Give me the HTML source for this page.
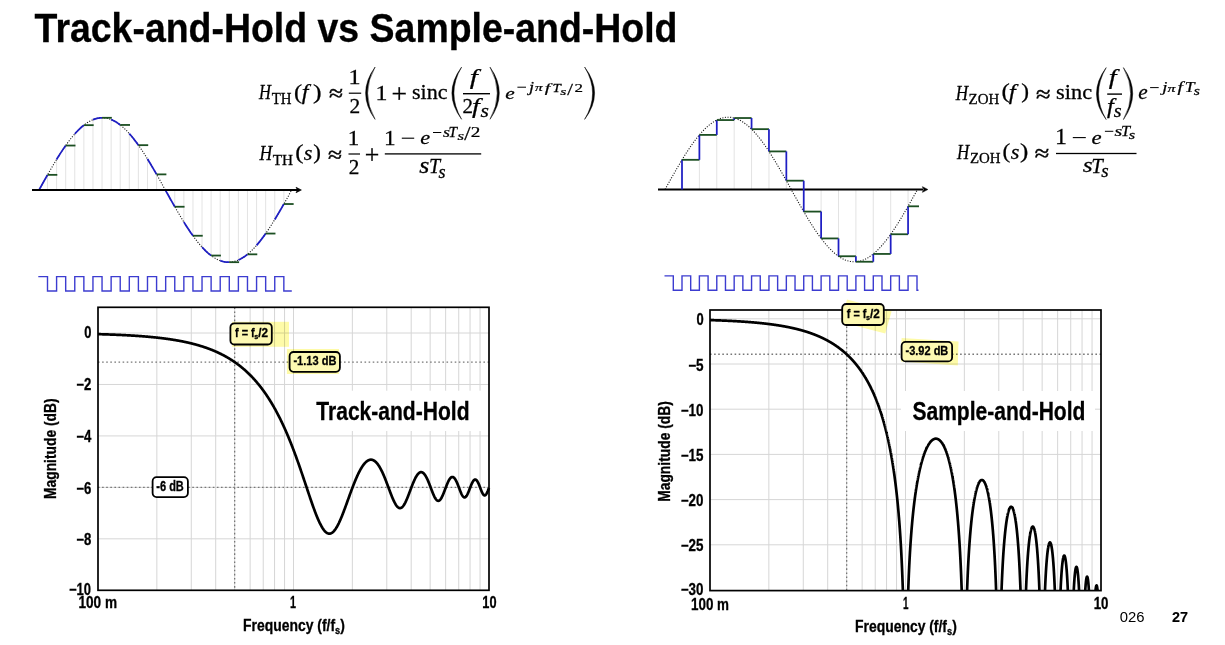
<!DOCTYPE html>
<html><head><meta charset="utf-8"><style>
html,body{margin:0;padding:0;background:#fff;}
svg{display:block;will-change:transform;}
</style></head><body>
<svg width="1225" height="645" viewBox="0 0 1225 645">
<rect width="1225" height="645" fill="#fff"/>
<text x="34.60" y="42.00" font-family='"Liberation Sans", sans-serif' font-size="40.50" font-weight="bold" font-style="normal" fill="#000" stroke="#000" stroke-width="0.3" textLength="642.90" lengthAdjust="spacingAndGlyphs" >Track-and-Hold vs Sample-and-Hold</text>
<line x1="47.50" y1="190.00" x2="47.50" y2="174.85" stroke="#e0e0e0" stroke-width="0.9"/>
<line x1="56.59" y1="190.00" x2="56.59" y2="159.42" stroke="#e0e0e0" stroke-width="0.9"/>
<line x1="65.68" y1="190.00" x2="65.68" y2="145.54" stroke="#e0e0e0" stroke-width="0.9"/>
<line x1="74.77" y1="190.00" x2="74.77" y2="133.92" stroke="#e0e0e0" stroke-width="0.9"/>
<line x1="83.86" y1="190.00" x2="83.86" y2="125.16" stroke="#e0e0e0" stroke-width="0.9"/>
<line x1="92.95" y1="190.00" x2="92.95" y2="119.69" stroke="#e0e0e0" stroke-width="0.9"/>
<line x1="102.04" y1="190.00" x2="102.04" y2="117.80" stroke="#e0e0e0" stroke-width="0.9"/>
<line x1="111.13" y1="190.00" x2="111.13" y2="119.58" stroke="#e0e0e0" stroke-width="0.9"/>
<line x1="120.22" y1="190.00" x2="120.22" y2="124.95" stroke="#e0e0e0" stroke-width="0.9"/>
<line x1="129.31" y1="190.00" x2="129.31" y2="133.62" stroke="#e0e0e0" stroke-width="0.9"/>
<line x1="138.40" y1="190.00" x2="138.40" y2="145.16" stroke="#e0e0e0" stroke-width="0.9"/>
<line x1="147.49" y1="190.00" x2="147.49" y2="158.98" stroke="#e0e0e0" stroke-width="0.9"/>
<line x1="156.58" y1="190.00" x2="156.58" y2="174.38" stroke="#e0e0e0" stroke-width="0.9"/>
<line x1="165.67" y1="190.00" x2="165.67" y2="190.57" stroke="#e0e0e0" stroke-width="0.9"/>
<line x1="174.76" y1="190.00" x2="174.76" y2="206.74" stroke="#e0e0e0" stroke-width="0.9"/>
<line x1="183.85" y1="190.00" x2="183.85" y2="222.05" stroke="#e0e0e0" stroke-width="0.9"/>
<line x1="192.94" y1="190.00" x2="192.94" y2="235.74" stroke="#e0e0e0" stroke-width="0.9"/>
<line x1="202.03" y1="190.00" x2="202.03" y2="247.09" stroke="#e0e0e0" stroke-width="0.9"/>
<line x1="211.12" y1="190.00" x2="211.12" y2="255.54" stroke="#e0e0e0" stroke-width="0.9"/>
<line x1="220.21" y1="190.00" x2="220.21" y2="260.66" stroke="#e0e0e0" stroke-width="0.9"/>
<line x1="229.30" y1="190.00" x2="229.30" y2="262.19" stroke="#e0e0e0" stroke-width="0.9"/>
<line x1="238.39" y1="190.00" x2="238.39" y2="260.04" stroke="#e0e0e0" stroke-width="0.9"/>
<line x1="247.48" y1="190.00" x2="247.48" y2="254.33" stroke="#e0e0e0" stroke-width="0.9"/>
<line x1="256.57" y1="190.00" x2="256.57" y2="245.35" stroke="#e0e0e0" stroke-width="0.9"/>
<line x1="265.66" y1="190.00" x2="265.66" y2="233.55" stroke="#e0e0e0" stroke-width="0.9"/>
<line x1="274.75" y1="190.00" x2="274.75" y2="219.54" stroke="#e0e0e0" stroke-width="0.9"/>
<line x1="283.84" y1="190.00" x2="283.84" y2="204.02" stroke="#e0e0e0" stroke-width="0.9"/>
<path d="M39.00,190.00 L40.27,187.72 L41.54,185.44 L42.81,183.17 L44.08,180.91 L45.35,178.65 L46.62,176.40 L47.89,174.17 L49.16,171.96 L50.43,169.76 L51.70,167.58 L52.97,165.43 L54.24,163.29 L55.51,161.19 L56.78,159.11 L58.05,157.07 L59.32,155.06 L60.59,153.08 L61.86,151.14 L63.13,149.24 L64.40,147.38 L65.67,145.56 L66.94,143.79 L68.21,142.06 L69.48,140.38 L70.75,138.75 L72.02,137.17 L73.29,135.64 L74.56,134.17 L75.83,132.75 L77.10,131.39 L78.37,130.09 L79.64,128.84 L80.91,127.66 L82.17,126.54 L83.44,125.49 L84.71,124.50 L85.98,123.57 L87.25,122.71 L88.52,121.92 L89.79,121.19 L91.06,120.54 L92.33,119.95 L93.60,119.43 L94.87,118.99 L96.14,118.61 L97.41,118.31 L98.68,118.07 L99.95,117.91 L101.22,117.82 L102.49,117.80 L103.76,117.86 L105.03,117.98 L106.30,118.18 L107.57,118.45 L108.84,118.79 L110.11,119.20 L111.38,119.68 L112.65,120.24 L113.92,120.86 L115.19,121.55 L116.46,122.31 L117.73,123.13 L119.00,124.03 L120.27,124.99 L121.54,126.01 L122.81,127.10 L124.08,128.25 L125.35,129.46 L126.62,130.73 L127.89,132.06 L129.16,133.45 L130.43,134.90 L131.70,136.40 L132.97,137.95 L134.24,139.55 L135.51,141.21 L136.78,142.92 L138.05,144.67 L139.32,146.46 L140.59,148.30 L141.86,150.18 L143.13,152.11 L144.40,154.06 L145.67,156.06 L146.94,158.09 L148.21,160.15 L149.48,162.24 L150.75,164.36 L152.02,166.50 L153.29,168.67 L154.56,170.85 L155.83,173.06 L157.10,175.29 L158.37,177.52 L159.64,179.78 L160.91,182.04 L162.18,184.31 L163.45,186.58 L164.72,188.86 L165.98,191.14 L167.25,193.42 L168.52,195.69 L169.79,197.96 L171.06,200.22 L172.33,202.48 L173.60,204.71 L174.87,206.94 L176.14,209.15 L177.41,211.33 L178.68,213.50 L179.95,215.64 L181.22,217.76 L182.49,219.85 L183.76,221.91 L185.03,223.94 L186.30,225.94 L187.57,227.89 L188.84,229.82 L190.11,231.70 L191.38,233.54 L192.65,235.33 L193.92,237.08 L195.19,238.79 L196.46,240.45 L197.73,242.05 L199.00,243.60 L200.27,245.10 L201.54,246.55 L202.81,247.94 L204.08,249.27 L205.35,250.54 L206.62,251.75 L207.89,252.90 L209.16,253.99 L210.43,255.01 L211.70,255.97 L212.97,256.87 L214.24,257.69 L215.51,258.45 L216.78,259.14 L218.05,259.76 L219.32,260.32 L220.59,260.80 L221.86,261.21 L223.13,261.55 L224.40,261.82 L225.67,262.02 L226.94,262.14 L228.21,262.20 L229.48,262.18 L230.75,262.09 L232.02,261.93 L233.29,261.69 L234.56,261.39 L235.83,261.01 L237.10,260.57 L238.37,260.05 L239.64,259.46 L240.91,258.81 L242.18,258.08 L243.45,257.29 L244.72,256.43 L245.99,255.50 L247.26,254.51 L248.53,253.46 L249.79,252.34 L251.06,251.16 L252.33,249.91 L253.60,248.61 L254.87,247.25 L256.14,245.83 L257.41,244.36 L258.68,242.83 L259.95,241.25 L261.22,239.62 L262.49,237.94 L263.76,236.21 L265.03,234.44 L266.30,232.62 L267.57,230.76 L268.84,228.86 L270.11,226.92 L271.38,224.94 L272.65,222.93 L273.92,220.89 L275.19,218.81 L276.46,216.71 L277.73,214.57 L279.00,212.42 L280.27,210.24 L281.54,208.04 L282.81,205.83 L284.08,203.60 L285.35,201.35 L286.62,199.09 L287.89,196.83 L289.16,194.56 L290.43,192.28 L291.70,190.00" fill="none" stroke="#1a1a1a" stroke-width="1.1" stroke-dasharray="1.1 1.5"/>
<path d="M39.00,190.00 L39.77,188.61 L40.55,187.23 L41.32,185.84 L42.09,184.46 L42.86,183.07 L43.64,181.70 L44.41,180.32 L45.18,178.95 L45.95,177.58 L46.73,176.21 L47.50,174.85" fill="none" stroke="#1e1ec4" stroke-width="1.75"/>
<path d="M56.59,159.42 L57.42,158.08 L58.24,156.76 L59.07,155.45 L59.90,154.15 L60.72,152.87 L61.55,151.61 L62.37,150.36 L63.20,149.13 L64.03,147.92 L64.85,146.72 L65.68,145.54" fill="none" stroke="#1e1ec4" stroke-width="1.75"/>
<path d="M74.77,133.92 L75.60,133.00 L76.42,132.10 L77.25,131.23 L78.08,130.38 L78.90,129.55 L79.73,128.76 L80.55,127.98 L81.38,127.24 L82.21,126.52 L83.03,125.82 L83.86,125.16" fill="none" stroke="#1e1ec4" stroke-width="1.75"/>
<path d="M92.95,119.69 L93.78,119.37 L94.60,119.08 L95.43,118.81 L96.26,118.58 L97.08,118.38 L97.91,118.21 L98.73,118.06 L99.56,117.95 L100.39,117.87 L101.21,117.82 L102.04,117.80" fill="none" stroke="#1e1ec4" stroke-width="1.75"/>
<path d="M111.13,119.58 L111.96,119.92 L112.78,120.30 L113.61,120.70 L114.44,121.13 L115.26,121.59 L116.09,122.08 L116.91,122.59 L117.74,123.14 L118.57,123.71 L119.39,124.32 L120.22,124.95" fill="none" stroke="#1e1ec4" stroke-width="1.75"/>
<path d="M129.31,133.62 L130.14,134.56 L130.96,135.52 L131.79,136.50 L132.62,137.51 L133.44,138.54 L134.27,139.59 L135.09,140.67 L135.92,141.76 L136.75,142.87 L137.57,144.01 L138.40,145.16" fill="none" stroke="#1e1ec4" stroke-width="1.75"/>
<path d="M147.49,158.98 L148.32,160.33 L149.14,161.69 L149.97,163.06 L150.80,164.44 L151.62,165.83 L152.45,167.23 L153.27,168.65 L154.10,170.07 L154.93,171.50 L155.75,172.94 L156.58,174.38" fill="none" stroke="#1e1ec4" stroke-width="1.75"/>
<path d="M165.67,190.57 L166.50,192.06 L167.32,193.54 L168.15,195.02 L168.98,196.50 L169.80,197.98 L170.63,199.45 L171.45,200.92 L172.28,202.38 L173.11,203.84 L173.93,205.29 L174.76,206.74" fill="none" stroke="#1e1ec4" stroke-width="1.75"/>
<path d="M183.85,222.05 L184.68,223.37 L185.50,224.68 L186.33,225.98 L187.16,227.26 L187.98,228.52 L188.81,229.76 L189.63,230.99 L190.46,232.21 L191.29,233.40 L192.11,234.58 L192.94,235.74" fill="none" stroke="#1e1ec4" stroke-width="1.75"/>
<path d="M202.03,247.09 L202.86,247.99 L203.68,248.86 L204.51,249.71 L205.34,250.53 L206.16,251.32 L206.99,252.09 L207.81,252.84 L208.64,253.55 L209.47,254.24 L210.29,254.91 L211.12,255.54" fill="none" stroke="#1e1ec4" stroke-width="1.75"/>
<path d="M220.21,260.66 L221.04,260.95 L221.86,261.21 L222.69,261.44 L223.52,261.64 L224.34,261.81 L225.17,261.95 L225.99,262.06 L226.82,262.14 L227.65,262.18 L228.47,262.20 L229.30,262.19" fill="none" stroke="#1e1ec4" stroke-width="1.75"/>
<path d="M238.39,260.04 L239.22,259.66 L240.04,259.26 L240.87,258.83 L241.70,258.36 L242.52,257.87 L243.35,257.35 L244.17,256.80 L245.00,256.23 L245.83,255.62 L246.65,254.99 L247.48,254.33" fill="none" stroke="#1e1ec4" stroke-width="1.75"/>
<path d="M256.57,245.35 L257.40,244.38 L258.22,243.39 L259.05,242.38 L259.88,241.35 L260.70,240.30 L261.53,239.22 L262.35,238.13 L263.18,237.01 L264.01,235.88 L264.83,234.72 L265.66,233.55" fill="none" stroke="#1e1ec4" stroke-width="1.75"/>
<path d="M274.75,219.54 L275.58,218.18 L276.40,216.80 L277.23,215.42 L278.06,214.03 L278.88,212.62 L279.71,211.21 L280.53,209.79 L281.36,208.36 L282.19,206.92 L283.01,205.47 L283.84,204.02" fill="none" stroke="#1e1ec4" stroke-width="1.75"/>
<line x1="32" y1="190.0" x2="298" y2="190.0" stroke="#000" stroke-width="1.9"/>
<path d="M296,187.2 L301.4,190.0 L296,192.8 L297.4,190.0 Z" fill="#000" stroke="#000" stroke-width="0.6" stroke-linejoin="round"/>
<line x1="47.50" y1="174.85" x2="57.30" y2="174.85" stroke="#1c4f22" stroke-width="1.8"/>
<line x1="65.68" y1="145.54" x2="75.48" y2="145.54" stroke="#1c4f22" stroke-width="1.8"/>
<line x1="83.86" y1="125.16" x2="93.66" y2="125.16" stroke="#1c4f22" stroke-width="1.8"/>
<line x1="102.04" y1="117.80" x2="111.84" y2="117.80" stroke="#1c4f22" stroke-width="1.8"/>
<line x1="120.22" y1="124.95" x2="130.02" y2="124.95" stroke="#1c4f22" stroke-width="1.8"/>
<line x1="138.40" y1="145.16" x2="148.20" y2="145.16" stroke="#1c4f22" stroke-width="1.8"/>
<line x1="156.58" y1="174.38" x2="166.38" y2="174.38" stroke="#1c4f22" stroke-width="1.8"/>
<line x1="174.76" y1="206.74" x2="184.56" y2="206.74" stroke="#1c4f22" stroke-width="1.8"/>
<line x1="192.94" y1="235.74" x2="202.74" y2="235.74" stroke="#1c4f22" stroke-width="1.8"/>
<line x1="211.12" y1="255.54" x2="220.92" y2="255.54" stroke="#1c4f22" stroke-width="1.8"/>
<line x1="229.30" y1="262.19" x2="239.10" y2="262.19" stroke="#1c4f22" stroke-width="1.8"/>
<line x1="247.48" y1="254.33" x2="257.28" y2="254.33" stroke="#1c4f22" stroke-width="1.8"/>
<line x1="265.66" y1="233.55" x2="275.46" y2="233.55" stroke="#1c4f22" stroke-width="1.8"/>
<line x1="283.84" y1="204.02" x2="293.64" y2="204.02" stroke="#1c4f22" stroke-width="1.8"/>
<path d="M38.30,276.60 L47.50,276.60 L47.50,291.00 L56.59,291.00 L56.59,291.00 L56.59,276.60 L65.68,276.60 L65.68,291.00 L74.77,291.00 L74.77,291.00 L74.77,276.60 L83.86,276.60 L83.86,291.00 L92.95,291.00 L92.95,291.00 L92.95,276.60 L102.04,276.60 L102.04,291.00 L111.13,291.00 L111.13,291.00 L111.13,276.60 L120.22,276.60 L120.22,291.00 L129.31,291.00 L129.31,291.00 L129.31,276.60 L138.40,276.60 L138.40,291.00 L147.49,291.00 L147.49,291.00 L147.49,276.60 L156.58,276.60 L156.58,291.00 L165.67,291.00 L165.67,291.00 L165.67,276.60 L174.76,276.60 L174.76,291.00 L183.85,291.00 L183.85,291.00 L183.85,276.60 L192.94,276.60 L192.94,291.00 L202.03,291.00 L202.03,291.00 L202.03,276.60 L211.12,276.60 L211.12,291.00 L220.21,291.00 L220.21,291.00 L220.21,276.60 L229.30,276.60 L229.30,291.00 L238.39,291.00 L238.39,291.00 L238.39,276.60 L247.48,276.60 L247.48,291.00 L256.57,291.00 L256.57,291.00 L256.57,276.60 L265.66,276.60 L265.66,291.00 L274.75,291.00 L274.75,291.00 L274.75,276.60 L283.84,276.60 L283.84,291.00 L291.80,291.00" fill="none" stroke="#3c3cd0" stroke-width="1.4"/>
<line x1="682.00" y1="189.50" x2="682.00" y2="159.82" stroke="#e0e0e0" stroke-width="0.9"/>
<line x1="699.39" y1="189.50" x2="699.39" y2="134.91" stroke="#e0e0e0" stroke-width="0.9"/>
<line x1="716.78" y1="189.50" x2="716.78" y2="120.06" stroke="#e0e0e0" stroke-width="0.9"/>
<line x1="734.17" y1="189.50" x2="734.17" y2="118.02" stroke="#e0e0e0" stroke-width="0.9"/>
<line x1="751.56" y1="189.50" x2="751.56" y2="129.15" stroke="#e0e0e0" stroke-width="0.9"/>
<line x1="768.95" y1="189.50" x2="768.95" y2="151.41" stroke="#e0e0e0" stroke-width="0.9"/>
<line x1="786.34" y1="189.50" x2="786.34" y2="180.69" stroke="#e0e0e0" stroke-width="0.9"/>
<line x1="803.73" y1="189.50" x2="803.73" y2="211.59" stroke="#e0e0e0" stroke-width="0.9"/>
<line x1="821.12" y1="189.50" x2="821.12" y2="238.43" stroke="#e0e0e0" stroke-width="0.9"/>
<line x1="838.51" y1="189.50" x2="838.51" y2="256.24" stroke="#e0e0e0" stroke-width="0.9"/>
<line x1="855.90" y1="189.50" x2="855.90" y2="261.75" stroke="#e0e0e0" stroke-width="0.9"/>
<line x1="873.29" y1="189.50" x2="873.29" y2="253.94" stroke="#e0e0e0" stroke-width="0.9"/>
<line x1="890.68" y1="189.50" x2="890.68" y2="234.25" stroke="#e0e0e0" stroke-width="0.9"/>
<line x1="908.07" y1="189.50" x2="908.07" y2="206.31" stroke="#e0e0e0" stroke-width="0.9"/>
<path d="M665.00,189.50 L666.27,187.22 L667.54,184.94 L668.81,182.66 L670.08,180.39 L671.34,178.13 L672.61,175.89 L673.88,173.65 L675.15,171.43 L676.42,169.23 L677.69,167.05 L678.96,164.89 L680.23,162.76 L681.49,160.65 L682.76,158.57 L684.03,156.52 L685.30,154.51 L686.57,152.53 L687.84,150.59 L689.11,148.68 L690.38,146.82 L691.65,145.00 L692.91,143.22 L694.18,141.49 L695.45,139.81 L696.72,138.17 L697.99,136.59 L699.26,135.06 L700.53,133.59 L701.80,132.17 L703.07,130.81 L704.33,129.50 L705.60,128.26 L706.87,127.08 L708.14,125.96 L709.41,124.90 L710.68,123.91 L711.95,122.98 L713.22,122.12 L714.48,121.32 L715.75,120.60 L717.02,119.94 L718.29,119.35 L719.56,118.84 L720.83,118.39 L722.10,118.01 L723.37,117.71 L724.64,117.47 L725.90,117.31 L727.17,117.22 L728.44,117.20 L729.71,117.26 L730.98,117.38 L732.25,117.58 L733.52,117.85 L734.79,118.19 L736.06,118.60 L737.32,119.09 L738.59,119.64 L739.86,120.26 L741.13,120.95 L742.40,121.71 L743.67,122.54 L744.94,123.44 L746.21,124.40 L747.47,125.42 L748.74,126.51 L750.01,127.66 L751.28,128.87 L752.55,130.15 L753.82,131.48 L755.09,132.87 L756.36,134.32 L757.63,135.82 L758.89,137.38 L760.16,138.99 L761.43,140.64 L762.70,142.35 L763.97,144.10 L765.24,145.90 L766.51,147.75 L767.78,149.63 L769.05,151.55 L770.31,153.51 L771.58,155.51 L772.85,157.54 L774.12,159.61 L775.39,161.70 L776.66,163.82 L777.93,165.97 L779.20,168.14 L780.46,170.33 L781.73,172.54 L783.00,174.77 L784.27,177.01 L785.54,179.26 L786.81,181.53 L788.08,183.80 L789.35,186.08 L790.62,188.36 L791.88,190.64 L793.15,192.92 L794.42,195.20 L795.69,197.47 L796.96,199.74 L798.23,201.99 L799.50,204.23 L800.77,206.46 L802.04,208.67 L803.30,210.86 L804.57,213.03 L805.84,215.18 L807.11,217.30 L808.38,219.39 L809.65,221.46 L810.92,223.49 L812.19,225.49 L813.45,227.45 L814.72,229.37 L815.99,231.25 L817.26,233.10 L818.53,234.90 L819.80,236.65 L821.07,238.36 L822.34,240.01 L823.61,241.62 L824.87,243.18 L826.14,244.68 L827.41,246.13 L828.68,247.52 L829.95,248.85 L831.22,250.13 L832.49,251.34 L833.76,252.49 L835.03,253.58 L836.29,254.60 L837.56,255.56 L838.83,256.46 L840.10,257.29 L841.37,258.05 L842.64,258.74 L843.91,259.36 L845.18,259.91 L846.44,260.40 L847.71,260.81 L848.98,261.15 L850.25,261.42 L851.52,261.62 L852.79,261.74 L854.06,261.80 L855.33,261.78 L856.60,261.69 L857.86,261.53 L859.13,261.29 L860.40,260.99 L861.67,260.61 L862.94,260.16 L864.21,259.65 L865.48,259.06 L866.75,258.40 L868.02,257.68 L869.28,256.88 L870.55,256.02 L871.82,255.09 L873.09,254.10 L874.36,253.04 L875.63,251.92 L876.90,250.74 L878.17,249.50 L879.43,248.19 L880.70,246.83 L881.97,245.41 L883.24,243.94 L884.51,242.41 L885.78,240.83 L887.05,239.19 L888.32,237.51 L889.59,235.78 L890.85,234.00 L892.12,232.18 L893.39,230.32 L894.66,228.41 L895.93,226.47 L897.20,224.49 L898.47,222.48 L899.74,220.43 L901.01,218.35 L902.27,216.24 L903.54,214.11 L904.81,211.95 L906.08,209.77 L907.35,207.57 L908.62,205.35 L909.89,203.11 L911.16,200.87 L912.42,198.61 L913.69,196.34 L914.96,194.06 L916.23,191.78 L917.50,189.50" fill="none" stroke="#1a1a1a" stroke-width="1.1" stroke-dasharray="1.1 1.5"/>
<line x1="658" y1="189.5" x2="923" y2="189.5" stroke="#000" stroke-width="2"/>
<path d="M922.4,186.7 L927.8,189.5 L922.4,192.3 L923.8,189.5 Z" fill="#000" stroke="#000" stroke-width="0.6" stroke-linejoin="round"/>
<line x1="682.00" y1="189.50" x2="682.00" y2="159.82" stroke="#1e1ec4" stroke-width="1.75"/>
<line x1="682.00" y1="159.82" x2="699.39" y2="159.82" stroke="#1c4f22" stroke-width="1.8"/>
<line x1="699.39" y1="159.82" x2="699.39" y2="134.91" stroke="#1e1ec4" stroke-width="1.75"/>
<line x1="699.39" y1="134.91" x2="716.78" y2="134.91" stroke="#1c4f22" stroke-width="1.8"/>
<line x1="716.78" y1="134.91" x2="716.78" y2="120.06" stroke="#1e1ec4" stroke-width="1.75"/>
<line x1="716.78" y1="120.06" x2="734.17" y2="120.06" stroke="#1c4f22" stroke-width="1.8"/>
<line x1="734.17" y1="120.06" x2="734.17" y2="118.02" stroke="#1e1ec4" stroke-width="1.75"/>
<line x1="734.17" y1="118.02" x2="751.56" y2="118.02" stroke="#1c4f22" stroke-width="1.8"/>
<line x1="751.56" y1="118.02" x2="751.56" y2="129.15" stroke="#1e1ec4" stroke-width="1.75"/>
<line x1="751.56" y1="129.15" x2="768.95" y2="129.15" stroke="#1c4f22" stroke-width="1.8"/>
<line x1="768.95" y1="129.15" x2="768.95" y2="151.41" stroke="#1e1ec4" stroke-width="1.75"/>
<line x1="768.95" y1="151.41" x2="786.34" y2="151.41" stroke="#1c4f22" stroke-width="1.8"/>
<line x1="786.34" y1="151.41" x2="786.34" y2="180.69" stroke="#1e1ec4" stroke-width="1.75"/>
<line x1="786.34" y1="180.69" x2="803.73" y2="180.69" stroke="#1c4f22" stroke-width="1.8"/>
<line x1="803.73" y1="180.69" x2="803.73" y2="211.59" stroke="#1e1ec4" stroke-width="1.75"/>
<line x1="803.73" y1="211.59" x2="821.12" y2="211.59" stroke="#1c4f22" stroke-width="1.8"/>
<line x1="821.12" y1="211.59" x2="821.12" y2="238.43" stroke="#1e1ec4" stroke-width="1.75"/>
<line x1="821.12" y1="238.43" x2="838.51" y2="238.43" stroke="#1c4f22" stroke-width="1.8"/>
<line x1="838.51" y1="238.43" x2="838.51" y2="256.24" stroke="#1e1ec4" stroke-width="1.75"/>
<line x1="838.51" y1="256.24" x2="855.90" y2="256.24" stroke="#1c4f22" stroke-width="1.8"/>
<line x1="855.90" y1="256.24" x2="855.90" y2="261.75" stroke="#1e1ec4" stroke-width="1.75"/>
<line x1="855.90" y1="261.75" x2="873.29" y2="261.75" stroke="#1c4f22" stroke-width="1.8"/>
<line x1="873.29" y1="261.75" x2="873.29" y2="253.94" stroke="#1e1ec4" stroke-width="1.75"/>
<line x1="873.29" y1="253.94" x2="890.68" y2="253.94" stroke="#1c4f22" stroke-width="1.8"/>
<line x1="890.68" y1="253.94" x2="890.68" y2="234.25" stroke="#1e1ec4" stroke-width="1.75"/>
<line x1="890.68" y1="234.25" x2="908.07" y2="234.25" stroke="#1c4f22" stroke-width="1.8"/>
<line x1="908.07" y1="234.25" x2="908.07" y2="206.31" stroke="#1e1ec4" stroke-width="1.75"/>
<line x1="908.07" y1="206.31" x2="919.00" y2="206.31" stroke="#1c4f22" stroke-width="1.8"/>
<path d="M664.50,275.90 L673.30,275.90 L673.30,290.20 L682.00,290.20 L682.00,275.90 L690.69,275.90 L690.69,290.20 L699.39,290.20 L699.39,275.90 L708.08,275.90 L708.08,290.20 L716.78,290.20 L716.78,275.90 L725.47,275.90 L725.47,290.20 L734.17,290.20 L734.17,275.90 L742.86,275.90 L742.86,290.20 L751.56,290.20 L751.56,275.90 L760.25,275.90 L760.25,290.20 L768.95,290.20 L768.95,275.90 L777.64,275.90 L777.64,290.20 L786.34,290.20 L786.34,275.90 L795.03,275.90 L795.03,290.20 L803.73,290.20 L803.73,275.90 L812.42,275.90 L812.42,290.20 L821.12,290.20 L821.12,275.90 L829.81,275.90 L829.81,290.20 L838.51,290.20 L838.51,275.90 L847.20,275.90 L847.20,290.20 L855.90,290.20 L855.90,275.90 L864.59,275.90 L864.59,290.20 L873.29,290.20 L873.29,275.90 L881.99,275.90 L881.99,290.20 L890.68,290.20 L890.68,275.90 L899.37,275.90 L899.37,290.20 L908.07,290.20 L908.07,275.90 L917.00,275.90 L917.00,290.20 L918.50,290.20" fill="none" stroke="#3c3cd0" stroke-width="1.4"/>
<text font-family='"Liberation Serif", serif' font-style="italic" font-weight="normal" font-size="100" fill="#000" stroke="#000" stroke-width="1.530" transform="matrix(0.16452,0,0,0.20153,258.881,98.900)">H</text>
<text font-family='"Liberation Serif", serif' font-style="normal" font-weight="normal" font-size="100" fill="#000" stroke="#000" stroke-width="1.831" transform="matrix(0.14852,0,0,0.15725,271.633,103.700)">TH</text>
<text font-family='"Liberation Serif", serif' font-style="normal" font-weight="normal" font-size="100" fill="#000" stroke="#000" stroke-width="1.217" transform="matrix(0.24514,0,0,0.21499,293.921,98.721)">(</text>
<text font-family='"Liberation Serif", serif' font-style="italic" font-weight="normal" font-size="100" fill="#000" stroke="#000" stroke-width="1.247" transform="matrix(0.24084,0,0,0.20829,301.735,99.263)">f</text>
<text font-family='"Liberation Serif", serif' font-style="normal" font-weight="normal" font-size="100" fill="#000" stroke="#000" stroke-width="1.187" transform="matrix(0.25681,0,0,0.21499,312.978,98.721)">)</text>
<text font-family='"Liberation Serif", serif' font-style="normal" font-weight="normal" font-size="100" fill="#000" stroke="#000" stroke-width="2.041" transform="matrix(0.25620,0,0,0.23370,329.083,101.035)">≈</text>
<text font-family='"Liberation Serif", serif' font-style="normal" font-weight="normal" font-size="100" fill="#000" stroke="#000" stroke-width="1.230" transform="matrix(0.24148,0,0,0.21364,348.375,83.800)">1</text>
<rect x="348.80" y="92.60" width="12.40" height="1.20" fill="#000"/>
<text font-family='"Liberation Serif", serif' font-style="normal" font-weight="normal" font-size="100" fill="#000" stroke="#000" stroke-width="1.334" transform="matrix(0.21446,0,0,0.20544,349.556,112.700)">2</text>
<path d="M375.10,67.00 Q356.10,93.20 375.10,119.40 Q360.10,93.20 375.10,67.00 Z" fill="#000" stroke="#000" stroke-width="0.5"/>
<text font-family='"Liberation Serif", serif' font-style="normal" font-weight="normal" font-size="100" fill="#000" stroke="#000" stroke-width="1.234" transform="matrix(0.23864,0,0,0.21515,375.400,99.500)">1</text>
<text font-family='"Liberation Serif", serif' font-style="normal" font-weight="normal" font-size="100" fill="#000" stroke="#000" stroke-width="1.018" transform="matrix(0.27527,0,0,0.27468,391.624,102.619)">+</text>
<text font-family='"Liberation Serif", serif' font-style="normal" font-weight="normal" font-size="100" fill="#000" stroke="#000" stroke-width="1.318" transform="matrix(0.22092,0,0,0.20387,411.994,99.296)">sinc</text>
<path d="M461.60,67.10 Q442.20,93.20 461.60,119.30 Q446.20,93.20 461.60,67.10 Z" fill="#000" stroke="#000" stroke-width="0.5"/>
<text font-family='"Liberation Serif", serif' font-style="italic" font-weight="normal" font-size="100" fill="#000" stroke="#000" stroke-width="1.117" transform="matrix(0.29319,0,0,0.20829,469.677,83.663)">f</text>
<rect x="463.00" y="93.00" width="27.00" height="1.40" fill="#000"/>
<text font-family='"Liberation Serif", serif' font-style="normal" font-weight="normal" font-size="100" fill="#000" stroke="#000" stroke-width="1.355" transform="matrix(0.20948,0,0,0.20393,462.578,112.700)">2</text>
<text font-family='"Liberation Serif", serif' font-style="italic" font-weight="normal" font-size="100" fill="#000" stroke="#000" stroke-width="1.160" transform="matrix(0.28010,0,0,0.20284,471.992,113.080)">f</text>
<text font-family='"Liberation Serif", serif' font-style="italic" font-weight="normal" font-size="100" fill="#000" stroke="#000" stroke-width="1.361" transform="matrix(0.21614,0,0,0.19543,480.441,116.805)">s</text>
<path d="M490.00,67.10 Q508.60,93.20 490.00,119.30 Q504.60,93.20 490.00,67.10 Z" fill="#000" stroke="#000" stroke-width="0.5"/>
<text font-family='"Liberation Serif", serif' font-style="italic" font-weight="normal" font-size="100" fill="#000" stroke="#000" stroke-width="1.453" transform="matrix(0.21282,0,0,0.17256,505.240,99.027)">e</text>
<rect x="517.40" y="86.70" width="8.60" height="1.00" fill="#000"/>
<text font-family='"Liberation Serif", serif' font-style="italic" font-weight="normal" font-size="100" fill="#000" stroke="#000" stroke-width="1.670" transform="matrix(0.18333,0,0,0.15200,528.962,91.562)">j</text>
<text font-family='"Liberation Serif", serif' font-style="italic" font-weight="normal" font-size="100" fill="#000" stroke="#000" stroke-width="2.146" transform="matrix(0.15222,0,0,0.10874,534.924,91.491)">π</text>
<text font-family='"Liberation Serif", serif' font-style="italic" font-weight="normal" font-size="100" fill="#000" stroke="#000" stroke-width="1.709" transform="matrix(0.19895,0,0,0.12868,544.781,92.059)">f</text>
<text font-family='"Liberation Serif", serif' font-style="italic" font-weight="normal" font-size="100" fill="#000" stroke="#000" stroke-width="2.028" transform="matrix(0.14936,0,0,0.12672,552.414,91.600)">T</text>
<text font-family='"Liberation Serif", serif' font-style="italic" font-weight="normal" font-size="100" fill="#000" stroke="#000" stroke-width="2.157" transform="matrix(0.15562,0,0,0.10395,560.313,94.696)">s</text>
<text font-family='"Liberation Serif", serif' font-style="normal" font-weight="normal" font-size="100" fill="#000" stroke="#000" stroke-width="1.468" transform="matrix(0.20504,0,0,0.17638,567.300,94.624)">/</text>
<text font-family='"Liberation Serif", serif' font-style="normal" font-weight="normal" font-size="100" fill="#000" stroke="#000" stroke-width="1.870" transform="matrix(0.16958,0,0,0.12991,574.454,91.900)">2</text>
<path d="M584.60,67.00 Q604.60,93.20 584.60,119.40 Q600.60,93.20 584.60,67.00 Z" fill="#000" stroke="#000" stroke-width="0.5"/>
<text font-family='"Liberation Serif", serif' font-style="italic" font-weight="normal" font-size="100" fill="#000" stroke="#000" stroke-width="1.436" transform="matrix(0.17481,0,0,0.21527,259.492,160.000)">H</text>
<text font-family='"Liberation Serif", serif' font-style="normal" font-weight="normal" font-size="100" fill="#000" stroke="#000" stroke-width="1.854" transform="matrix(0.15241,0,0,0.14962,272.626,164.700)">TH</text>
<text font-family='"Liberation Serif", serif' font-style="normal" font-weight="normal" font-size="100" fill="#000" stroke="#000" stroke-width="1.216" transform="matrix(0.24903,0,0,0.21169,295.304,159.291)">(</text>
<text font-family='"Liberation Serif", serif' font-style="italic" font-weight="normal" font-size="100" fill="#000" stroke="#000" stroke-width="1.316" transform="matrix(0.22190,0,0,0.20374,303.734,159.796)">s</text>
<text font-family='"Liberation Serif", serif' font-style="normal" font-weight="normal" font-size="100" fill="#000" stroke="#000" stroke-width="1.269" transform="matrix(0.22957,0,0,0.21169,313.165,159.291)">)</text>
<text font-family='"Liberation Serif", serif' font-style="normal" font-weight="normal" font-size="100" fill="#000" stroke="#000" stroke-width="2.099" transform="matrix(0.25620,0,0,0.22011,327.883,161.636)">≈</text>
<text font-family='"Liberation Serif", serif' font-style="normal" font-weight="normal" font-size="100" fill="#000" stroke="#000" stroke-width="1.266" transform="matrix(0.23011,0,0,0.21212,347.775,145.000)">1</text>
<rect x="348.50" y="153.40" width="11.50" height="1.20" fill="#000"/>
<text font-family='"Liberation Serif", serif' font-style="normal" font-weight="normal" font-size="100" fill="#000" stroke="#000" stroke-width="1.322" transform="matrix(0.21197,0,0,0.21148,348.867,174.000)">2</text>
<text font-family='"Liberation Serif", serif' font-style="normal" font-weight="normal" font-size="100" fill="#000" stroke="#000" stroke-width="1.051" transform="matrix(0.25806,0,0,0.27468,364.710,163.519)">+</text>
<rect x="384.80" y="153.25" width="96.40" height="1.30" fill="#000"/>
<text font-family='"Liberation Serif", serif' font-style="normal" font-weight="normal" font-size="100" fill="#000" stroke="#000" stroke-width="1.258" transform="matrix(0.23295,0,0,0.21212,383.950,145.000)">1</text>
<rect x="401.80" y="137.65" width="12.40" height="1.10" fill="#000"/>
<text font-family='"Liberation Serif", serif' font-style="italic" font-weight="normal" font-size="100" fill="#000" stroke="#000" stroke-width="1.358" transform="matrix(0.22308,0,0,0.18919,420.308,144.311)">e</text>
<rect x="433.00" y="132.00" width="8.30" height="1.00" fill="#000"/>
<text font-family='"Liberation Serif", serif' font-style="italic" font-weight="normal" font-size="100" fill="#000" stroke="#000" stroke-width="1.761" transform="matrix(0.17867,0,0,0.13929,442.986,137.161)">s</text>
<text font-family='"Liberation Serif", serif' font-style="italic" font-weight="normal" font-size="100" fill="#000" stroke="#000" stroke-width="1.918" transform="matrix(0.15301,0,0,0.13893,448.590,137.300)">T</text>
<text font-family='"Liberation Serif", serif' font-style="italic" font-weight="normal" font-size="100" fill="#000" stroke="#000" stroke-width="1.946" transform="matrix(0.16715,0,0,0.12058,457.399,140.079)">s</text>
<text font-family='"Liberation Serif", serif' font-style="normal" font-weight="normal" font-size="100" fill="#000" stroke="#000" stroke-width="1.354" transform="matrix(0.22662,0,0,0.18685,464.300,140.013)">/</text>
<text font-family='"Liberation Serif", serif' font-style="normal" font-weight="normal" font-size="100" fill="#000" stroke="#000" stroke-width="1.662" transform="matrix(0.19202,0,0,0.14502,470.655,137.300)">2</text>
<text font-family='"Liberation Serif", serif' font-style="italic" font-weight="normal" font-size="100" fill="#000" stroke="#000" stroke-width="1.167" transform="matrix(0.25937,0,0,0.22037,419.289,173.180)">s</text>
<text font-family='"Liberation Serif", serif' font-style="italic" font-weight="normal" font-size="100" fill="#000" stroke="#000" stroke-width="1.378" transform="matrix(0.20036,0,0,0.20611,428.978,173.400)">T</text>
<text font-family='"Liberation Serif", serif' font-style="italic" font-weight="normal" font-size="100" fill="#000" stroke="#000" stroke-width="1.510" transform="matrix(0.18156,0,0,0.18919,438.582,177.511)">s</text>
<text font-family='"Liberation Serif", serif' font-style="italic" font-weight="normal" font-size="100" fill="#000" stroke="#000" stroke-width="1.467" transform="matrix(0.17095,0,0,0.21069,955.788,99.900)">H</text>
<text font-family='"Liberation Serif", serif' font-style="normal" font-weight="normal" font-size="100" fill="#000" stroke="#000" stroke-width="1.895" transform="matrix(0.14965,0,0,0.14583,968.582,103.554)">ZOH</text>
<text font-family='"Liberation Serif", serif' font-style="normal" font-weight="normal" font-size="100" fill="#000" stroke="#000" stroke-width="1.224" transform="matrix(0.24903,0,0,0.20838,1001.604,98.462)">(</text>
<text font-family='"Liberation Serif", serif' font-style="italic" font-weight="normal" font-size="100" fill="#000" stroke="#000" stroke-width="1.220" transform="matrix(0.24869,0,0,0.21047,1008.826,99.217)">f</text>
<text font-family='"Liberation Serif", serif' font-style="normal" font-weight="normal" font-size="100" fill="#000" stroke="#000" stroke-width="1.267" transform="matrix(0.23346,0,0,0.20838,1021.253,98.462)">)</text>
<text font-family='"Liberation Serif", serif' font-style="normal" font-weight="normal" font-size="100" fill="#000" stroke="#000" stroke-width="2.007" transform="matrix(0.26446,0,0,0.23370,1036.060,101.735)">≈</text>
<text font-family='"Liberation Serif", serif' font-style="normal" font-weight="normal" font-size="100" fill="#000" stroke="#000" stroke-width="1.319" transform="matrix(0.22352,0,0,0.20089,1056.084,99.499)">sinc</text>
<path d="M1106.20,67.60 Q1086.80,93.60 1106.20,119.60 Q1090.80,93.60 1106.20,67.60 Z" fill="#000" stroke="#000" stroke-width="0.5"/>
<text font-family='"Liberation Serif", serif' font-style="italic" font-weight="normal" font-size="100" fill="#000" stroke="#000" stroke-width="1.160" transform="matrix(0.28010,0,0,0.20284,1108.692,84.180)">f</text>
<rect x="1107.20" y="93.40" width="14.80" height="1.40" fill="#000"/>
<text font-family='"Liberation Serif", serif' font-style="italic" font-weight="normal" font-size="100" fill="#000" stroke="#000" stroke-width="1.240" transform="matrix(0.24346,0,0,0.20829,1106.932,113.363)">f</text>
<text font-family='"Liberation Serif", serif' font-style="italic" font-weight="normal" font-size="100" fill="#000" stroke="#000" stroke-width="1.417" transform="matrix(0.20173,0,0,0.19335,1113.758,117.107)">s</text>
<path d="M1123.40,67.60 Q1142.00,93.60 1123.40,119.60 Q1138.00,93.60 1123.40,67.60 Z" fill="#000" stroke="#000" stroke-width="0.5"/>
<text font-family='"Liberation Serif", serif' font-style="italic" font-weight="normal" font-size="100" fill="#000" stroke="#000" stroke-width="1.338" transform="matrix(0.21282,0,0,0.20582,1138.340,99.494)">e</text>
<rect x="1150.10" y="87.10" width="8.60" height="1.00" fill="#000"/>
<text font-family='"Liberation Serif", serif' font-style="italic" font-weight="normal" font-size="100" fill="#000" stroke="#000" stroke-width="1.691" transform="matrix(0.18611,0,0,0.14514,1162.291,91.808)">j</text>
<text font-family='"Liberation Serif", serif' font-style="italic" font-weight="normal" font-size="100" fill="#000" stroke="#000" stroke-width="2.099" transform="matrix(0.15800,0,0,0.10874,1167.621,91.991)">π</text>
<text font-family='"Liberation Serif", serif' font-style="italic" font-weight="normal" font-size="100" fill="#000" stroke="#000" stroke-width="1.686" transform="matrix(0.19372,0,0,0.13850,1177.587,91.950)">f</text>
<text font-family='"Liberation Serif", serif' font-style="italic" font-weight="normal" font-size="100" fill="#000" stroke="#000" stroke-width="1.792" transform="matrix(0.17668,0,0,0.13588,1184.834,91.700)">T</text>
<text font-family='"Liberation Serif", serif' font-style="italic" font-weight="normal" font-size="100" fill="#000" stroke="#000" stroke-width="1.935" transform="matrix(0.15850,0,0,0.13098,1193.810,95.069)">s</text>
<text font-family='"Liberation Serif", serif' font-style="italic" font-weight="normal" font-size="100" fill="#000" stroke="#000" stroke-width="1.478" transform="matrix(0.16967,0,0,0.20916,957.087,159.000)">H</text>
<text font-family='"Liberation Serif", serif' font-style="normal" font-weight="normal" font-size="100" fill="#000" stroke="#000" stroke-width="1.889" transform="matrix(0.14914,0,0,0.14732,969.884,163.153)">ZOH</text>
<text font-family='"Liberation Serif", serif' font-style="normal" font-weight="normal" font-size="100" fill="#000" stroke="#000" stroke-width="1.255" transform="matrix(0.23346,0,0,0.21279,1002.573,158.368)">(</text>
<text font-family='"Liberation Serif", serif' font-style="italic" font-weight="normal" font-size="100" fill="#000" stroke="#000" stroke-width="1.309" transform="matrix(0.22190,0,0,0.20582,1010.634,158.794)">s</text>
<text font-family='"Liberation Serif", serif' font-style="normal" font-weight="normal" font-size="100" fill="#000" stroke="#000" stroke-width="1.213" transform="matrix(0.24903,0,0,0.21279,1019.903,158.368)">)</text>
<text font-family='"Liberation Serif", serif' font-style="normal" font-weight="normal" font-size="100" fill="#000" stroke="#000" stroke-width="2.007" transform="matrix(0.26446,0,0,0.23370,1034.760,161.335)">≈</text>
<text font-family='"Liberation Serif", serif' font-style="normal" font-weight="normal" font-size="100" fill="#000" stroke="#000" stroke-width="1.206" transform="matrix(0.23864,0,0,0.22576,1054.900,144.300)">1</text>
<rect x="1072.80" y="137.05" width="13.00" height="1.10" fill="#000"/>
<text font-family='"Liberation Serif", serif' font-style="italic" font-weight="normal" font-size="100" fill="#000" stroke="#000" stroke-width="1.328" transform="matrix(0.22821,0,0,0.19335,1091.593,143.707)">e</text>
<rect x="1104.90" y="130.80" width="8.40" height="1.00" fill="#000"/>
<text font-family='"Liberation Serif", serif' font-style="italic" font-weight="normal" font-size="100" fill="#000" stroke="#000" stroke-width="1.666" transform="matrix(0.19885,0,0,0.13721,1114.461,135.863)">s</text>
<text font-family='"Liberation Serif", serif' font-style="italic" font-weight="normal" font-size="100" fill="#000" stroke="#000" stroke-width="1.786" transform="matrix(0.16393,0,0,0.14962,1120.918,136.000)">T</text>
<text font-family='"Liberation Serif", serif' font-style="italic" font-weight="normal" font-size="100" fill="#000" stroke="#000" stroke-width="1.870" transform="matrix(0.16427,0,0,0.13514,1128.803,139.065)">s</text>
<rect x="1056.00" y="152.85" width="80.50" height="1.30" fill="#000"/>
<text font-family='"Liberation Serif", serif' font-style="italic" font-weight="normal" font-size="100" fill="#000" stroke="#000" stroke-width="1.203" transform="matrix(0.25360,0,0,0.21206,1082.696,172.488)">s</text>
<text font-family='"Liberation Serif", serif' font-style="italic" font-weight="normal" font-size="100" fill="#000" stroke="#000" stroke-width="1.353" transform="matrix(0.20765,0,0,0.20611,1091.230,172.700)">T</text>
<text font-family='"Liberation Serif", serif' font-style="italic" font-weight="normal" font-size="100" fill="#000" stroke="#000" stroke-width="1.492" transform="matrix(0.19020,0,0,0.18503,1101.372,176.715)">s</text>
<line x1="156.85" y1="307.3" x2="156.85" y2="590.3" stroke="#d6d6d6" stroke-width="1"/>
<line x1="191.28" y1="307.3" x2="191.28" y2="590.3" stroke="#d6d6d6" stroke-width="1"/>
<line x1="215.70" y1="307.3" x2="215.70" y2="590.3" stroke="#d6d6d6" stroke-width="1"/>
<line x1="234.65" y1="307.3" x2="234.65" y2="590.3" stroke="#d6d6d6" stroke-width="1"/>
<line x1="250.13" y1="307.3" x2="250.13" y2="590.3" stroke="#d6d6d6" stroke-width="1"/>
<line x1="263.22" y1="307.3" x2="263.22" y2="590.3" stroke="#d6d6d6" stroke-width="1"/>
<line x1="274.55" y1="307.3" x2="274.55" y2="590.3" stroke="#d6d6d6" stroke-width="1"/>
<line x1="284.55" y1="307.3" x2="284.55" y2="590.3" stroke="#d6d6d6" stroke-width="1"/>
<line x1="293.50" y1="307.3" x2="293.50" y2="590.3" stroke="#d6d6d6" stroke-width="1"/>
<line x1="352.35" y1="307.3" x2="352.35" y2="590.3" stroke="#d6d6d6" stroke-width="1"/>
<line x1="386.78" y1="307.3" x2="386.78" y2="590.3" stroke="#d6d6d6" stroke-width="1"/>
<line x1="411.20" y1="307.3" x2="411.20" y2="590.3" stroke="#d6d6d6" stroke-width="1"/>
<line x1="430.15" y1="307.3" x2="430.15" y2="590.3" stroke="#d6d6d6" stroke-width="1"/>
<line x1="445.63" y1="307.3" x2="445.63" y2="590.3" stroke="#d6d6d6" stroke-width="1"/>
<line x1="458.72" y1="307.3" x2="458.72" y2="590.3" stroke="#d6d6d6" stroke-width="1"/>
<line x1="470.05" y1="307.3" x2="470.05" y2="590.3" stroke="#d6d6d6" stroke-width="1"/>
<line x1="480.05" y1="307.3" x2="480.05" y2="590.3" stroke="#d6d6d6" stroke-width="1"/>
<line x1="98.0" y1="333.00" x2="489.0" y2="333.00" stroke="#d6d6d6" stroke-width="1"/>
<line x1="98.0" y1="384.46" x2="489.0" y2="384.46" stroke="#d6d6d6" stroke-width="1"/>
<line x1="98.0" y1="435.92" x2="489.0" y2="435.92" stroke="#d6d6d6" stroke-width="1"/>
<line x1="98.0" y1="487.38" x2="489.0" y2="487.38" stroke="#d6d6d6" stroke-width="1"/>
<line x1="98.0" y1="538.84" x2="489.0" y2="538.84" stroke="#d6d6d6" stroke-width="1"/>
<rect x="294.4" y="390.7" width="192.1" height="40.3" fill="#fff"/>
<line x1="98.0" y1="362.07" x2="489.0" y2="362.07" stroke="#777" stroke-width="1.3" stroke-dasharray="1.6 2.5"/>
<line x1="98.0" y1="487.38" x2="489.0" y2="487.38" stroke="#777" stroke-width="1.3" stroke-dasharray="1.6 2.5"/>
<line x1="234.65" y1="307.3" x2="234.65" y2="590.3" stroke="#777" stroke-width="1.3" stroke-dasharray="1.6 2.5"/>
<path d="M98.00,334.15 L98.26,334.16 L98.52,334.16 L98.78,334.17 L99.04,334.18 L99.30,334.19 L99.57,334.19 L99.83,334.20 L100.09,334.21 L100.35,334.21 L100.61,334.22 L100.87,334.23 L101.13,334.24 L101.39,334.25 L101.65,334.25 L101.91,334.26 L102.17,334.27 L102.43,334.28 L102.70,334.28 L102.96,334.29 L103.22,334.30 L103.48,334.31 L103.74,334.32 L104.00,334.32 L104.26,334.33 L104.52,334.34 L104.78,334.35 L105.04,334.36 L105.30,334.37 L105.56,334.37 L105.83,334.38 L106.09,334.39 L106.35,334.40 L106.61,334.41 L106.87,334.42 L107.13,334.43 L107.39,334.43 L107.65,334.44 L107.91,334.45 L108.17,334.46 L108.43,334.47 L108.69,334.48 L108.96,334.49 L109.22,334.50 L109.48,334.51 L109.74,334.52 L110.00,334.53 L110.26,334.53 L110.52,334.54 L110.78,334.55 L111.04,334.56 L111.30,334.57 L111.56,334.58 L111.82,334.59 L112.09,334.60 L112.35,334.61 L112.61,334.62 L112.87,334.63 L113.13,334.64 L113.39,334.65 L113.65,334.66 L113.91,334.67 L114.17,334.68 L114.43,334.69 L114.69,334.70 L114.95,334.71 L115.22,334.72 L115.48,334.74 L115.74,334.75 L116.00,334.76 L116.26,334.77 L116.52,334.78 L116.78,334.79 L117.04,334.80 L117.30,334.81 L117.56,334.82 L117.82,334.83 L118.08,334.85 L118.35,334.86 L118.61,334.87 L118.87,334.88 L119.13,334.89 L119.39,334.90 L119.65,334.91 L119.91,334.93 L120.17,334.94 L120.43,334.95 L120.69,334.96 L120.95,334.97 L121.21,334.99 L121.48,335.00 L121.74,335.01 L122.00,335.02 L122.26,335.04 L122.52,335.05 L122.78,335.06 L123.04,335.07 L123.30,335.09 L123.56,335.10 L123.82,335.11 L124.08,335.13 L124.34,335.14 L124.61,335.15 L124.87,335.17 L125.13,335.18 L125.39,335.19 L125.65,335.21 L125.91,335.22 L126.17,335.23 L126.43,335.25 L126.69,335.26 L126.95,335.27 L127.21,335.29 L127.47,335.30 L127.74,335.32 L128.00,335.33 L128.26,335.35 L128.52,335.36 L128.78,335.37 L129.04,335.39 L129.30,335.40 L129.56,335.42 L129.82,335.43 L130.08,335.45 L130.34,335.46 L130.61,335.48 L130.87,335.49 L131.13,335.51 L131.39,335.53 L131.65,335.54 L131.91,335.56 L132.17,335.57 L132.43,335.59 L132.69,335.60 L132.95,335.62 L133.21,335.64 L133.47,335.65 L133.74,335.67 L134.00,335.69 L134.26,335.70 L134.52,335.72 L134.78,335.74 L135.04,335.75 L135.30,335.77 L135.56,335.79 L135.82,335.80 L136.08,335.82 L136.34,335.84 L136.60,335.86 L136.87,335.87 L137.13,335.89 L137.39,335.91 L137.65,335.93 L137.91,335.95 L138.17,335.96 L138.43,335.98 L138.69,336.00 L138.95,336.02 L139.21,336.04 L139.47,336.06 L139.73,336.07 L140.00,336.09 L140.26,336.11 L140.52,336.13 L140.78,336.15 L141.04,336.17 L141.30,336.19 L141.56,336.21 L141.82,336.23 L142.08,336.25 L142.34,336.27 L142.60,336.29 L142.86,336.31 L143.13,336.33 L143.39,336.35 L143.65,336.37 L143.91,336.39 L144.17,336.41 L144.43,336.43 L144.69,336.46 L144.95,336.48 L145.21,336.50 L145.47,336.52 L145.73,336.54 L145.99,336.56 L146.26,336.59 L146.52,336.61 L146.78,336.63 L147.04,336.65 L147.30,336.68 L147.56,336.70 L147.82,336.72 L148.08,336.74 L148.34,336.77 L148.60,336.79 L148.86,336.81 L149.12,336.84 L149.39,336.86 L149.65,336.88 L149.91,336.91 L150.17,336.93 L150.43,336.96 L150.69,336.98 L150.95,337.01 L151.21,337.03 L151.47,337.06 L151.73,337.08 L151.99,337.11 L152.25,337.13 L152.52,337.16 L152.78,337.18 L153.04,337.21 L153.30,337.23 L153.56,337.26 L153.82,337.29 L154.08,337.31 L154.34,337.34 L154.60,337.37 L154.86,337.39 L155.12,337.42 L155.38,337.45 L155.65,337.48 L155.91,337.50 L156.17,337.53 L156.43,337.56 L156.69,337.59 L156.95,337.62 L157.21,337.64 L157.47,337.67 L157.73,337.70 L157.99,337.73 L158.25,337.76 L158.52,337.79 L158.78,337.82 L159.04,337.85 L159.30,337.88 L159.56,337.91 L159.82,337.94 L160.08,337.97 L160.34,338.00 L160.60,338.03 L160.86,338.06 L161.12,338.09 L161.38,338.13 L161.65,338.16 L161.91,338.19 L162.17,338.22 L162.43,338.25 L162.69,338.29 L162.95,338.32 L163.21,338.35 L163.47,338.38 L163.73,338.42 L163.99,338.45 L164.25,338.48 L164.51,338.52 L164.78,338.55 L165.04,338.59 L165.30,338.62 L165.56,338.66 L165.82,338.69 L166.08,338.73 L166.34,338.76 L166.60,338.80 L166.86,338.83 L167.12,338.87 L167.38,338.91 L167.64,338.94 L167.91,338.98 L168.17,339.02 L168.43,339.05 L168.69,339.09 L168.95,339.13 L169.21,339.17 L169.47,339.20 L169.73,339.24 L169.99,339.28 L170.25,339.32 L170.51,339.36 L170.77,339.40 L171.04,339.44 L171.30,339.48 L171.56,339.52 L171.82,339.56 L172.08,339.60 L172.34,339.64 L172.60,339.68 L172.86,339.72 L173.12,339.76 L173.38,339.80 L173.64,339.85 L173.90,339.89 L174.17,339.93 L174.43,339.97 L174.69,340.02 L174.95,340.06 L175.21,340.10 L175.47,340.15 L175.73,340.19 L175.99,340.24 L176.25,340.28 L176.51,340.33 L176.77,340.37 L177.03,340.42 L177.30,340.46 L177.56,340.51 L177.82,340.56 L178.08,340.60 L178.34,340.65 L178.60,340.70 L178.86,340.74 L179.12,340.79 L179.38,340.84 L179.64,340.89 L179.90,340.94 L180.16,340.99 L180.43,341.04 L180.69,341.09 L180.95,341.14 L181.21,341.19 L181.47,341.24 L181.73,341.29 L181.99,341.34 L182.25,341.39 L182.51,341.44 L182.77,341.49 L183.03,341.55 L183.29,341.60 L183.56,341.65 L183.82,341.71 L184.08,341.76 L184.34,341.82 L184.60,341.87 L184.86,341.92 L185.12,341.98 L185.38,342.04 L185.64,342.09 L185.90,342.15 L186.16,342.20 L186.42,342.26 L186.69,342.32 L186.95,342.38 L187.21,342.43 L187.47,342.49 L187.73,342.55 L187.99,342.61 L188.25,342.67 L188.51,342.73 L188.77,342.79 L189.03,342.85 L189.29,342.91 L189.56,342.97 L189.82,343.03 L190.08,343.10 L190.34,343.16 L190.60,343.22 L190.86,343.29 L191.12,343.35 L191.38,343.41 L191.64,343.48 L191.90,343.54 L192.16,343.61 L192.42,343.67 L192.69,343.74 L192.95,343.81 L193.21,343.87 L193.47,343.94 L193.73,344.01 L193.99,344.08 L194.25,344.14 L194.51,344.21 L194.77,344.28 L195.03,344.35 L195.29,344.42 L195.55,344.49 L195.82,344.57 L196.08,344.64 L196.34,344.71 L196.60,344.78 L196.86,344.85 L197.12,344.93 L197.38,345.00 L197.64,345.08 L197.90,345.15 L198.16,345.23 L198.42,345.30 L198.68,345.38 L198.95,345.46 L199.21,345.53 L199.47,345.61 L199.73,345.69 L199.99,345.77 L200.25,345.85 L200.51,345.93 L200.77,346.01 L201.03,346.09 L201.29,346.17 L201.55,346.25 L201.81,346.33 L202.08,346.41 L202.34,346.50 L202.60,346.58 L202.86,346.66 L203.12,346.75 L203.38,346.83 L203.64,346.92 L203.90,347.01 L204.16,347.09 L204.42,347.18 L204.68,347.27 L204.94,347.36 L205.21,347.45 L205.47,347.54 L205.73,347.63 L205.99,347.72 L206.25,347.81 L206.51,347.90 L206.77,347.99 L207.03,348.08 L207.29,348.18 L207.55,348.27 L207.81,348.37 L208.07,348.46 L208.34,348.56 L208.60,348.66 L208.86,348.75 L209.12,348.85 L209.38,348.95 L209.64,349.05 L209.90,349.15 L210.16,349.25 L210.42,349.35 L210.68,349.45 L210.94,349.55 L211.20,349.65 L211.47,349.76 L211.73,349.86 L211.99,349.97 L212.25,350.07 L212.51,350.18 L212.77,350.28 L213.03,350.39 L213.29,350.50 L213.55,350.61 L213.81,350.72 L214.07,350.83 L214.33,350.94 L214.60,351.05 L214.86,351.16 L215.12,351.27 L215.38,351.39 L215.64,351.50 L215.90,351.62 L216.16,351.73 L216.42,351.85 L216.68,351.97 L216.94,352.08 L217.20,352.20 L217.46,352.32 L217.73,352.44 L217.99,352.56 L218.25,352.68 L218.51,352.81 L218.77,352.93 L219.03,353.05 L219.29,353.18 L219.55,353.30 L219.81,353.43 L220.07,353.56 L220.33,353.68 L220.60,353.81 L220.86,353.94 L221.12,354.07 L221.38,354.20 L221.64,354.33 L221.90,354.47 L222.16,354.60 L222.42,354.73 L222.68,354.87 L222.94,355.00 L223.20,355.14 L223.46,355.28 L223.73,355.42 L223.99,355.56 L224.25,355.70 L224.51,355.84 L224.77,355.98 L225.03,356.12 L225.29,356.27 L225.55,356.41 L225.81,356.56 L226.07,356.70 L226.33,356.85 L226.59,357.00 L226.86,357.15 L227.12,357.30 L227.38,357.45 L227.64,357.60 L227.90,357.76 L228.16,357.91 L228.42,358.06 L228.68,358.22 L228.94,358.38 L229.20,358.54 L229.46,358.69 L229.72,358.85 L229.99,359.02 L230.25,359.18 L230.51,359.34 L230.77,359.50 L231.03,359.67 L231.29,359.83 L231.55,360.00 L231.81,360.17 L232.07,360.34 L232.33,360.51 L232.59,360.68 L232.85,360.85 L233.12,361.03 L233.38,361.20 L233.64,361.38 L233.90,361.55 L234.16,361.73 L234.42,361.91 L234.68,362.09 L234.94,362.27 L235.20,362.45 L235.46,362.64 L235.72,362.82 L235.98,363.01 L236.25,363.19 L236.51,363.38 L236.77,363.57 L237.03,363.76 L237.29,363.95 L237.55,364.15 L237.81,364.34 L238.07,364.54 L238.33,364.73 L238.59,364.93 L238.85,365.13 L239.11,365.33 L239.38,365.53 L239.64,365.73 L239.90,365.94 L240.16,366.14 L240.42,366.35 L240.68,366.56 L240.94,366.77 L241.20,366.98 L241.46,367.19 L241.72,367.40 L241.98,367.62 L242.24,367.83 L242.51,368.05 L242.77,368.27 L243.03,368.49 L243.29,368.71 L243.55,368.93 L243.81,369.16 L244.07,369.38 L244.33,369.61 L244.59,369.84 L244.85,370.07 L245.11,370.30 L245.37,370.53 L245.64,370.76 L245.90,371.00 L246.16,371.24 L246.42,371.48 L246.68,371.72 L246.94,371.96 L247.20,372.20 L247.46,372.44 L247.72,372.69 L247.98,372.94 L248.24,373.19 L248.51,373.44 L248.77,373.69 L249.03,373.94 L249.29,374.20 L249.55,374.46 L249.81,374.72 L250.07,374.98 L250.33,375.24 L250.59,375.50 L250.85,375.77 L251.11,376.03 L251.37,376.30 L251.64,376.57 L251.90,376.84 L252.16,377.12 L252.42,377.39 L252.68,377.67 L252.94,377.95 L253.20,378.23 L253.46,378.51 L253.72,378.80 L253.98,379.08 L254.24,379.37 L254.50,379.66 L254.77,379.95 L255.03,380.24 L255.29,380.54 L255.55,380.84 L255.81,381.13 L256.07,381.43 L256.33,381.74 L256.59,382.04 L256.85,382.35 L257.11,382.65 L257.37,382.96 L257.63,383.28 L257.90,383.59 L258.16,383.91 L258.42,384.22 L258.68,384.54 L258.94,384.87 L259.20,385.19 L259.46,385.51 L259.72,385.84 L259.98,386.17 L260.24,386.50 L260.50,386.84 L260.76,387.17 L261.03,387.51 L261.29,387.85 L261.55,388.19 L261.81,388.54 L262.07,388.89 L262.33,389.23 L262.59,389.58 L262.85,389.94 L263.11,390.29 L263.37,390.65 L263.63,391.01 L263.89,391.37 L264.16,391.74 L264.42,392.10 L264.68,392.47 L264.94,392.84 L265.20,393.21 L265.46,393.59 L265.72,393.97 L265.98,394.35 L266.24,394.73 L266.50,395.11 L266.76,395.50 L267.02,395.89 L267.29,396.28 L267.55,396.68 L267.81,397.07 L268.07,397.47 L268.33,397.87 L268.59,398.28 L268.85,398.68 L269.11,399.09 L269.37,399.50 L269.63,399.92 L269.89,400.33 L270.15,400.75 L270.42,401.18 L270.68,401.60 L270.94,402.03 L271.20,402.46 L271.46,402.89 L271.72,403.32 L271.98,403.76 L272.24,404.20 L272.50,404.64 L272.76,405.09 L273.02,405.53 L273.28,405.98 L273.55,406.44 L273.81,406.89 L274.07,407.35 L274.33,407.81 L274.59,408.28 L274.85,408.74 L275.11,409.21 L275.37,409.68 L275.63,410.16 L275.89,410.64 L276.15,411.12 L276.41,411.60 L276.68,412.09 L276.94,412.58 L277.20,413.07 L277.46,413.56 L277.72,414.06 L277.98,414.56 L278.24,415.07 L278.50,415.57 L278.76,416.08 L279.02,416.60 L279.28,417.11 L279.55,417.63 L279.81,418.15 L280.07,418.67 L280.33,419.20 L280.59,419.73 L280.85,420.27 L281.11,420.80 L281.37,421.34 L281.63,421.89 L281.89,422.43 L282.15,422.98 L282.41,423.53 L282.68,424.09 L282.94,424.64 L283.20,425.21 L283.46,425.77 L283.72,426.34 L283.98,426.91 L284.24,427.48 L284.50,428.06 L284.76,428.64 L285.02,429.22 L285.28,429.81 L285.54,430.40 L285.81,430.99 L286.07,431.58 L286.33,432.18 L286.59,432.79 L286.85,433.39 L287.11,434.00 L287.37,434.61 L287.63,435.23 L287.89,435.84 L288.15,436.46 L288.41,437.09 L288.67,437.72 L288.94,438.35 L289.20,438.98 L289.46,439.62 L289.72,440.26 L289.98,440.90 L290.24,441.55 L290.50,442.20 L290.76,442.85 L291.02,443.51 L291.28,444.16 L291.54,444.83 L291.80,445.49 L292.07,446.16 L292.33,446.83 L292.59,447.51 L292.85,448.18 L293.11,448.86 L293.37,449.55 L293.63,450.23 L293.89,450.92 L294.15,451.62 L294.41,452.31 L294.67,453.01 L294.93,453.71 L295.20,454.42 L295.46,455.12 L295.72,455.83 L295.98,456.55 L296.24,457.26 L296.50,457.98 L296.76,458.70 L297.02,459.42 L297.28,460.15 L297.54,460.88 L297.80,461.61 L298.06,462.34 L298.33,463.08 L298.59,463.82 L298.85,464.56 L299.11,465.31 L299.37,466.05 L299.63,466.80 L299.89,467.55 L300.15,468.30 L300.41,469.06 L300.67,469.81 L300.93,470.57 L301.19,471.33 L301.46,472.10 L301.72,472.86 L301.98,473.63 L302.24,474.39 L302.50,475.16 L302.76,475.93 L303.02,476.71 L303.28,477.48 L303.54,478.25 L303.80,479.03 L304.06,479.81 L304.32,480.58 L304.59,481.36 L304.85,482.14 L305.11,482.92 L305.37,483.70 L305.63,484.48 L305.89,485.26 L306.15,486.04 L306.41,486.83 L306.67,487.61 L306.93,488.39 L307.19,489.17 L307.45,489.95 L307.72,490.73 L307.98,491.51 L308.24,492.29 L308.50,493.07 L308.76,493.84 L309.02,494.62 L309.28,495.39 L309.54,496.16 L309.80,496.93 L310.06,497.70 L310.32,498.47 L310.59,499.23 L310.85,499.99 L311.11,500.75 L311.37,501.51 L311.63,502.26 L311.89,503.01 L312.15,503.76 L312.41,504.50 L312.67,505.24 L312.93,505.97 L313.19,506.70 L313.45,507.43 L313.72,508.15 L313.98,508.87 L314.24,509.58 L314.50,510.28 L314.76,510.98 L315.02,511.68 L315.28,512.37 L315.54,513.05 L315.80,513.72 L316.06,514.39 L316.32,515.05 L316.58,515.71 L316.85,516.36 L317.11,516.99 L317.37,517.62 L317.63,518.25 L317.89,518.86 L318.15,519.47 L318.41,520.06 L318.67,520.65 L318.93,521.23 L319.19,521.79 L319.45,522.35 L319.71,522.90 L319.98,523.43 L320.24,523.96 L320.50,524.47 L320.76,524.97 L321.02,525.46 L321.28,525.94 L321.54,526.41 L321.80,526.86 L322.06,527.30 L322.32,527.73 L322.58,528.14 L322.84,528.54 L323.11,528.93 L323.37,529.30 L323.63,529.66 L323.89,530.01 L324.15,530.34 L324.41,530.66 L324.67,530.96 L324.93,531.24 L325.19,531.51 L325.45,531.77 L325.71,532.01 L325.97,532.23 L326.24,532.44 L326.50,532.63 L326.76,532.81 L327.02,532.96 L327.28,533.11 L327.54,533.23 L327.80,533.34 L328.06,533.43 L328.32,533.51 L328.58,533.57 L328.84,533.61 L329.10,533.64 L329.37,533.64 L329.63,533.64 L329.89,533.61 L330.15,533.57 L330.41,533.51 L330.67,533.43 L330.93,533.34 L331.19,533.23 L331.45,533.10 L331.71,532.95 L331.97,532.79 L332.23,532.62 L332.50,532.42 L332.76,532.21 L333.02,531.98 L333.28,531.74 L333.54,531.48 L333.80,531.21 L334.06,530.92 L334.32,530.61 L334.58,530.29 L334.84,529.96 L335.10,529.61 L335.36,529.24 L335.63,528.86 L335.89,528.47 L336.15,528.06 L336.41,527.64 L336.67,527.21 L336.93,526.76 L337.19,526.30 L337.45,525.83 L337.71,525.34 L337.97,524.85 L338.23,524.34 L338.49,523.82 L338.76,523.29 L339.02,522.74 L339.28,522.19 L339.54,521.63 L339.80,521.05 L340.06,520.47 L340.32,519.88 L340.58,519.28 L340.84,518.67 L341.10,518.05 L341.36,517.42 L341.63,516.79 L341.89,516.15 L342.15,515.50 L342.41,514.84 L342.67,514.18 L342.93,513.51 L343.19,512.84 L343.45,512.16 L343.71,511.48 L343.97,510.79 L344.23,510.10 L344.49,509.40 L344.76,508.70 L345.02,507.99 L345.28,507.28 L345.54,506.57 L345.80,505.86 L346.06,505.14 L346.32,504.42 L346.58,503.70 L346.84,502.98 L347.10,502.26 L347.36,501.54 L347.62,500.81 L347.89,500.09 L348.15,499.37 L348.41,498.64 L348.67,497.92 L348.93,497.20 L349.19,496.48 L349.45,495.76 L349.71,495.04 L349.97,494.32 L350.23,493.61 L350.49,492.89 L350.75,492.18 L351.02,491.48 L351.28,490.77 L351.54,490.07 L351.80,489.38 L352.06,488.68 L352.32,487.99 L352.58,487.31 L352.84,486.63 L353.10,485.95 L353.36,485.28 L353.62,484.62 L353.88,483.95 L354.15,483.30 L354.41,482.65 L354.67,482.01 L354.93,481.37 L355.19,480.74 L355.45,480.11 L355.71,479.49 L355.97,478.88 L356.23,478.27 L356.49,477.68 L356.75,477.09 L357.01,476.50 L357.28,475.93 L357.54,475.36 L357.80,474.80 L358.06,474.25 L358.32,473.70 L358.58,473.17 L358.84,472.64 L359.10,472.12 L359.36,471.61 L359.62,471.11 L359.88,470.62 L360.14,470.14 L360.41,469.66 L360.67,469.20 L360.93,468.75 L361.19,468.30 L361.45,467.87 L361.71,467.44 L361.97,467.03 L362.23,466.63 L362.49,466.23 L362.75,465.85 L363.01,465.48 L363.27,465.12 L363.54,464.76 L363.80,464.42 L364.06,464.09 L364.32,463.78 L364.58,463.47 L364.84,463.17 L365.10,462.89 L365.36,462.62 L365.62,462.36 L365.88,462.11 L366.14,461.87 L366.40,461.64 L366.67,461.43 L366.93,461.23 L367.19,461.04 L367.45,460.86 L367.71,460.70 L367.97,460.54 L368.23,460.40 L368.49,460.28 L368.75,460.16 L369.01,460.06 L369.27,459.97 L369.54,459.89 L369.80,459.83 L370.06,459.78 L370.32,459.74 L370.58,459.71 L370.84,459.70 L371.10,459.70 L371.36,459.71 L371.62,459.74 L371.88,459.78 L372.14,459.84 L372.40,459.90 L372.67,459.98 L372.93,460.08 L373.19,460.18 L373.45,460.30 L373.71,460.44 L373.97,460.58 L374.23,460.75 L374.49,460.92 L374.75,461.11 L375.01,461.31 L375.27,461.52 L375.53,461.75 L375.80,461.99 L376.06,462.25 L376.32,462.52 L376.58,462.80 L376.84,463.09 L377.10,463.40 L377.36,463.72 L377.62,464.05 L377.88,464.40 L378.14,464.76 L378.40,465.14 L378.66,465.52 L378.93,465.92 L379.19,466.33 L379.45,466.76 L379.71,467.19 L379.97,467.64 L380.23,468.10 L380.49,468.57 L380.75,469.06 L381.01,469.55 L381.27,470.06 L381.53,470.58 L381.79,471.11 L382.06,471.65 L382.32,472.20 L382.58,472.76 L382.84,473.34 L383.10,473.92 L383.36,474.51 L383.62,475.11 L383.88,475.72 L384.14,476.34 L384.40,476.97 L384.66,477.60 L384.92,478.24 L385.19,478.89 L385.45,479.55 L385.71,480.21 L385.97,480.88 L386.23,481.55 L386.49,482.23 L386.75,482.92 L387.01,483.61 L387.27,484.30 L387.53,484.99 L387.79,485.69 L388.05,486.39 L388.32,487.09 L388.58,487.79 L388.84,488.49 L389.10,489.19 L389.36,489.89 L389.62,490.59 L389.88,491.28 L390.14,491.97 L390.40,492.66 L390.66,493.34 L390.92,494.02 L391.18,494.69 L391.45,495.36 L391.71,496.01 L391.97,496.66 L392.23,497.30 L392.49,497.92 L392.75,498.54 L393.01,499.14 L393.27,499.73 L393.53,500.31 L393.79,500.87 L394.05,501.42 L394.31,501.95 L394.58,502.47 L394.84,502.97 L395.10,503.44 L395.36,503.90 L395.62,504.34 L395.88,504.76 L396.14,505.15 L396.40,505.53 L396.66,505.88 L396.92,506.21 L397.18,506.51 L397.44,506.79 L397.71,507.04 L397.97,507.27 L398.23,507.47 L398.49,507.64 L398.75,507.79 L399.01,507.91 L399.27,508.00 L399.53,508.07 L399.79,508.10 L400.05,508.11 L400.31,508.09 L400.58,508.04 L400.84,507.96 L401.10,507.85 L401.36,507.72 L401.62,507.56 L401.88,507.37 L402.14,507.15 L402.40,506.91 L402.66,506.64 L402.92,506.34 L403.18,506.02 L403.44,505.67 L403.71,505.30 L403.97,504.90 L404.23,504.48 L404.49,504.04 L404.75,503.57 L405.01,503.09 L405.27,502.59 L405.53,502.06 L405.79,501.52 L406.05,500.96 L406.31,500.39 L406.57,499.80 L406.84,499.19 L407.10,498.57 L407.36,497.94 L407.62,497.30 L407.88,496.65 L408.14,495.99 L408.40,495.32 L408.66,494.64 L408.92,493.96 L409.18,493.28 L409.44,492.58 L409.70,491.89 L409.97,491.20 L410.23,490.50 L410.49,489.81 L410.75,489.11 L411.01,488.42 L411.27,487.73 L411.53,487.05 L411.79,486.37 L412.05,485.70 L412.31,485.04 L412.57,484.38 L412.83,483.74 L413.10,483.10 L413.36,482.47 L413.62,481.86 L413.88,481.26 L414.14,480.67 L414.40,480.10 L414.66,479.54 L414.92,479.00 L415.18,478.47 L415.44,477.96 L415.70,477.47 L415.96,476.99 L416.23,476.54 L416.49,476.10 L416.75,475.69 L417.01,475.29 L417.27,474.92 L417.53,474.57 L417.79,474.24 L418.05,473.93 L418.31,473.65 L418.57,473.39 L418.83,473.15 L419.09,472.94 L419.36,472.75 L419.62,472.59 L419.88,472.45 L420.14,472.34 L420.40,472.25 L420.66,472.19 L420.92,472.16 L421.18,472.15 L421.44,472.17 L421.70,472.21 L421.96,472.28 L422.22,472.37 L422.49,472.49 L422.75,472.64 L423.01,472.82 L423.27,473.02 L423.53,473.24 L423.79,473.49 L424.05,473.77 L424.31,474.07 L424.57,474.40 L424.83,474.75 L425.09,475.12 L425.35,475.52 L425.62,475.94 L425.88,476.38 L426.14,476.85 L426.40,477.33 L426.66,477.84 L426.92,478.36 L427.18,478.91 L427.44,479.47 L427.70,480.05 L427.96,480.65 L428.22,481.26 L428.48,481.88 L428.75,482.52 L429.01,483.17 L429.27,483.83 L429.53,484.50 L429.79,485.17 L430.05,485.85 L430.31,486.54 L430.57,487.23 L430.83,487.92 L431.09,488.61 L431.35,489.30 L431.62,489.99 L431.88,490.67 L432.14,491.35 L432.40,492.01 L432.66,492.67 L432.92,493.31 L433.18,493.94 L433.44,494.55 L433.70,495.14 L433.96,495.71 L434.22,496.26 L434.48,496.79 L434.75,497.29 L435.01,497.77 L435.27,498.21 L435.53,498.63 L435.79,499.01 L436.05,499.36 L436.31,499.67 L436.57,499.95 L436.83,500.19 L437.09,500.40 L437.35,500.56 L437.61,500.68 L437.88,500.77 L438.14,500.81 L438.40,500.81 L438.66,500.77 L438.92,500.69 L439.18,500.56 L439.44,500.40 L439.70,500.20 L439.96,499.96 L440.22,499.68 L440.48,499.36 L440.74,499.00 L441.01,498.61 L441.27,498.19 L441.53,497.73 L441.79,497.25 L442.05,496.73 L442.31,496.19 L442.57,495.63 L442.83,495.04 L443.09,494.43 L443.35,493.80 L443.61,493.16 L443.87,492.51 L444.14,491.84 L444.40,491.16 L444.66,490.48 L444.92,489.79 L445.18,489.10 L445.44,488.41 L445.70,487.72 L445.96,487.04 L446.22,486.36 L446.48,485.70 L446.74,485.04 L447.00,484.40 L447.27,483.77 L447.53,483.17 L447.79,482.58 L448.05,482.01 L448.31,481.47 L448.57,480.95 L448.83,480.45 L449.09,479.99 L449.35,479.55 L449.61,479.14 L449.87,478.77 L450.13,478.43 L450.40,478.12 L450.66,477.85 L450.92,477.61 L451.18,477.41 L451.44,477.25 L451.70,477.12 L451.96,477.04 L452.22,476.99 L452.48,476.98 L452.74,477.01 L453.00,477.09 L453.26,477.20 L453.53,477.34 L453.79,477.53 L454.05,477.76 L454.31,478.02 L454.57,478.32 L454.83,478.66 L455.09,479.03 L455.35,479.44 L455.61,479.87 L455.87,480.34 L456.13,480.84 L456.39,481.37 L456.66,481.93 L456.92,482.51 L457.18,483.11 L457.44,483.73 L457.70,484.37 L457.96,485.03 L458.22,485.70 L458.48,486.37 L458.74,487.06 L459.00,487.75 L459.26,488.44 L459.53,489.12 L459.79,489.80 L460.05,490.47 L460.31,491.13 L460.57,491.78 L460.83,492.40 L461.09,493.00 L461.35,493.58 L461.61,494.12 L461.87,494.63 L462.13,495.11 L462.39,495.55 L462.66,495.95 L462.92,496.30 L463.18,496.61 L463.44,496.86 L463.70,497.07 L463.96,497.23 L464.22,497.33 L464.48,497.38 L464.74,497.37 L465.00,497.31 L465.26,497.20 L465.52,497.03 L465.79,496.81 L466.05,496.54 L466.31,496.22 L466.57,495.86 L466.83,495.44 L467.09,494.99 L467.35,494.50 L467.61,493.97 L467.87,493.40 L468.13,492.81 L468.39,492.19 L468.65,491.55 L468.92,490.89 L469.18,490.22 L469.44,489.54 L469.70,488.85 L469.96,488.16 L470.22,487.48 L470.48,486.80 L470.74,486.13 L471.00,485.47 L471.26,484.84 L471.52,484.23 L471.78,483.64 L472.05,483.08 L472.31,482.55 L472.57,482.06 L472.83,481.60 L473.09,481.19 L473.35,480.82 L473.61,480.49 L473.87,480.21 L474.13,479.98 L474.39,479.79 L474.65,479.66 L474.91,479.58 L475.18,479.55 L475.44,479.57 L475.70,479.65 L475.96,479.77 L476.22,479.95 L476.48,480.18 L476.74,480.46 L477.00,480.79 L477.26,481.16 L477.52,481.58 L477.78,482.04 L478.04,482.55 L478.31,483.08 L478.57,483.65 L478.83,484.25 L479.09,484.88 L479.35,485.53 L479.61,486.19 L479.87,486.87 L480.13,487.56 L480.39,488.24 L480.65,488.93 L480.91,489.61 L481.17,490.27 L481.44,490.92 L481.70,491.54 L481.96,492.13 L482.22,492.68 L482.48,493.20 L482.74,493.67 L483.00,494.09 L483.26,494.46 L483.52,494.77 L483.78,495.02 L484.04,495.21 L484.30,495.33 L484.57,495.39 L484.83,495.38 L485.09,495.30 L485.35,495.15 L485.61,494.94 L485.87,494.67 L486.13,494.33 L486.39,493.94 L486.65,493.49 L486.91,493.00 L487.17,492.45 L487.43,491.88 L487.70,491.26 L487.96,490.62 L488.22,489.96 L488.48,489.28 L488.74,488.60 L489.00,487.91" fill="none" stroke="#000" stroke-width="2.7" stroke-linejoin="round"/>
<rect x="98.0" y="307.3" width="391.0" height="282.99999999999994" fill="none" stroke="#000" stroke-width="1.7"/>
<rect x="232" y="321.8" width="57" height="25" fill="#fefba8" style="mix-blend-mode:multiply"/>
<rect x="230.4" y="323.3" width="41.4" height="21.2" rx="4" fill="#fdf9b2" stroke="#000" stroke-width="1.8"/>
<text x="235.00" y="337.00" font-family='"Liberation Sans", sans-serif' font-size="12.60" font-weight="bold" font-style="normal" fill="#000" stroke="#000" stroke-width="0.3" textLength="19.60" lengthAdjust="spacingAndGlyphs" >f = f</text>
<text x="254.20" y="339.00" font-family='"Liberation Sans", sans-serif' font-size="7.50" font-weight="bold" font-style="normal" fill="#000" stroke="#000" stroke-width="0.3" textLength="4.00" lengthAdjust="spacingAndGlyphs" >s</text>
<text x="258.20" y="337.00" font-family='"Liberation Sans", sans-serif' font-size="12.60" font-weight="bold" font-style="normal" fill="#000" stroke="#000" stroke-width="0.3" textLength="9.80" lengthAdjust="spacingAndGlyphs" >/2</text>
<rect x="286.9" y="349" width="52.1" height="25" fill="#fefba8" style="mix-blend-mode:multiply"/>
<rect x="289.6" y="352.0" width="50.3" height="19.8" rx="4" fill="#fdf9b2" stroke="#000" stroke-width="1.8"/>
<text x="293.40" y="365.30" font-family='"Liberation Sans", sans-serif' font-size="13.40" font-weight="bold" font-style="normal" fill="#000" stroke="#000" stroke-width="0.3" textLength="43.00" lengthAdjust="spacingAndGlyphs" >-1.13 dB</text>
<rect x="152.6" y="477.2" width="35.3" height="19.9" rx="4" fill="#fff" stroke="#000" stroke-width="1.8"/>
<text x="156.30" y="491.20" font-family='"Liberation Sans", sans-serif' font-size="13.80" font-weight="bold" font-style="normal" fill="#000" stroke="#000" stroke-width="0.3" textLength="27.50" lengthAdjust="spacingAndGlyphs" >-6 dB</text>
<text x="316.30" y="420.40" font-family='"Liberation Sans", sans-serif' font-size="26.00" font-weight="bold" font-style="normal" fill="#000" stroke="#000" stroke-width="0.3" textLength="153.20" lengthAdjust="spacingAndGlyphs" >Track-and-Hold</text>
<text x="84.30" y="338.30" font-family='"Liberation Sans", sans-serif' font-size="15.80" font-weight="bold" font-style="normal" fill="#000" stroke="#000" stroke-width="0.3" textLength="7.20" lengthAdjust="spacingAndGlyphs" >0</text>
<text x="76.30" y="390.26" font-family='"Liberation Sans", sans-serif' font-size="15.80" font-weight="bold" font-style="normal" fill="#000" stroke="#000" stroke-width="0.3" textLength="15.00" lengthAdjust="spacingAndGlyphs" >−2</text>
<text x="76.30" y="442.42" font-family='"Liberation Sans", sans-serif' font-size="15.80" font-weight="bold" font-style="normal" fill="#000" stroke="#000" stroke-width="0.3" textLength="15.00" lengthAdjust="spacingAndGlyphs" >−4</text>
<text x="76.30" y="493.68" font-family='"Liberation Sans", sans-serif' font-size="15.80" font-weight="bold" font-style="normal" fill="#000" stroke="#000" stroke-width="0.3" textLength="15.00" lengthAdjust="spacingAndGlyphs" >−6</text>
<text x="76.30" y="544.94" font-family='"Liberation Sans", sans-serif' font-size="15.80" font-weight="bold" font-style="normal" fill="#000" stroke="#000" stroke-width="0.3" textLength="15.00" lengthAdjust="spacingAndGlyphs" >−8</text>
<text x="69.00" y="595.20" font-family='"Liberation Sans", sans-serif' font-size="15.80" font-weight="bold" font-style="normal" fill="#000" stroke="#000" stroke-width="0.3" textLength="22.00" lengthAdjust="spacingAndGlyphs" >−10</text>
<text x="78.40" y="608.00" font-family='"Liberation Sans", sans-serif' font-size="15.80" font-weight="bold" font-style="normal" fill="#000" stroke="#000" stroke-width="0.3" textLength="38.60" lengthAdjust="spacingAndGlyphs" >100 m</text>
<text x="290.00" y="608.00" font-family='"Liberation Sans", sans-serif' font-size="15.80" font-weight="bold" font-style="normal" fill="#000" stroke="#000" stroke-width="0.3" textLength="6.00" lengthAdjust="spacingAndGlyphs" >1</text>
<text x="482.30" y="608.00" font-family='"Liberation Sans", sans-serif' font-size="15.80" font-weight="bold" font-style="normal" fill="#000" stroke="#000" stroke-width="0.3" textLength="14.20" lengthAdjust="spacingAndGlyphs" >10</text>
<text x="243.10" y="631.30" font-family='"Liberation Sans", sans-serif' font-size="15.80" font-weight="bold" font-style="normal" fill="#000" stroke="#000" stroke-width="0.3" textLength="101.70" lengthAdjust="spacingAndGlyphs" >Frequency (f/f<tspan font-size="10.5" dy="3">s</tspan><tspan dy="-3">)</tspan></text>
<g transform="translate(56.3,448.7) rotate(-90)">
<text x="-50.30" y="0.00" font-family='"Liberation Sans", sans-serif' font-size="15.80" font-weight="bold" font-style="normal" fill="#000" stroke="#000" stroke-width="0.3" textLength="100.60" lengthAdjust="spacingAndGlyphs" >Magnitude (dB)</text>
</g>
<line x1="768.85" y1="310.0" x2="768.85" y2="590.6" stroke="#d6d6d6" stroke-width="1"/>
<line x1="803.28" y1="310.0" x2="803.28" y2="590.6" stroke="#d6d6d6" stroke-width="1"/>
<line x1="827.70" y1="310.0" x2="827.70" y2="590.6" stroke="#d6d6d6" stroke-width="1"/>
<line x1="846.65" y1="310.0" x2="846.65" y2="590.6" stroke="#d6d6d6" stroke-width="1"/>
<line x1="862.13" y1="310.0" x2="862.13" y2="590.6" stroke="#d6d6d6" stroke-width="1"/>
<line x1="875.22" y1="310.0" x2="875.22" y2="590.6" stroke="#d6d6d6" stroke-width="1"/>
<line x1="886.55" y1="310.0" x2="886.55" y2="590.6" stroke="#d6d6d6" stroke-width="1"/>
<line x1="896.55" y1="310.0" x2="896.55" y2="590.6" stroke="#d6d6d6" stroke-width="1"/>
<line x1="905.50" y1="310.0" x2="905.50" y2="590.6" stroke="#d6d6d6" stroke-width="1"/>
<line x1="964.35" y1="310.0" x2="964.35" y2="590.6" stroke="#d6d6d6" stroke-width="1"/>
<line x1="998.78" y1="310.0" x2="998.78" y2="590.6" stroke="#d6d6d6" stroke-width="1"/>
<line x1="1023.20" y1="310.0" x2="1023.20" y2="590.6" stroke="#d6d6d6" stroke-width="1"/>
<line x1="1042.15" y1="310.0" x2="1042.15" y2="590.6" stroke="#d6d6d6" stroke-width="1"/>
<line x1="1057.63" y1="310.0" x2="1057.63" y2="590.6" stroke="#d6d6d6" stroke-width="1"/>
<line x1="1070.72" y1="310.0" x2="1070.72" y2="590.6" stroke="#d6d6d6" stroke-width="1"/>
<line x1="1082.05" y1="310.0" x2="1082.05" y2="590.6" stroke="#d6d6d6" stroke-width="1"/>
<line x1="1092.05" y1="310.0" x2="1092.05" y2="590.6" stroke="#d6d6d6" stroke-width="1"/>
<line x1="710.0" y1="318.80" x2="1101.0" y2="318.80" stroke="#d6d6d6" stroke-width="1"/>
<line x1="710.0" y1="364.00" x2="1101.0" y2="364.00" stroke="#d6d6d6" stroke-width="1"/>
<line x1="710.0" y1="409.20" x2="1101.0" y2="409.20" stroke="#d6d6d6" stroke-width="1"/>
<line x1="710.0" y1="454.40" x2="1101.0" y2="454.40" stroke="#d6d6d6" stroke-width="1"/>
<line x1="710.0" y1="499.60" x2="1101.0" y2="499.60" stroke="#d6d6d6" stroke-width="1"/>
<line x1="710.0" y1="544.80" x2="1101.0" y2="544.80" stroke="#d6d6d6" stroke-width="1"/>
<rect x="901" y="391" width="194" height="40" fill="#fff"/>
<line x1="710.0" y1="354.24" x2="1101.0" y2="354.24" stroke="#777" stroke-width="1.3" stroke-dasharray="1.6 2.5"/>
<line x1="846.65" y1="310.0" x2="846.65" y2="590.6" stroke="#777" stroke-width="1.3" stroke-dasharray="1.6 2.5"/>
<clipPath id="rc"><rect x="710.0" y="310.0" width="391.0" height="280.6"/></clipPath>
<path d="M710.00,320.10 L710.07,320.10 L710.13,320.10 L710.20,320.10 L710.26,320.10 L710.33,320.11 L710.39,320.11 L710.46,320.11 L710.52,320.11 L710.59,320.11 L710.65,320.12 L710.72,320.12 L710.78,320.12 L710.85,320.12 L710.91,320.12 L710.98,320.13 L711.04,320.13 L711.11,320.13 L711.17,320.13 L711.24,320.13 L711.30,320.14 L711.37,320.14 L711.43,320.14 L711.50,320.14 L711.56,320.14 L711.63,320.15 L711.69,320.15 L711.76,320.15 L711.82,320.15 L711.89,320.16 L711.96,320.16 L712.02,320.16 L712.09,320.16 L712.15,320.16 L712.22,320.17 L712.28,320.17 L712.35,320.17 L712.41,320.17 L712.48,320.17 L712.54,320.18 L712.61,320.18 L712.67,320.18 L712.74,320.18 L712.80,320.18 L712.87,320.19 L712.93,320.19 L713.00,320.19 L713.06,320.19 L713.13,320.20 L713.19,320.20 L713.26,320.20 L713.32,320.20 L713.39,320.20 L713.45,320.21 L713.52,320.21 L713.58,320.21 L713.65,320.21 L713.72,320.21 L713.78,320.22 L713.85,320.22 L713.91,320.22 L713.98,320.22 L714.04,320.23 L714.11,320.23 L714.17,320.23 L714.24,320.23 L714.30,320.23 L714.37,320.24 L714.43,320.24 L714.50,320.24 L714.56,320.24 L714.63,320.25 L714.69,320.25 L714.76,320.25 L714.82,320.25 L714.89,320.25 L714.95,320.26 L715.02,320.26 L715.08,320.26 L715.15,320.26 L715.21,320.27 L715.28,320.27 L715.34,320.27 L715.41,320.27 L715.47,320.27 L715.54,320.28 L715.61,320.28 L715.67,320.28 L715.74,320.28 L715.80,320.29 L715.87,320.29 L715.93,320.29 L716.00,320.29 L716.06,320.30 L716.13,320.30 L716.19,320.30 L716.26,320.30 L716.32,320.30 L716.39,320.31 L716.45,320.31 L716.52,320.31 L716.58,320.31 L716.65,320.32 L716.71,320.32 L716.78,320.32 L716.84,320.32 L716.91,320.33 L716.97,320.33 L717.04,320.33 L717.10,320.33 L717.17,320.34 L717.23,320.34 L717.30,320.34 L717.37,320.34 L717.43,320.34 L717.50,320.35 L717.56,320.35 L717.63,320.35 L717.69,320.35 L717.76,320.36 L717.82,320.36 L717.89,320.36 L717.95,320.36 L718.02,320.37 L718.08,320.37 L718.15,320.37 L718.21,320.37 L718.28,320.38 L718.34,320.38 L718.41,320.38 L718.47,320.38 L718.54,320.39 L718.60,320.39 L718.67,320.39 L718.73,320.39 L718.80,320.40 L718.86,320.40 L718.93,320.40 L718.99,320.40 L719.06,320.41 L719.12,320.41 L719.19,320.41 L719.26,320.41 L719.32,320.42 L719.39,320.42 L719.45,320.42 L719.52,320.42 L719.58,320.43 L719.65,320.43 L719.71,320.43 L719.78,320.43 L719.84,320.44 L719.91,320.44 L719.97,320.44 L720.04,320.44 L720.10,320.45 L720.17,320.45 L720.23,320.45 L720.30,320.45 L720.36,320.46 L720.43,320.46 L720.49,320.46 L720.56,320.46 L720.62,320.47 L720.69,320.47 L720.75,320.47 L720.82,320.47 L720.88,320.48 L720.95,320.48 L721.02,320.48 L721.08,320.48 L721.15,320.49 L721.21,320.49 L721.28,320.49 L721.34,320.49 L721.41,320.50 L721.47,320.50 L721.54,320.50 L721.60,320.50 L721.67,320.51 L721.73,320.51 L721.80,320.51 L721.86,320.52 L721.93,320.52 L721.99,320.52 L722.06,320.52 L722.12,320.53 L722.19,320.53 L722.25,320.53 L722.32,320.53 L722.38,320.54 L722.45,320.54 L722.51,320.54 L722.58,320.54 L722.64,320.55 L722.71,320.55 L722.77,320.55 L722.84,320.56 L722.91,320.56 L722.97,320.56 L723.04,320.56 L723.10,320.57 L723.17,320.57 L723.23,320.57 L723.30,320.57 L723.36,320.58 L723.43,320.58 L723.49,320.58 L723.56,320.59 L723.62,320.59 L723.69,320.59 L723.75,320.59 L723.82,320.60 L723.88,320.60 L723.95,320.60 L724.01,320.61 L724.08,320.61 L724.14,320.61 L724.21,320.61 L724.27,320.62 L724.34,320.62 L724.40,320.62 L724.47,320.62 L724.53,320.63 L724.60,320.63 L724.66,320.63 L724.73,320.64 L724.80,320.64 L724.86,320.64 L724.93,320.64 L724.99,320.65 L725.06,320.65 L725.12,320.65 L725.19,320.66 L725.25,320.66 L725.32,320.66 L725.38,320.66 L725.45,320.67 L725.51,320.67 L725.58,320.67 L725.64,320.68 L725.71,320.68 L725.77,320.68 L725.84,320.68 L725.90,320.69 L725.97,320.69 L726.03,320.69 L726.10,320.70 L726.16,320.70 L726.23,320.70 L726.29,320.71 L726.36,320.71 L726.42,320.71 L726.49,320.71 L726.56,320.72 L726.62,320.72 L726.69,320.72 L726.75,320.73 L726.82,320.73 L726.88,320.73 L726.95,320.73 L727.01,320.74 L727.08,320.74 L727.14,320.74 L727.21,320.75 L727.27,320.75 L727.34,320.75 L727.40,320.76 L727.47,320.76 L727.53,320.76 L727.60,320.76 L727.66,320.77 L727.73,320.77 L727.79,320.77 L727.86,320.78 L727.92,320.78 L727.99,320.78 L728.05,320.79 L728.12,320.79 L728.18,320.79 L728.25,320.80 L728.31,320.80 L728.38,320.80 L728.45,320.80 L728.51,320.81 L728.58,320.81 L728.64,320.81 L728.71,320.82 L728.77,320.82 L728.84,320.82 L728.90,320.83 L728.97,320.83 L729.03,320.83 L729.10,320.84 L729.16,320.84 L729.23,320.84 L729.29,320.85 L729.36,320.85 L729.42,320.85 L729.49,320.85 L729.55,320.86 L729.62,320.86 L729.68,320.86 L729.75,320.87 L729.81,320.87 L729.88,320.87 L729.94,320.88 L730.01,320.88 L730.07,320.88 L730.14,320.89 L730.21,320.89 L730.27,320.89 L730.34,320.90 L730.40,320.90 L730.47,320.90 L730.53,320.91 L730.60,320.91 L730.66,320.91 L730.73,320.92 L730.79,320.92 L730.86,320.92 L730.92,320.93 L730.99,320.93 L731.05,320.93 L731.12,320.94 L731.18,320.94 L731.25,320.94 L731.31,320.95 L731.38,320.95 L731.44,320.95 L731.51,320.96 L731.57,320.96 L731.64,320.96 L731.70,320.97 L731.77,320.97 L731.83,320.97 L731.90,320.98 L731.96,320.98 L732.03,320.98 L732.10,320.99 L732.16,320.99 L732.23,320.99 L732.29,321.00 L732.36,321.00 L732.42,321.00 L732.49,321.01 L732.55,321.01 L732.62,321.01 L732.68,321.02 L732.75,321.02 L732.81,321.02 L732.88,321.03 L732.94,321.03 L733.01,321.03 L733.07,321.04 L733.14,321.04 L733.20,321.04 L733.27,321.05 L733.33,321.05 L733.40,321.05 L733.46,321.06 L733.53,321.06 L733.59,321.06 L733.66,321.07 L733.72,321.07 L733.79,321.08 L733.85,321.08 L733.92,321.08 L733.99,321.09 L734.05,321.09 L734.12,321.09 L734.18,321.10 L734.25,321.10 L734.31,321.10 L734.38,321.11 L734.44,321.11 L734.51,321.11 L734.57,321.12 L734.64,321.12 L734.70,321.12 L734.77,321.13 L734.83,321.13 L734.90,321.14 L734.96,321.14 L735.03,321.14 L735.09,321.15 L735.16,321.15 L735.22,321.15 L735.29,321.16 L735.35,321.16 L735.42,321.16 L735.48,321.17 L735.55,321.17 L735.61,321.18 L735.68,321.18 L735.75,321.18 L735.81,321.19 L735.88,321.19 L735.94,321.19 L736.01,321.20 L736.07,321.20 L736.14,321.21 L736.20,321.21 L736.27,321.21 L736.33,321.22 L736.40,321.22 L736.46,321.22 L736.53,321.23 L736.59,321.23 L736.66,321.24 L736.72,321.24 L736.79,321.24 L736.85,321.25 L736.92,321.25 L736.98,321.25 L737.05,321.26 L737.11,321.26 L737.18,321.27 L737.24,321.27 L737.31,321.27 L737.37,321.28 L737.44,321.28 L737.50,321.28 L737.57,321.29 L737.64,321.29 L737.70,321.30 L737.77,321.30 L737.83,321.30 L737.90,321.31 L737.96,321.31 L738.03,321.32 L738.09,321.32 L738.16,321.32 L738.22,321.33 L738.29,321.33 L738.35,321.34 L738.42,321.34 L738.48,321.34 L738.55,321.35 L738.61,321.35 L738.68,321.35 L738.74,321.36 L738.81,321.36 L738.87,321.37 L738.94,321.37 L739.00,321.37 L739.07,321.38 L739.13,321.38 L739.20,321.39 L739.26,321.39 L739.33,321.39 L739.40,321.40 L739.46,321.40 L739.53,321.41 L739.59,321.41 L739.66,321.41 L739.72,321.42 L739.79,321.42 L739.85,321.43 L739.92,321.43 L739.98,321.43 L740.05,321.44 L740.11,321.44 L740.18,321.45 L740.24,321.45 L740.31,321.46 L740.37,321.46 L740.44,321.46 L740.50,321.47 L740.57,321.47 L740.63,321.48 L740.70,321.48 L740.76,321.48 L740.83,321.49 L740.89,321.49 L740.96,321.50 L741.02,321.50 L741.09,321.51 L741.15,321.51 L741.22,321.51 L741.29,321.52 L741.35,321.52 L741.42,321.53 L741.48,321.53 L741.55,321.53 L741.61,321.54 L741.68,321.54 L741.74,321.55 L741.81,321.55 L741.87,321.56 L741.94,321.56 L742.00,321.56 L742.07,321.57 L742.13,321.57 L742.20,321.58 L742.26,321.58 L742.33,321.59 L742.39,321.59 L742.46,321.59 L742.52,321.60 L742.59,321.60 L742.65,321.61 L742.72,321.61 L742.78,321.62 L742.85,321.62 L742.91,321.62 L742.98,321.63 L743.05,321.63 L743.11,321.64 L743.18,321.64 L743.24,321.65 L743.31,321.65 L743.37,321.66 L743.44,321.66 L743.50,321.66 L743.57,321.67 L743.63,321.67 L743.70,321.68 L743.76,321.68 L743.83,321.69 L743.89,321.69 L743.96,321.70 L744.02,321.70 L744.09,321.70 L744.15,321.71 L744.22,321.71 L744.28,321.72 L744.35,321.72 L744.41,321.73 L744.48,321.73 L744.54,321.74 L744.61,321.74 L744.67,321.75 L744.74,321.75 L744.80,321.75 L744.87,321.76 L744.94,321.76 L745.00,321.77 L745.07,321.77 L745.13,321.78 L745.20,321.78 L745.26,321.79 L745.33,321.79 L745.39,321.80 L745.46,321.80 L745.52,321.81 L745.59,321.81 L745.65,321.81 L745.72,321.82 L745.78,321.82 L745.85,321.83 L745.91,321.83 L745.98,321.84 L746.04,321.84 L746.11,321.85 L746.17,321.85 L746.24,321.86 L746.30,321.86 L746.37,321.87 L746.43,321.87 L746.50,321.88 L746.56,321.88 L746.63,321.89 L746.69,321.89 L746.76,321.89 L746.83,321.90 L746.89,321.90 L746.96,321.91 L747.02,321.91 L747.09,321.92 L747.15,321.92 L747.22,321.93 L747.28,321.93 L747.35,321.94 L747.41,321.94 L747.48,321.95 L747.54,321.95 L747.61,321.96 L747.67,321.96 L747.74,321.97 L747.80,321.97 L747.87,321.98 L747.93,321.98 L748.00,321.99 L748.06,321.99 L748.13,322.00 L748.19,322.00 L748.26,322.01 L748.32,322.01 L748.39,322.02 L748.45,322.02 L748.52,322.03 L748.59,322.03 L748.65,322.04 L748.72,322.04 L748.78,322.05 L748.85,322.05 L748.91,322.06 L748.98,322.06 L749.04,322.07 L749.11,322.07 L749.17,322.08 L749.24,322.08 L749.30,322.09 L749.37,322.09 L749.43,322.10 L749.50,322.10 L749.56,322.11 L749.63,322.11 L749.69,322.12 L749.76,322.12 L749.82,322.13 L749.89,322.13 L749.95,322.14 L750.02,322.14 L750.08,322.15 L750.15,322.15 L750.21,322.16 L750.28,322.16 L750.34,322.17 L750.41,322.18 L750.48,322.18 L750.54,322.19 L750.61,322.19 L750.67,322.20 L750.74,322.20 L750.80,322.21 L750.87,322.21 L750.93,322.22 L751.00,322.22 L751.06,322.23 L751.13,322.23 L751.19,322.24 L751.26,322.24 L751.32,322.25 L751.39,322.25 L751.45,322.26 L751.52,322.27 L751.58,322.27 L751.65,322.28 L751.71,322.28 L751.78,322.29 L751.84,322.29 L751.91,322.30 L751.97,322.30 L752.04,322.31 L752.10,322.31 L752.17,322.32 L752.24,322.32 L752.30,322.33 L752.37,322.34 L752.43,322.34 L752.50,322.35 L752.56,322.35 L752.63,322.36 L752.69,322.36 L752.76,322.37 L752.82,322.37 L752.89,322.38 L752.95,322.39 L753.02,322.39 L753.08,322.40 L753.15,322.40 L753.21,322.41 L753.28,322.41 L753.34,322.42 L753.41,322.42 L753.47,322.43 L753.54,322.44 L753.60,322.44 L753.67,322.45 L753.73,322.45 L753.80,322.46 L753.86,322.46 L753.93,322.47 L753.99,322.48 L754.06,322.48 L754.13,322.49 L754.19,322.49 L754.26,322.50 L754.32,322.50 L754.39,322.51 L754.45,322.52 L754.52,322.52 L754.58,322.53 L754.65,322.53 L754.71,322.54 L754.78,322.54 L754.84,322.55 L754.91,322.56 L754.97,322.56 L755.04,322.57 L755.10,322.57 L755.17,322.58 L755.23,322.59 L755.30,322.59 L755.36,322.60 L755.43,322.60 L755.49,322.61 L755.56,322.61 L755.62,322.62 L755.69,322.63 L755.75,322.63 L755.82,322.64 L755.88,322.64 L755.95,322.65 L756.02,322.66 L756.08,322.66 L756.15,322.67 L756.21,322.67 L756.28,322.68 L756.34,322.69 L756.41,322.69 L756.47,322.70 L756.54,322.70 L756.60,322.71 L756.67,322.72 L756.73,322.72 L756.80,322.73 L756.86,322.73 L756.93,322.74 L756.99,322.75 L757.06,322.75 L757.12,322.76 L757.19,322.77 L757.25,322.77 L757.32,322.78 L757.38,322.78 L757.45,322.79 L757.51,322.80 L757.58,322.80 L757.64,322.81 L757.71,322.81 L757.78,322.82 L757.84,322.83 L757.91,322.83 L757.97,322.84 L758.04,322.85 L758.10,322.85 L758.17,322.86 L758.23,322.87 L758.30,322.87 L758.36,322.88 L758.43,322.88 L758.49,322.89 L758.56,322.90 L758.62,322.90 L758.69,322.91 L758.75,322.92 L758.82,322.92 L758.88,322.93 L758.95,322.93 L759.01,322.94 L759.08,322.95 L759.14,322.95 L759.21,322.96 L759.27,322.97 L759.34,322.97 L759.40,322.98 L759.47,322.99 L759.53,322.99 L759.60,323.00 L759.67,323.01 L759.73,323.01 L759.80,323.02 L759.86,323.03 L759.93,323.03 L759.99,323.04 L760.06,323.05 L760.12,323.05 L760.19,323.06 L760.25,323.07 L760.32,323.07 L760.38,323.08 L760.45,323.09 L760.51,323.09 L760.58,323.10 L760.64,323.11 L760.71,323.11 L760.77,323.12 L760.84,323.13 L760.90,323.13 L760.97,323.14 L761.03,323.15 L761.10,323.15 L761.16,323.16 L761.23,323.17 L761.29,323.17 L761.36,323.18 L761.43,323.19 L761.49,323.19 L761.56,323.20 L761.62,323.21 L761.69,323.21 L761.75,323.22 L761.82,323.23 L761.88,323.23 L761.95,323.24 L762.01,323.25 L762.08,323.25 L762.14,323.26 L762.21,323.27 L762.27,323.28 L762.34,323.28 L762.40,323.29 L762.47,323.30 L762.53,323.30 L762.60,323.31 L762.66,323.32 L762.73,323.32 L762.79,323.33 L762.86,323.34 L762.92,323.35 L762.99,323.35 L763.05,323.36 L763.12,323.37 L763.18,323.37 L763.25,323.38 L763.32,323.39 L763.38,323.40 L763.45,323.40 L763.51,323.41 L763.58,323.42 L763.64,323.42 L763.71,323.43 L763.77,323.44 L763.84,323.45 L763.90,323.45 L763.97,323.46 L764.03,323.47 L764.10,323.47 L764.16,323.48 L764.23,323.49 L764.29,323.50 L764.36,323.50 L764.42,323.51 L764.49,323.52 L764.55,323.53 L764.62,323.53 L764.68,323.54 L764.75,323.55 L764.81,323.56 L764.88,323.56 L764.94,323.57 L765.01,323.58 L765.08,323.58 L765.14,323.59 L765.21,323.60 L765.27,323.61 L765.34,323.61 L765.40,323.62 L765.47,323.63 L765.53,323.64 L765.60,323.64 L765.66,323.65 L765.73,323.66 L765.79,323.67 L765.86,323.68 L765.92,323.68 L765.99,323.69 L766.05,323.70 L766.12,323.71 L766.18,323.71 L766.25,323.72 L766.31,323.73 L766.38,323.74 L766.44,323.74 L766.51,323.75 L766.57,323.76 L766.64,323.77 L766.70,323.77 L766.77,323.78 L766.83,323.79 L766.90,323.80 L766.97,323.81 L767.03,323.81 L767.10,323.82 L767.16,323.83 L767.23,323.84 L767.29,323.84 L767.36,323.85 L767.42,323.86 L767.49,323.87 L767.55,323.88 L767.62,323.88 L767.68,323.89 L767.75,323.90 L767.81,323.91 L767.88,323.92 L767.94,323.92 L768.01,323.93 L768.07,323.94 L768.14,323.95 L768.20,323.96 L768.27,323.96 L768.33,323.97 L768.40,323.98 L768.46,323.99 L768.53,324.00 L768.59,324.00 L768.66,324.01 L768.72,324.02 L768.79,324.03 L768.86,324.04 L768.92,324.04 L768.99,324.05 L769.05,324.06 L769.12,324.07 L769.18,324.08 L769.25,324.09 L769.31,324.09 L769.38,324.10 L769.44,324.11 L769.51,324.12 L769.57,324.13 L769.64,324.14 L769.70,324.14 L769.77,324.15 L769.83,324.16 L769.90,324.17 L769.96,324.18 L770.03,324.19 L770.09,324.19 L770.16,324.20 L770.22,324.21 L770.29,324.22 L770.35,324.23 L770.42,324.24 L770.48,324.24 L770.55,324.25 L770.62,324.26 L770.68,324.27 L770.75,324.28 L770.81,324.29 L770.88,324.30 L770.94,324.30 L771.01,324.31 L771.07,324.32 L771.14,324.33 L771.20,324.34 L771.27,324.35 L771.33,324.36 L771.40,324.36 L771.46,324.37 L771.53,324.38 L771.59,324.39 L771.66,324.40 L771.72,324.41 L771.79,324.42 L771.85,324.43 L771.92,324.43 L771.98,324.44 L772.05,324.45 L772.11,324.46 L772.18,324.47 L772.24,324.48 L772.31,324.49 L772.37,324.50 L772.44,324.50 L772.51,324.51 L772.57,324.52 L772.64,324.53 L772.70,324.54 L772.77,324.55 L772.83,324.56 L772.90,324.57 L772.96,324.58 L773.03,324.59 L773.09,324.59 L773.16,324.60 L773.22,324.61 L773.29,324.62 L773.35,324.63 L773.42,324.64 L773.48,324.65 L773.55,324.66 L773.61,324.67 L773.68,324.68 L773.74,324.69 L773.81,324.69 L773.87,324.70 L773.94,324.71 L774.00,324.72 L774.07,324.73 L774.13,324.74 L774.20,324.75 L774.27,324.76 L774.33,324.77 L774.40,324.78 L774.46,324.79 L774.53,324.80 L774.59,324.81 L774.66,324.82 L774.72,324.82 L774.79,324.83 L774.85,324.84 L774.92,324.85 L774.98,324.86 L775.05,324.87 L775.11,324.88 L775.18,324.89 L775.24,324.90 L775.31,324.91 L775.37,324.92 L775.44,324.93 L775.50,324.94 L775.57,324.95 L775.63,324.96 L775.70,324.97 L775.76,324.98 L775.83,324.99 L775.89,325.00 L775.96,325.01 L776.02,325.02 L776.09,325.03 L776.16,325.04 L776.22,325.04 L776.29,325.05 L776.35,325.06 L776.42,325.07 L776.48,325.08 L776.55,325.09 L776.61,325.10 L776.68,325.11 L776.74,325.12 L776.81,325.13 L776.87,325.14 L776.94,325.15 L777.00,325.16 L777.07,325.17 L777.13,325.18 L777.20,325.19 L777.26,325.20 L777.33,325.21 L777.39,325.22 L777.46,325.23 L777.52,325.24 L777.59,325.25 L777.65,325.26 L777.72,325.27 L777.78,325.28 L777.85,325.29 L777.91,325.30 L777.98,325.31 L778.05,325.32 L778.11,325.33 L778.18,325.34 L778.24,325.35 L778.31,325.36 L778.37,325.38 L778.44,325.39 L778.50,325.40 L778.57,325.41 L778.63,325.42 L778.70,325.43 L778.76,325.44 L778.83,325.45 L778.89,325.46 L778.96,325.47 L779.02,325.48 L779.09,325.49 L779.15,325.50 L779.22,325.51 L779.28,325.52 L779.35,325.53 L779.41,325.54 L779.48,325.55 L779.54,325.56 L779.61,325.57 L779.67,325.58 L779.74,325.59 L779.81,325.61 L779.87,325.62 L779.94,325.63 L780.00,325.64 L780.07,325.65 L780.13,325.66 L780.20,325.67 L780.26,325.68 L780.33,325.69 L780.39,325.70 L780.46,325.71 L780.52,325.72 L780.59,325.73 L780.65,325.74 L780.72,325.76 L780.78,325.77 L780.85,325.78 L780.91,325.79 L780.98,325.80 L781.04,325.81 L781.11,325.82 L781.17,325.83 L781.24,325.84 L781.30,325.85 L781.37,325.87 L781.43,325.88 L781.50,325.89 L781.56,325.90 L781.63,325.91 L781.70,325.92 L781.76,325.93 L781.83,325.94 L781.89,325.95 L781.96,325.97 L782.02,325.98 L782.09,325.99 L782.15,326.00 L782.22,326.01 L782.28,326.02 L782.35,326.03 L782.41,326.04 L782.48,326.06 L782.54,326.07 L782.61,326.08 L782.67,326.09 L782.74,326.10 L782.80,326.11 L782.87,326.12 L782.93,326.14 L783.00,326.15 L783.06,326.16 L783.13,326.17 L783.19,326.18 L783.26,326.19 L783.32,326.20 L783.39,326.22 L783.46,326.23 L783.52,326.24 L783.59,326.25 L783.65,326.26 L783.72,326.27 L783.78,326.29 L783.85,326.30 L783.91,326.31 L783.98,326.32 L784.04,326.33 L784.11,326.35 L784.17,326.36 L784.24,326.37 L784.30,326.38 L784.37,326.39 L784.43,326.40 L784.50,326.42 L784.56,326.43 L784.63,326.44 L784.69,326.45 L784.76,326.46 L784.82,326.48 L784.89,326.49 L784.95,326.50 L785.02,326.51 L785.08,326.52 L785.15,326.54 L785.21,326.55 L785.28,326.56 L785.35,326.57 L785.41,326.59 L785.48,326.60 L785.54,326.61 L785.61,326.62 L785.67,326.63 L785.74,326.65 L785.80,326.66 L785.87,326.67 L785.93,326.68 L786.00,326.70 L786.06,326.71 L786.13,326.72 L786.19,326.73 L786.26,326.75 L786.32,326.76 L786.39,326.77 L786.45,326.78 L786.52,326.80 L786.58,326.81 L786.65,326.82 L786.71,326.83 L786.78,326.85 L786.84,326.86 L786.91,326.87 L786.97,326.88 L787.04,326.90 L787.11,326.91 L787.17,326.92 L787.24,326.93 L787.30,326.95 L787.37,326.96 L787.43,326.97 L787.50,326.99 L787.56,327.00 L787.63,327.01 L787.69,327.02 L787.76,327.04 L787.82,327.05 L787.89,327.06 L787.95,327.08 L788.02,327.09 L788.08,327.10 L788.15,327.12 L788.21,327.13 L788.28,327.14 L788.34,327.15 L788.41,327.17 L788.47,327.18 L788.54,327.19 L788.60,327.21 L788.67,327.22 L788.73,327.23 L788.80,327.25 L788.86,327.26 L788.93,327.27 L789.00,327.29 L789.06,327.30 L789.13,327.31 L789.19,327.33 L789.26,327.34 L789.32,327.35 L789.39,327.37 L789.45,327.38 L789.52,327.39 L789.58,327.41 L789.65,327.42 L789.71,327.43 L789.78,327.45 L789.84,327.46 L789.91,327.48 L789.97,327.49 L790.04,327.50 L790.10,327.52 L790.17,327.53 L790.23,327.54 L790.30,327.56 L790.36,327.57 L790.43,327.58 L790.49,327.60 L790.56,327.61 L790.62,327.63 L790.69,327.64 L790.75,327.65 L790.82,327.67 L790.89,327.68 L790.95,327.70 L791.02,327.71 L791.08,327.72 L791.15,327.74 L791.21,327.75 L791.28,327.77 L791.34,327.78 L791.41,327.79 L791.47,327.81 L791.54,327.82 L791.60,327.84 L791.67,327.85 L791.73,327.87 L791.80,327.88 L791.86,327.89 L791.93,327.91 L791.99,327.92 L792.06,327.94 L792.12,327.95 L792.19,327.97 L792.25,327.98 L792.32,327.99 L792.38,328.01 L792.45,328.02 L792.51,328.04 L792.58,328.05 L792.65,328.07 L792.71,328.08 L792.78,328.10 L792.84,328.11 L792.91,328.13 L792.97,328.14 L793.04,328.16 L793.10,328.17 L793.17,328.18 L793.23,328.20 L793.30,328.21 L793.36,328.23 L793.43,328.24 L793.49,328.26 L793.56,328.27 L793.62,328.29 L793.69,328.30 L793.75,328.32 L793.82,328.33 L793.88,328.35 L793.95,328.36 L794.01,328.38 L794.08,328.39 L794.14,328.41 L794.21,328.42 L794.27,328.44 L794.34,328.45 L794.40,328.47 L794.47,328.48 L794.54,328.50 L794.60,328.52 L794.67,328.53 L794.73,328.55 L794.80,328.56 L794.86,328.58 L794.93,328.59 L794.99,328.61 L795.06,328.62 L795.12,328.64 L795.19,328.65 L795.25,328.67 L795.32,328.69 L795.38,328.70 L795.45,328.72 L795.51,328.73 L795.58,328.75 L795.64,328.76 L795.71,328.78 L795.77,328.79 L795.84,328.81 L795.90,328.83 L795.97,328.84 L796.03,328.86 L796.10,328.87 L796.16,328.89 L796.23,328.91 L796.30,328.92 L796.36,328.94 L796.43,328.95 L796.49,328.97 L796.56,328.99 L796.62,329.00 L796.69,329.02 L796.75,329.03 L796.82,329.05 L796.88,329.07 L796.95,329.08 L797.01,329.10 L797.08,329.12 L797.14,329.13 L797.21,329.15 L797.27,329.16 L797.34,329.18 L797.40,329.20 L797.47,329.21 L797.53,329.23 L797.60,329.25 L797.66,329.26 L797.73,329.28 L797.79,329.30 L797.86,329.31 L797.92,329.33 L797.99,329.35 L798.05,329.36 L798.12,329.38 L798.19,329.40 L798.25,329.41 L798.32,329.43 L798.38,329.45 L798.45,329.46 L798.51,329.48 L798.58,329.50 L798.64,329.51 L798.71,329.53 L798.77,329.55 L798.84,329.56 L798.90,329.58 L798.97,329.60 L799.03,329.62 L799.10,329.63 L799.16,329.65 L799.23,329.67 L799.29,329.68 L799.36,329.70 L799.42,329.72 L799.49,329.74 L799.55,329.75 L799.62,329.77 L799.68,329.79 L799.75,329.81 L799.81,329.82 L799.88,329.84 L799.94,329.86 L800.01,329.87 L800.08,329.89 L800.14,329.91 L800.21,329.93 L800.27,329.95 L800.34,329.96 L800.40,329.98 L800.47,330.00 L800.53,330.02 L800.60,330.03 L800.66,330.05 L800.73,330.07 L800.79,330.09 L800.86,330.11 L800.92,330.12 L800.99,330.14 L801.05,330.16 L801.12,330.18 L801.18,330.19 L801.25,330.21 L801.31,330.23 L801.38,330.25 L801.44,330.27 L801.51,330.29 L801.57,330.30 L801.64,330.32 L801.70,330.34 L801.77,330.36 L801.84,330.38 L801.90,330.39 L801.97,330.41 L802.03,330.43 L802.10,330.45 L802.16,330.47 L802.23,330.49 L802.29,330.51 L802.36,330.52 L802.42,330.54 L802.49,330.56 L802.55,330.58 L802.62,330.60 L802.68,330.62 L802.75,330.64 L802.81,330.65 L802.88,330.67 L802.94,330.69 L803.01,330.71 L803.07,330.73 L803.14,330.75 L803.20,330.77 L803.27,330.79 L803.33,330.81 L803.40,330.83 L803.46,330.84 L803.53,330.86 L803.59,330.88 L803.66,330.90 L803.73,330.92 L803.79,330.94 L803.86,330.96 L803.92,330.98 L803.99,331.00 L804.05,331.02 L804.12,331.04 L804.18,331.06 L804.25,331.08 L804.31,331.10 L804.38,331.11 L804.44,331.13 L804.51,331.15 L804.57,331.17 L804.64,331.19 L804.70,331.21 L804.77,331.23 L804.83,331.25 L804.90,331.27 L804.96,331.29 L805.03,331.31 L805.09,331.33 L805.16,331.35 L805.22,331.37 L805.29,331.39 L805.35,331.41 L805.42,331.43 L805.49,331.45 L805.55,331.47 L805.62,331.49 L805.68,331.51 L805.75,331.53 L805.81,331.55 L805.88,331.57 L805.94,331.59 L806.01,331.61 L806.07,331.63 L806.14,331.65 L806.20,331.67 L806.27,331.69 L806.33,331.72 L806.40,331.74 L806.46,331.76 L806.53,331.78 L806.59,331.80 L806.66,331.82 L806.72,331.84 L806.79,331.86 L806.85,331.88 L806.92,331.90 L806.98,331.92 L807.05,331.94 L807.11,331.96 L807.18,331.99 L807.24,332.01 L807.31,332.03 L807.38,332.05 L807.44,332.07 L807.51,332.09 L807.57,332.11 L807.64,332.13 L807.70,332.15 L807.77,332.18 L807.83,332.20 L807.90,332.22 L807.96,332.24 L808.03,332.26 L808.09,332.28 L808.16,332.30 L808.22,332.32 L808.29,332.35 L808.35,332.37 L808.42,332.39 L808.48,332.41 L808.55,332.43 L808.61,332.45 L808.68,332.48 L808.74,332.50 L808.81,332.52 L808.87,332.54 L808.94,332.56 L809.00,332.59 L809.07,332.61 L809.14,332.63 L809.20,332.65 L809.27,332.67 L809.33,332.70 L809.40,332.72 L809.46,332.74 L809.53,332.76 L809.59,332.78 L809.66,332.81 L809.72,332.83 L809.79,332.85 L809.85,332.87 L809.92,332.90 L809.98,332.92 L810.05,332.94 L810.11,332.96 L810.18,332.99 L810.24,333.01 L810.31,333.03 L810.37,333.06 L810.44,333.08 L810.50,333.10 L810.57,333.12 L810.63,333.15 L810.70,333.17 L810.76,333.19 L810.83,333.22 L810.89,333.24 L810.96,333.26 L811.03,333.28 L811.09,333.31 L811.16,333.33 L811.22,333.35 L811.29,333.38 L811.35,333.40 L811.42,333.42 L811.48,333.45 L811.55,333.47 L811.61,333.49 L811.68,333.52 L811.74,333.54 L811.81,333.56 L811.87,333.59 L811.94,333.61 L812.00,333.64 L812.07,333.66 L812.13,333.68 L812.20,333.71 L812.26,333.73 L812.33,333.75 L812.39,333.78 L812.46,333.80 L812.52,333.83 L812.59,333.85 L812.65,333.87 L812.72,333.90 L812.78,333.92 L812.85,333.95 L812.92,333.97 L812.98,334.00 L813.05,334.02 L813.11,334.04 L813.18,334.07 L813.24,334.09 L813.31,334.12 L813.37,334.14 L813.44,334.17 L813.50,334.19 L813.57,334.22 L813.63,334.24 L813.70,334.27 L813.76,334.29 L813.83,334.31 L813.89,334.34 L813.96,334.36 L814.02,334.39 L814.09,334.41 L814.15,334.44 L814.22,334.46 L814.28,334.49 L814.35,334.51 L814.41,334.54 L814.48,334.57 L814.54,334.59 L814.61,334.62 L814.68,334.64 L814.74,334.67 L814.81,334.69 L814.87,334.72 L814.94,334.74 L815.00,334.77 L815.07,334.79 L815.13,334.82 L815.20,334.85 L815.26,334.87 L815.33,334.90 L815.39,334.92 L815.46,334.95 L815.52,334.97 L815.59,335.00 L815.65,335.03 L815.72,335.05 L815.78,335.08 L815.85,335.10 L815.91,335.13 L815.98,335.16 L816.04,335.18 L816.11,335.21 L816.17,335.24 L816.24,335.26 L816.30,335.29 L816.37,335.32 L816.43,335.34 L816.50,335.37 L816.57,335.40 L816.63,335.42 L816.70,335.45 L816.76,335.48 L816.83,335.50 L816.89,335.53 L816.96,335.56 L817.02,335.58 L817.09,335.61 L817.15,335.64 L817.22,335.66 L817.28,335.69 L817.35,335.72 L817.41,335.75 L817.48,335.77 L817.54,335.80 L817.61,335.83 L817.67,335.85 L817.74,335.88 L817.80,335.91 L817.87,335.94 L817.93,335.96 L818.00,335.99 L818.06,336.02 L818.13,336.05 L818.19,336.08 L818.26,336.10 L818.33,336.13 L818.39,336.16 L818.46,336.19 L818.52,336.22 L818.59,336.24 L818.65,336.27 L818.72,336.30 L818.78,336.33 L818.85,336.36 L818.91,336.38 L818.98,336.41 L819.04,336.44 L819.11,336.47 L819.17,336.50 L819.24,336.53 L819.30,336.55 L819.37,336.58 L819.43,336.61 L819.50,336.64 L819.56,336.67 L819.63,336.70 L819.69,336.73 L819.76,336.76 L819.82,336.79 L819.89,336.81 L819.95,336.84 L820.02,336.87 L820.08,336.90 L820.15,336.93 L820.22,336.96 L820.28,336.99 L820.35,337.02 L820.41,337.05 L820.48,337.08 L820.54,337.11 L820.61,337.14 L820.67,337.17 L820.74,337.20 L820.80,337.23 L820.87,337.26 L820.93,337.29 L821.00,337.32 L821.06,337.34 L821.13,337.37 L821.19,337.40 L821.26,337.44 L821.32,337.47 L821.39,337.50 L821.45,337.53 L821.52,337.56 L821.58,337.59 L821.65,337.62 L821.71,337.65 L821.78,337.68 L821.84,337.71 L821.91,337.74 L821.97,337.77 L822.04,337.80 L822.11,337.83 L822.17,337.86 L822.24,337.89 L822.30,337.92 L822.37,337.95 L822.43,337.99 L822.50,338.02 L822.56,338.05 L822.63,338.08 L822.69,338.11 L822.76,338.14 L822.82,338.17 L822.89,338.20 L822.95,338.24 L823.02,338.27 L823.08,338.30 L823.15,338.33 L823.21,338.36 L823.28,338.39 L823.34,338.42 L823.41,338.46 L823.47,338.49 L823.54,338.52 L823.60,338.55 L823.67,338.58 L823.73,338.62 L823.80,338.65 L823.87,338.68 L823.93,338.71 L824.00,338.75 L824.06,338.78 L824.13,338.81 L824.19,338.84 L824.26,338.88 L824.32,338.91 L824.39,338.94 L824.45,338.97 L824.52,339.01 L824.58,339.04 L824.65,339.07 L824.71,339.10 L824.78,339.14 L824.84,339.17 L824.91,339.20 L824.97,339.24 L825.04,339.27 L825.10,339.30 L825.17,339.34 L825.23,339.37 L825.30,339.40 L825.36,339.44 L825.43,339.47 L825.49,339.50 L825.56,339.54 L825.62,339.57 L825.69,339.61 L825.76,339.64 L825.82,339.67 L825.89,339.71 L825.95,339.74 L826.02,339.77 L826.08,339.81 L826.15,339.84 L826.21,339.88 L826.28,339.91 L826.34,339.95 L826.41,339.98 L826.47,340.02 L826.54,340.05 L826.60,340.08 L826.67,340.12 L826.73,340.15 L826.80,340.19 L826.86,340.22 L826.93,340.26 L826.99,340.29 L827.06,340.33 L827.12,340.36 L827.19,340.40 L827.25,340.43 L827.32,340.47 L827.38,340.50 L827.45,340.54 L827.52,340.58 L827.58,340.61 L827.65,340.65 L827.71,340.68 L827.78,340.72 L827.84,340.75 L827.91,340.79 L827.97,340.82 L828.04,340.86 L828.10,340.90 L828.17,340.93 L828.23,340.97 L828.30,341.01 L828.36,341.04 L828.43,341.08 L828.49,341.11 L828.56,341.15 L828.62,341.19 L828.69,341.22 L828.75,341.26 L828.82,341.30 L828.88,341.33 L828.95,341.37 L829.01,341.41 L829.08,341.44 L829.14,341.48 L829.21,341.52 L829.27,341.56 L829.34,341.59 L829.41,341.63 L829.47,341.67 L829.54,341.71 L829.60,341.74 L829.67,341.78 L829.73,341.82 L829.80,341.86 L829.86,341.89 L829.93,341.93 L829.99,341.97 L830.06,342.01 L830.12,342.05 L830.19,342.08 L830.25,342.12 L830.32,342.16 L830.38,342.20 L830.45,342.24 L830.51,342.27 L830.58,342.31 L830.64,342.35 L830.71,342.39 L830.77,342.43 L830.84,342.47 L830.90,342.51 L830.97,342.55 L831.03,342.58 L831.10,342.62 L831.17,342.66 L831.23,342.70 L831.30,342.74 L831.36,342.78 L831.43,342.82 L831.49,342.86 L831.56,342.90 L831.62,342.94 L831.69,342.98 L831.75,343.02 L831.82,343.06 L831.88,343.10 L831.95,343.14 L832.01,343.18 L832.08,343.22 L832.14,343.26 L832.21,343.30 L832.27,343.34 L832.34,343.38 L832.40,343.42 L832.47,343.46 L832.53,343.50 L832.60,343.54 L832.66,343.58 L832.73,343.62 L832.79,343.66 L832.86,343.70 L832.92,343.74 L832.99,343.79 L833.06,343.83 L833.12,343.87 L833.19,343.91 L833.25,343.95 L833.32,343.99 L833.38,344.03 L833.45,344.08 L833.51,344.12 L833.58,344.16 L833.64,344.20 L833.71,344.24 L833.77,344.28 L833.84,344.33 L833.90,344.37 L833.97,344.41 L834.03,344.45 L834.10,344.50 L834.16,344.54 L834.23,344.58 L834.29,344.62 L834.36,344.67 L834.42,344.71 L834.49,344.75 L834.55,344.79 L834.62,344.84 L834.68,344.88 L834.75,344.92 L834.81,344.97 L834.88,345.01 L834.95,345.05 L835.01,345.10 L835.08,345.14 L835.14,345.18 L835.21,345.23 L835.27,345.27 L835.34,345.31 L835.40,345.36 L835.47,345.40 L835.53,345.45 L835.60,345.49 L835.66,345.53 L835.73,345.58 L835.79,345.62 L835.86,345.67 L835.92,345.71 L835.99,345.76 L836.05,345.80 L836.12,345.85 L836.18,345.89 L836.25,345.94 L836.31,345.98 L836.38,346.03 L836.44,346.07 L836.51,346.12 L836.57,346.16 L836.64,346.21 L836.71,346.25 L836.77,346.30 L836.84,346.34 L836.90,346.39 L836.97,346.43 L837.03,346.48 L837.10,346.53 L837.16,346.57 L837.23,346.62 L837.29,346.66 L837.36,346.71 L837.42,346.76 L837.49,346.80 L837.55,346.85 L837.62,346.90 L837.68,346.94 L837.75,346.99 L837.81,347.04 L837.88,347.08 L837.94,347.13 L838.01,347.18 L838.07,347.23 L838.14,347.27 L838.20,347.32 L838.27,347.37 L838.33,347.42 L838.40,347.46 L838.46,347.51 L838.53,347.56 L838.60,347.61 L838.66,347.65 L838.73,347.70 L838.79,347.75 L838.86,347.80 L838.92,347.85 L838.99,347.90 L839.05,347.94 L839.12,347.99 L839.18,348.04 L839.25,348.09 L839.31,348.14 L839.38,348.19 L839.44,348.24 L839.51,348.29 L839.57,348.34 L839.64,348.39 L839.70,348.43 L839.77,348.48 L839.83,348.53 L839.90,348.58 L839.96,348.63 L840.03,348.68 L840.09,348.73 L840.16,348.78 L840.22,348.83 L840.29,348.88 L840.36,348.93 L840.42,348.98 L840.49,349.03 L840.55,349.09 L840.62,349.14 L840.68,349.19 L840.75,349.24 L840.81,349.29 L840.88,349.34 L840.94,349.39 L841.01,349.44 L841.07,349.49 L841.14,349.54 L841.20,349.60 L841.27,349.65 L841.33,349.70 L841.40,349.75 L841.46,349.80 L841.53,349.86 L841.59,349.91 L841.66,349.96 L841.72,350.01 L841.79,350.06 L841.85,350.12 L841.92,350.17 L841.98,350.22 L842.05,350.27 L842.11,350.33 L842.18,350.38 L842.25,350.43 L842.31,350.49 L842.38,350.54 L842.44,350.59 L842.51,350.65 L842.57,350.70 L842.64,350.75 L842.70,350.81 L842.77,350.86 L842.83,350.92 L842.90,350.97 L842.96,351.02 L843.03,351.08 L843.09,351.13 L843.16,351.19 L843.22,351.24 L843.29,351.30 L843.35,351.35 L843.42,351.41 L843.48,351.46 L843.55,351.52 L843.61,351.57 L843.68,351.63 L843.74,351.68 L843.81,351.74 L843.87,351.79 L843.94,351.85 L844.01,351.90 L844.07,351.96 L844.14,352.02 L844.20,352.07 L844.27,352.13 L844.33,352.19 L844.40,352.24 L844.46,352.30 L844.53,352.35 L844.59,352.41 L844.66,352.47 L844.72,352.53 L844.79,352.58 L844.85,352.64 L844.92,352.70 L844.98,352.75 L845.05,352.81 L845.11,352.87 L845.18,352.93 L845.24,352.98 L845.31,353.04 L845.37,353.10 L845.44,353.16 L845.50,353.22 L845.57,353.28 L845.63,353.33 L845.70,353.39 L845.76,353.45 L845.83,353.51 L845.90,353.57 L845.96,353.63 L846.03,353.69 L846.09,353.75 L846.16,353.81 L846.22,353.87 L846.29,353.93 L846.35,353.98 L846.42,354.04 L846.48,354.10 L846.55,354.16 L846.61,354.22 L846.68,354.28 L846.74,354.35 L846.81,354.41 L846.87,354.47 L846.94,354.53 L847.00,354.59 L847.07,354.65 L847.13,354.71 L847.20,354.77 L847.26,354.83 L847.33,354.89 L847.39,354.96 L847.46,355.02 L847.52,355.08 L847.59,355.14 L847.65,355.20 L847.72,355.27 L847.79,355.33 L847.85,355.39 L847.92,355.45 L847.98,355.51 L848.05,355.58 L848.11,355.64 L848.18,355.70 L848.24,355.77 L848.31,355.83 L848.37,355.89 L848.44,355.96 L848.50,356.02 L848.57,356.08 L848.63,356.15 L848.70,356.21 L848.76,356.28 L848.83,356.34 L848.89,356.40 L848.96,356.47 L849.02,356.53 L849.09,356.60 L849.15,356.66 L849.22,356.73 L849.28,356.79 L849.35,356.86 L849.41,356.92 L849.48,356.99 L849.55,357.05 L849.61,357.12 L849.68,357.19 L849.74,357.25 L849.81,357.32 L849.87,357.38 L849.94,357.45 L850.00,357.52 L850.07,357.58 L850.13,357.65 L850.20,357.72 L850.26,357.78 L850.33,357.85 L850.39,357.92 L850.46,357.99 L850.52,358.05 L850.59,358.12 L850.65,358.19 L850.72,358.26 L850.78,358.32 L850.85,358.39 L850.91,358.46 L850.98,358.53 L851.04,358.60 L851.11,358.67 L851.17,358.73 L851.24,358.80 L851.30,358.87 L851.37,358.94 L851.44,359.01 L851.50,359.08 L851.57,359.15 L851.63,359.22 L851.70,359.29 L851.76,359.36 L851.83,359.43 L851.89,359.50 L851.96,359.57 L852.02,359.64 L852.09,359.71 L852.15,359.78 L852.22,359.85 L852.28,359.93 L852.35,360.00 L852.41,360.07 L852.48,360.14 L852.54,360.21 L852.61,360.28 L852.67,360.36 L852.74,360.43 L852.80,360.50 L852.87,360.57 L852.93,360.64 L853.00,360.72 L853.06,360.79 L853.13,360.86 L853.20,360.94 L853.26,361.01 L853.33,361.08 L853.39,361.16 L853.46,361.23 L853.52,361.30 L853.59,361.38 L853.65,361.45 L853.72,361.53 L853.78,361.60 L853.85,361.68 L853.91,361.75 L853.98,361.83 L854.04,361.90 L854.11,361.98 L854.17,362.05 L854.24,362.13 L854.30,362.20 L854.37,362.28 L854.43,362.35 L854.50,362.43 L854.56,362.51 L854.63,362.58 L854.69,362.66 L854.76,362.74 L854.82,362.81 L854.89,362.89 L854.95,362.97 L855.02,363.05 L855.09,363.12 L855.15,363.20 L855.22,363.28 L855.28,363.36 L855.35,363.43 L855.41,363.51 L855.48,363.59 L855.54,363.67 L855.61,363.75 L855.67,363.83 L855.74,363.91 L855.80,363.99 L855.87,364.07 L855.93,364.14 L856.00,364.22 L856.06,364.30 L856.13,364.38 L856.19,364.46 L856.26,364.55 L856.32,364.63 L856.39,364.71 L856.45,364.79 L856.52,364.87 L856.58,364.95 L856.65,365.03 L856.71,365.11 L856.78,365.19 L856.84,365.28 L856.91,365.36 L856.98,365.44 L857.04,365.52 L857.11,365.61 L857.17,365.69 L857.24,365.77 L857.30,365.85 L857.37,365.94 L857.43,366.02 L857.50,366.10 L857.56,366.19 L857.63,366.27 L857.69,366.36 L857.76,366.44 L857.82,366.52 L857.89,366.61 L857.95,366.69 L858.02,366.78 L858.08,366.86 L858.15,366.95 L858.21,367.04 L858.28,367.12 L858.34,367.21 L858.41,367.29 L858.47,367.38 L858.54,367.47 L858.60,367.55 L858.67,367.64 L858.74,367.73 L858.80,367.81 L858.87,367.90 L858.93,367.99 L859.00,368.08 L859.06,368.16 L859.13,368.25 L859.19,368.34 L859.26,368.43 L859.32,368.52 L859.39,368.60 L859.45,368.69 L859.52,368.78 L859.58,368.87 L859.65,368.96 L859.71,369.05 L859.78,369.14 L859.84,369.23 L859.91,369.32 L859.97,369.41 L860.04,369.50 L860.10,369.59 L860.17,369.68 L860.23,369.78 L860.30,369.87 L860.36,369.96 L860.43,370.05 L860.49,370.14 L860.56,370.24 L860.63,370.33 L860.69,370.42 L860.76,370.51 L860.82,370.61 L860.89,370.70 L860.95,370.79 L861.02,370.89 L861.08,370.98 L861.15,371.07 L861.21,371.17 L861.28,371.26 L861.34,371.36 L861.41,371.45 L861.47,371.55 L861.54,371.64 L861.60,371.74 L861.67,371.83 L861.73,371.93 L861.80,372.03 L861.86,372.12 L861.93,372.22 L861.99,372.31 L862.06,372.41 L862.12,372.51 L862.19,372.61 L862.25,372.70 L862.32,372.80 L862.39,372.90 L862.45,373.00 L862.52,373.10 L862.58,373.19 L862.65,373.29 L862.71,373.39 L862.78,373.49 L862.84,373.59 L862.91,373.69 L862.97,373.79 L863.04,373.89 L863.10,373.99 L863.17,374.09 L863.23,374.19 L863.30,374.29 L863.36,374.39 L863.43,374.49 L863.49,374.60 L863.56,374.70 L863.62,374.80 L863.69,374.90 L863.75,375.01 L863.82,375.11 L863.88,375.21 L863.95,375.31 L864.01,375.42 L864.08,375.52 L864.14,375.63 L864.21,375.73 L864.28,375.83 L864.34,375.94 L864.41,376.04 L864.47,376.15 L864.54,376.25 L864.60,376.36 L864.67,376.46 L864.73,376.57 L864.80,376.68 L864.86,376.78 L864.93,376.89 L864.99,377.00 L865.06,377.10 L865.12,377.21 L865.19,377.32 L865.25,377.43 L865.32,377.54 L865.38,377.64 L865.45,377.75 L865.51,377.86 L865.58,377.97 L865.64,378.08 L865.71,378.19 L865.77,378.30 L865.84,378.41 L865.90,378.52 L865.97,378.63 L866.04,378.74 L866.10,378.85 L866.17,378.96 L866.23,379.07 L866.30,379.19 L866.36,379.30 L866.43,379.41 L866.49,379.52 L866.56,379.64 L866.62,379.75 L866.69,379.86 L866.75,379.98 L866.82,380.09 L866.88,380.21 L866.95,380.32 L867.01,380.43 L867.08,380.55 L867.14,380.66 L867.21,380.78 L867.27,380.90 L867.34,381.01 L867.40,381.13 L867.47,381.24 L867.53,381.36 L867.60,381.48 L867.66,381.60 L867.73,381.71 L867.79,381.83 L867.86,381.95 L867.93,382.07 L867.99,382.19 L868.06,382.31 L868.12,382.43 L868.19,382.55 L868.25,382.67 L868.32,382.79 L868.38,382.91 L868.45,383.03 L868.51,383.15 L868.58,383.27 L868.64,383.39 L868.71,383.51 L868.77,383.63 L868.84,383.76 L868.90,383.88 L868.97,384.00 L869.03,384.13 L869.10,384.25 L869.16,384.37 L869.23,384.50 L869.29,384.62 L869.36,384.75 L869.42,384.87 L869.49,385.00 L869.55,385.12 L869.62,385.25 L869.68,385.38 L869.75,385.50 L869.82,385.63 L869.88,385.76 L869.95,385.88 L870.01,386.01 L870.08,386.14 L870.14,386.27 L870.21,386.40 L870.27,386.53 L870.34,386.66 L870.40,386.79 L870.47,386.92 L870.53,387.05 L870.60,387.18 L870.66,387.31 L870.73,387.44 L870.79,387.57 L870.86,387.70 L870.92,387.83 L870.99,387.97 L871.05,388.10 L871.12,388.23 L871.18,388.37 L871.25,388.50 L871.31,388.63 L871.38,388.77 L871.44,388.90 L871.51,389.04 L871.58,389.18 L871.64,389.31 L871.71,389.45 L871.77,389.58 L871.84,389.72 L871.90,389.86 L871.97,390.00 L872.03,390.13 L872.10,390.27 L872.16,390.41 L872.23,390.55 L872.29,390.69 L872.36,390.83 L872.42,390.97 L872.49,391.11 L872.55,391.25 L872.62,391.39 L872.68,391.53 L872.75,391.67 L872.81,391.82 L872.88,391.96 L872.94,392.10 L873.01,392.24 L873.07,392.39 L873.14,392.53 L873.20,392.68 L873.27,392.82 L873.33,392.97 L873.40,393.11 L873.47,393.26 L873.53,393.40 L873.60,393.55 L873.66,393.70 L873.73,393.84 L873.79,393.99 L873.86,394.14 L873.92,394.29 L873.99,394.44 L874.05,394.59 L874.12,394.74 L874.18,394.89 L874.25,395.04 L874.31,395.19 L874.38,395.34 L874.44,395.49 L874.51,395.64 L874.57,395.79 L874.64,395.95 L874.70,396.10 L874.77,396.25 L874.83,396.41 L874.90,396.56 L874.96,396.72 L875.03,396.87 L875.09,397.03 L875.16,397.18 L875.23,397.34 L875.29,397.50 L875.36,397.65 L875.42,397.81 L875.49,397.97 L875.55,398.13 L875.62,398.29 L875.68,398.45 L875.75,398.61 L875.81,398.77 L875.88,398.93 L875.94,399.09 L876.01,399.25 L876.07,399.41 L876.14,399.57 L876.20,399.74 L876.27,399.90 L876.33,400.06 L876.40,400.23 L876.46,400.39 L876.53,400.56 L876.59,400.72 L876.66,400.89 L876.72,401.06 L876.79,401.22 L876.85,401.39 L876.92,401.56 L876.98,401.73 L877.05,401.90 L877.12,402.06 L877.18,402.23 L877.25,402.40 L877.31,402.57 L877.38,402.75 L877.44,402.92 L877.51,403.09 L877.57,403.26 L877.64,403.44 L877.70,403.61 L877.77,403.78 L877.83,403.96 L877.90,404.13 L877.96,404.31 L878.03,404.48 L878.09,404.66 L878.16,404.84 L878.22,405.01 L878.29,405.19 L878.35,405.37 L878.42,405.55 L878.48,405.73 L878.55,405.91 L878.61,406.09 L878.68,406.27 L878.74,406.45 L878.81,406.64 L878.87,406.82 L878.94,407.00 L879.01,407.18 L879.07,407.37 L879.14,407.55 L879.20,407.74 L879.27,407.92 L879.33,408.11 L879.40,408.30 L879.46,408.49 L879.53,408.67 L879.59,408.86 L879.66,409.05 L879.72,409.24 L879.79,409.43 L879.85,409.62 L879.92,409.81 L879.98,410.01 L880.05,410.20 L880.11,410.39 L880.18,410.59 L880.24,410.78 L880.31,410.97 L880.37,411.17 L880.44,411.37 L880.50,411.56 L880.57,411.76 L880.63,411.96 L880.70,412.16 L880.77,412.36 L880.83,412.56 L880.90,412.76 L880.96,412.96 L881.03,413.16 L881.09,413.36 L881.16,413.56 L881.22,413.77 L881.29,413.97 L881.35,414.18 L881.42,414.38 L881.48,414.59 L881.55,414.79 L881.61,415.00 L881.68,415.21 L881.74,415.42 L881.81,415.63 L881.87,415.84 L881.94,416.05 L882.00,416.26 L882.07,416.47 L882.13,416.68 L882.20,416.89 L882.26,417.11 L882.33,417.32 L882.39,417.54 L882.46,417.75 L882.52,417.97 L882.59,418.19 L882.66,418.41 L882.72,418.63 L882.79,418.84 L882.85,419.06 L882.92,419.29 L882.98,419.51 L883.05,419.73 L883.11,419.95 L883.18,420.18 L883.24,420.40 L883.31,420.63 L883.37,420.85 L883.44,421.08 L883.50,421.31 L883.57,421.53 L883.63,421.76 L883.70,421.99 L883.76,422.22 L883.83,422.46 L883.89,422.69 L883.96,422.92 L884.02,423.15 L884.09,423.39 L884.15,423.62 L884.22,423.86 L884.28,424.10 L884.35,424.33 L884.42,424.57 L884.48,424.81 L884.55,425.05 L884.61,425.29 L884.68,425.54 L884.74,425.78 L884.81,426.02 L884.87,426.27 L884.94,426.51 L885.00,426.76 L885.07,427.00 L885.13,427.25 L885.20,427.50 L885.26,427.75 L885.33,428.00 L885.39,428.25 L885.46,428.51 L885.52,428.76 L885.59,429.01 L885.65,429.27 L885.72,429.52 L885.78,429.78 L885.85,430.04 L885.91,430.30 L885.98,430.56 L886.04,430.82 L886.11,431.08 L886.17,431.34 L886.24,431.61 L886.31,431.87 L886.37,432.14 L886.44,432.40 L886.50,432.67 L886.57,432.94 L886.63,433.21 L886.70,433.48 L886.76,433.75 L886.83,434.02 L886.89,434.30 L886.96,434.57 L887.02,434.85 L887.09,435.12 L887.15,435.40 L887.22,435.68 L887.28,435.96 L887.35,436.24 L887.41,436.52 L887.48,436.80 L887.54,437.09 L887.61,437.37 L887.67,437.66 L887.74,437.95 L887.80,438.24 L887.87,438.53 L887.93,438.82 L888.00,439.11 L888.07,439.40 L888.13,439.70 L888.20,439.99 L888.26,440.29 L888.33,440.59 L888.39,440.89 L888.46,441.19 L888.52,441.49 L888.59,441.79 L888.65,442.10 L888.72,442.40 L888.78,442.71 L888.85,443.02 L888.91,443.33 L888.98,443.64 L889.04,443.95 L889.11,444.27 L889.17,444.58 L889.24,444.90 L889.30,445.21 L889.37,445.53 L889.43,445.85 L889.50,446.17 L889.56,446.50 L889.63,446.82 L889.69,447.15 L889.76,447.47 L889.82,447.80 L889.89,448.13 L889.96,448.46 L890.02,448.80 L890.09,449.13 L890.15,449.47 L890.22,449.80 L890.28,450.14 L890.35,450.48 L890.41,450.83 L890.48,451.17 L890.54,451.51 L890.61,451.86 L890.67,452.21 L890.74,452.56 L890.80,452.91 L890.87,453.26 L890.93,453.62 L891.00,453.97 L891.06,454.33 L891.13,454.69 L891.19,455.05 L891.26,455.42 L891.32,455.78 L891.39,456.15 L891.45,456.52 L891.52,456.89 L891.58,457.26 L891.65,457.63 L891.71,458.01 L891.78,458.39 L891.85,458.76 L891.91,459.15 L891.98,459.53 L892.04,459.91 L892.11,460.30 L892.17,460.69 L892.24,461.08 L892.30,461.47 L892.37,461.87 L892.43,462.27 L892.50,462.66 L892.56,463.07 L892.63,463.47 L892.69,463.87 L892.76,464.28 L892.82,464.69 L892.89,465.10 L892.95,465.52 L893.02,465.93 L893.08,466.35 L893.15,466.77 L893.21,467.19 L893.28,467.62 L893.34,468.05 L893.41,468.48 L893.47,468.91 L893.54,469.34 L893.61,469.78 L893.67,470.22 L893.74,470.66 L893.80,471.11 L893.87,471.55 L893.93,472.00 L894.00,472.46 L894.06,472.91 L894.13,473.37 L894.19,473.83 L894.26,474.29 L894.32,474.76 L894.39,475.23 L894.45,475.70 L894.52,476.17 L894.58,476.65 L894.65,477.13 L894.71,477.61 L894.78,478.10 L894.84,478.58 L894.91,479.08 L894.97,479.57 L895.04,480.07 L895.10,480.57 L895.17,481.07 L895.23,481.58 L895.30,482.09 L895.36,482.61 L895.43,483.12 L895.50,483.64 L895.56,484.17 L895.63,484.70 L895.69,485.23 L895.76,485.76 L895.82,486.30 L895.89,486.84 L895.95,487.39 L896.02,487.94 L896.08,488.49 L896.15,489.05 L896.21,489.61 L896.28,490.18 L896.34,490.74 L896.41,491.32 L896.47,491.90 L896.54,492.48 L896.60,493.06 L896.67,493.65 L896.73,494.25 L896.80,494.85 L896.86,495.45 L896.93,496.06 L896.99,496.67 L897.06,497.29 L897.12,497.91 L897.19,498.54 L897.26,499.17 L897.32,499.81 L897.39,500.45 L897.45,501.10 L897.52,501.75 L897.58,502.41 L897.65,503.07 L897.71,503.74 L897.78,504.41 L897.84,505.09 L897.91,505.78 L897.97,506.47 L898.04,507.17 L898.10,507.87 L898.17,508.58 L898.23,509.30 L898.30,510.02 L898.36,510.75 L898.43,511.49 L898.49,512.23 L898.56,512.98 L898.62,513.74 L898.69,514.50 L898.75,515.28 L898.82,516.05 L898.88,516.84 L898.95,517.64 L899.01,518.44 L899.08,519.25 L899.15,520.07 L899.21,520.89 L899.28,521.73 L899.34,522.57 L899.41,523.42 L899.47,524.29 L899.54,525.16 L899.60,526.04 L899.67,526.93 L899.73,527.83 L899.80,528.74 L899.86,529.66 L899.93,530.59 L899.99,531.54 L900.06,532.49 L900.12,533.45 L900.19,534.43 L900.25,535.42 L900.32,536.42 L900.38,537.43 L900.45,538.46 L900.51,539.50 L900.58,540.55 L900.64,541.62 L900.71,542.70 L900.77,543.80 L900.84,544.91 L900.90,546.03 L900.97,547.18 L901.04,548.33 L901.10,549.51 L901.17,550.70 L901.23,551.91 L901.30,553.14 L901.36,554.39 L901.43,555.66 L901.49,556.95 L901.56,558.26 L901.62,559.59 L901.69,560.94 L901.75,562.32 L901.82,563.72 L901.88,565.14 L901.95,566.59 L902.01,568.07 L902.08,569.57 L902.14,571.10 L902.21,572.67 L902.27,574.26 L902.34,575.89 L902.40,577.55 L902.47,579.24 L902.53,580.97 L902.60,582.74 L902.66,584.55 L902.73,586.40 L902.80,588.29 L902.86,590.23 L902.93,592.22 L902.99,594.26 L903.06,596.35 L903.12,598.50 L903.19,600.70 L903.25,602.97 L903.32,605.31 L903.38,607.71 L903.45,610.19 L903.51,612.75 L903.58,615.39 L903.64,617.12 L903.71,617.12 L903.77,617.12 L903.84,617.12 L903.90,617.12 L903.97,617.12 L904.03,617.12 L904.10,617.12 L904.16,617.12 L904.23,617.12 L904.29,617.12 L904.36,617.12 L904.42,617.12 L904.49,617.12 L904.55,617.12 L904.62,617.12 L904.69,617.12 L904.75,617.12 L904.82,617.12 L904.88,617.12 L904.95,617.12 L905.01,617.12 L905.08,617.12 L905.14,617.12 L905.21,617.12 L905.27,617.12 L905.34,617.12 L905.40,617.12 L905.47,617.12 L905.53,617.12 L905.60,617.12 L905.66,617.12 L905.73,617.12 L905.79,617.12 L905.86,617.12 L905.92,617.12 L905.99,617.12 L906.05,617.12 L906.12,617.12 L906.18,617.12 L906.25,617.12 L906.31,617.12 L906.38,617.12 L906.45,617.12 L906.51,617.12 L906.58,617.12 L906.64,617.12 L906.71,617.12 L906.77,617.12 L906.84,617.12 L906.90,617.12 L906.97,617.12 L907.03,617.12 L907.10,617.12 L907.16,617.12 L907.23,617.12 L907.29,617.12 L907.36,617.12 L907.42,617.12 L907.49,614.59 L907.55,612.09 L907.62,609.67 L907.68,607.33 L907.75,605.05 L907.81,602.85 L907.88,600.70 L907.94,598.61 L908.01,596.58 L908.07,594.61 L908.14,592.68 L908.20,590.80 L908.27,588.97 L908.34,587.18 L908.40,585.43 L908.47,583.72 L908.53,582.05 L908.60,580.42 L908.66,578.82 L908.73,577.26 L908.79,575.73 L908.86,574.22 L908.92,572.75 L908.99,571.31 L909.05,569.89 L909.12,568.51 L909.18,567.14 L909.25,565.80 L909.31,564.49 L909.38,563.20 L909.44,561.93 L909.51,560.68 L909.57,559.46 L909.64,558.25 L909.70,557.06 L909.77,555.89 L909.83,554.75 L909.90,553.61 L909.96,552.50 L910.03,551.40 L910.10,550.32 L910.16,549.26 L910.23,548.21 L910.29,547.18 L910.36,546.16 L910.42,545.15 L910.49,544.16 L910.55,543.19 L910.62,542.22 L910.68,541.27 L910.75,540.33 L910.81,539.41 L910.88,538.49 L910.94,537.59 L911.01,536.70 L911.07,535.82 L911.14,534.95 L911.20,534.09 L911.27,533.25 L911.33,532.41 L911.40,531.58 L911.46,530.76 L911.53,529.96 L911.59,529.16 L911.66,528.37 L911.72,527.59 L911.79,526.81 L911.85,526.05 L911.92,525.30 L911.99,524.55 L912.05,523.81 L912.12,523.08 L912.18,522.36 L912.25,521.64 L912.31,520.94 L912.38,520.24 L912.44,519.54 L912.51,518.86 L912.57,518.18 L912.64,517.51 L912.70,516.84 L912.77,516.19 L912.83,515.53 L912.90,514.89 L912.96,514.25 L913.03,513.62 L913.09,512.99 L913.16,512.37 L913.22,511.75 L913.29,511.14 L913.35,510.54 L913.42,509.94 L913.48,509.35 L913.55,508.76 L913.61,508.18 L913.68,507.60 L913.74,507.03 L913.81,506.47 L913.88,505.91 L913.94,505.35 L914.01,504.80 L914.07,504.25 L914.14,503.71 L914.20,503.17 L914.27,502.64 L914.33,502.11 L914.40,501.59 L914.46,501.07 L914.53,500.56 L914.59,500.05 L914.66,499.54 L914.72,499.04 L914.79,498.54 L914.85,498.05 L914.92,497.56 L914.98,497.07 L915.05,496.59 L915.11,496.11 L915.18,495.64 L915.24,495.17 L915.31,494.70 L915.37,494.24 L915.44,493.78 L915.50,493.32 L915.57,492.87 L915.64,492.42 L915.70,491.98 L915.77,491.54 L915.83,491.10 L915.90,490.66 L915.96,490.23 L916.03,489.80 L916.09,489.38 L916.16,488.96 L916.22,488.54 L916.29,488.12 L916.35,487.71 L916.42,487.30 L916.48,486.89 L916.55,486.49 L916.61,486.09 L916.68,485.69 L916.74,485.30 L916.81,484.91 L916.87,484.52 L916.94,484.13 L917.00,483.75 L917.07,483.37 L917.13,482.99 L917.20,482.61 L917.26,482.24 L917.33,481.87 L917.39,481.50 L917.46,481.14 L917.53,480.78 L917.59,480.42 L917.66,480.06 L917.72,479.71 L917.79,479.35 L917.85,479.00 L917.92,478.66 L917.98,478.31 L918.05,477.97 L918.11,477.63 L918.18,477.29 L918.24,476.96 L918.31,476.62 L918.37,476.29 L918.44,475.96 L918.50,475.64 L918.57,475.31 L918.63,474.99 L918.70,474.67 L918.76,474.35 L918.83,474.04 L918.89,473.73 L918.96,473.41 L919.02,473.11 L919.09,472.80 L919.15,472.49 L919.22,472.19 L919.29,471.89 L919.35,471.59 L919.42,471.29 L919.48,471.00 L919.55,470.71 L919.61,470.41 L919.68,470.13 L919.74,469.84 L919.81,469.55 L919.87,469.27 L919.94,468.99 L920.00,468.71 L920.07,468.43 L920.13,468.15 L920.20,467.88 L920.26,467.61 L920.33,467.34 L920.39,467.07 L920.46,466.80 L920.52,466.54 L920.59,466.27 L920.65,466.01 L920.72,465.75 L920.78,465.49 L920.85,465.24 L920.91,464.98 L920.98,464.73 L921.04,464.48 L921.11,464.23 L921.18,463.98 L921.24,463.73 L921.31,463.49 L921.37,463.24 L921.44,463.00 L921.50,462.76 L921.57,462.52 L921.63,462.28 L921.70,462.05 L921.76,461.81 L921.83,461.58 L921.89,461.35 L921.96,461.12 L922.02,460.89 L922.09,460.67 L922.15,460.44 L922.22,460.22 L922.28,460.00 L922.35,459.78 L922.41,459.56 L922.48,459.34 L922.54,459.12 L922.61,458.91 L922.67,458.69 L922.74,458.48 L922.80,458.27 L922.87,458.06 L922.93,457.86 L923.00,457.65 L923.07,457.44 L923.13,457.24 L923.20,457.04 L923.26,456.84 L923.33,456.64 L923.39,456.44 L923.46,456.24 L923.52,456.05 L923.59,455.86 L923.65,455.66 L923.72,455.47 L923.78,455.28 L923.85,455.09 L923.91,454.90 L923.98,454.72 L924.04,454.53 L924.11,454.35 L924.17,454.17 L924.24,453.99 L924.30,453.81 L924.37,453.63 L924.43,453.45 L924.50,453.28 L924.56,453.10 L924.63,452.93 L924.69,452.75 L924.76,452.58 L924.83,452.41 L924.89,452.24 L924.96,452.08 L925.02,451.91 L925.09,451.75 L925.15,451.58 L925.22,451.42 L925.28,451.26 L925.35,451.10 L925.41,450.94 L925.48,450.78 L925.54,450.62 L925.61,450.47 L925.67,450.31 L925.74,450.16 L925.80,450.01 L925.87,449.86 L925.93,449.71 L926.00,449.56 L926.06,449.41 L926.13,449.26 L926.19,449.12 L926.26,448.98 L926.32,448.83 L926.39,448.69 L926.45,448.55 L926.52,448.41 L926.58,448.27 L926.65,448.13 L926.72,448.00 L926.78,447.86 L926.85,447.73 L926.91,447.59 L926.98,447.46 L927.04,447.33 L927.11,447.20 L927.17,447.07 L927.24,446.94 L927.30,446.82 L927.37,446.69 L927.43,446.57 L927.50,446.44 L927.56,446.32 L927.63,446.20 L927.69,446.08 L927.76,445.96 L927.82,445.84 L927.89,445.72 L927.95,445.61 L928.02,445.49 L928.08,445.38 L928.15,445.26 L928.21,445.15 L928.28,445.04 L928.34,444.93 L928.41,444.82 L928.48,444.71 L928.54,444.61 L928.61,444.50 L928.67,444.40 L928.74,444.29 L928.80,444.19 L928.87,444.09 L928.93,443.99 L929.00,443.89 L929.06,443.79 L929.13,443.69 L929.19,443.59 L929.26,443.50 L929.32,443.40 L929.39,443.31 L929.45,443.21 L929.52,443.12 L929.58,443.03 L929.65,442.94 L929.71,442.85 L929.78,442.76 L929.84,442.68 L929.91,442.59 L929.97,442.50 L930.04,442.42 L930.10,442.34 L930.17,442.25 L930.23,442.17 L930.30,442.09 L930.37,442.01 L930.43,441.93 L930.50,441.86 L930.56,441.78 L930.63,441.71 L930.69,441.63 L930.76,441.56 L930.82,441.48 L930.89,441.41 L930.95,441.34 L931.02,441.27 L931.08,441.20 L931.15,441.13 L931.21,441.07 L931.28,441.00 L931.34,440.94 L931.41,440.87 L931.47,440.81 L931.54,440.75 L931.60,440.68 L931.67,440.62 L931.73,440.56 L931.80,440.51 L931.86,440.45 L931.93,440.39 L931.99,440.34 L932.06,440.28 L932.13,440.23 L932.19,440.17 L932.26,440.12 L932.32,440.07 L932.39,440.02 L932.45,439.97 L932.52,439.92 L932.58,439.88 L932.65,439.83 L932.71,439.78 L932.78,439.74 L932.84,439.69 L932.91,439.65 L932.97,439.61 L933.04,439.57 L933.10,439.53 L933.17,439.49 L933.23,439.45 L933.30,439.41 L933.36,439.38 L933.43,439.34 L933.49,439.31 L933.56,439.28 L933.62,439.24 L933.69,439.21 L933.75,439.18 L933.82,439.15 L933.88,439.12 L933.95,439.09 L934.02,439.07 L934.08,439.04 L934.15,439.01 L934.21,438.99 L934.28,438.97 L934.34,438.94 L934.41,438.92 L934.47,438.90 L934.54,438.88 L934.60,438.86 L934.67,438.85 L934.73,438.83 L934.80,438.81 L934.86,438.80 L934.93,438.78 L934.99,438.77 L935.06,438.76 L935.12,438.75 L935.19,438.74 L935.25,438.73 L935.32,438.72 L935.38,438.71 L935.45,438.70 L935.51,438.70 L935.58,438.69 L935.64,438.69 L935.71,438.69 L935.77,438.68 L935.84,438.68 L935.91,438.68 L935.97,438.68 L936.04,438.69 L936.10,438.69 L936.17,438.69 L936.23,438.70 L936.30,438.70 L936.36,438.71 L936.43,438.72 L936.49,438.72 L936.56,438.73 L936.62,438.74 L936.69,438.75 L936.75,438.77 L936.82,438.78 L936.88,438.79 L936.95,438.81 L937.01,438.82 L937.08,438.84 L937.14,438.86 L937.21,438.88 L937.27,438.90 L937.34,438.92 L937.40,438.94 L937.47,438.96 L937.53,438.98 L937.60,439.01 L937.67,439.03 L937.73,439.06 L937.80,439.09 L937.86,439.12 L937.93,439.15 L937.99,439.18 L938.06,439.21 L938.12,439.24 L938.19,439.27 L938.25,439.31 L938.32,439.34 L938.38,439.38 L938.45,439.41 L938.51,439.45 L938.58,439.49 L938.64,439.53 L938.71,439.57 L938.77,439.61 L938.84,439.66 L938.90,439.70 L938.97,439.75 L939.03,439.79 L939.10,439.84 L939.16,439.89 L939.23,439.94 L939.29,439.99 L939.36,440.04 L939.42,440.09 L939.49,440.14 L939.56,440.20 L939.62,440.25 L939.69,440.31 L939.75,440.36 L939.82,440.42 L939.88,440.48 L939.95,440.54 L940.01,440.60 L940.08,440.66 L940.14,440.73 L940.21,440.79 L940.27,440.86 L940.34,440.92 L940.40,440.99 L940.47,441.06 L940.53,441.13 L940.60,441.20 L940.66,441.27 L940.73,441.34 L940.79,441.42 L940.86,441.49 L940.92,441.57 L940.99,441.64 L941.05,441.72 L941.12,441.80 L941.18,441.88 L941.25,441.96 L941.32,442.04 L941.38,442.13 L941.45,442.21 L941.51,442.30 L941.58,442.38 L941.64,442.47 L941.71,442.56 L941.77,442.65 L941.84,442.74 L941.90,442.83 L941.97,442.93 L942.03,443.02 L942.10,443.12 L942.16,443.21 L942.23,443.31 L942.29,443.41 L942.36,443.51 L942.42,443.61 L942.49,443.71 L942.55,443.82 L942.62,443.92 L942.68,444.03 L942.75,444.13 L942.81,444.24 L942.88,444.35 L942.94,444.46 L943.01,444.57 L943.07,444.69 L943.14,444.80 L943.21,444.91 L943.27,445.03 L943.34,445.15 L943.40,445.27 L943.47,445.39 L943.53,445.51 L943.60,445.63 L943.66,445.75 L943.73,445.88 L943.79,446.00 L943.86,446.13 L943.92,446.26 L943.99,446.39 L944.05,446.52 L944.12,446.65 L944.18,446.79 L944.25,446.92 L944.31,447.06 L944.38,447.19 L944.44,447.33 L944.51,447.47 L944.57,447.61 L944.64,447.76 L944.70,447.90 L944.77,448.05 L944.83,448.19 L944.90,448.34 L944.96,448.49 L945.03,448.64 L945.10,448.79 L945.16,448.94 L945.23,449.10 L945.29,449.25 L945.36,449.41 L945.42,449.57 L945.49,449.73 L945.55,449.89 L945.62,450.05 L945.68,450.22 L945.75,450.38 L945.81,450.55 L945.88,450.72 L945.94,450.89 L946.01,451.06 L946.07,451.23 L946.14,451.40 L946.20,451.58 L946.27,451.75 L946.33,451.93 L946.40,452.11 L946.46,452.29 L946.53,452.48 L946.59,452.66 L946.66,452.85 L946.72,453.03 L946.79,453.22 L946.86,453.41 L946.92,453.60 L946.99,453.80 L947.05,453.99 L947.12,454.19 L947.18,454.38 L947.25,454.58 L947.31,454.78 L947.38,454.99 L947.44,455.19 L947.51,455.40 L947.57,455.60 L947.64,455.81 L947.70,456.02 L947.77,456.24 L947.83,456.45 L947.90,456.67 L947.96,456.88 L948.03,457.10 L948.09,457.32 L948.16,457.54 L948.22,457.77 L948.29,457.99 L948.35,458.22 L948.42,458.45 L948.48,458.68 L948.55,458.91 L948.61,459.15 L948.68,459.39 L948.75,459.62 L948.81,459.86 L948.88,460.11 L948.94,460.35 L949.01,460.59 L949.07,460.84 L949.14,461.09 L949.20,461.34 L949.27,461.59 L949.33,461.85 L949.40,462.11 L949.46,462.36 L949.53,462.62 L949.59,462.89 L949.66,463.15 L949.72,463.42 L949.79,463.69 L949.85,463.96 L949.92,464.23 L949.98,464.50 L950.05,464.78 L950.11,465.06 L950.18,465.34 L950.24,465.62 L950.31,465.91 L950.37,466.20 L950.44,466.49 L950.51,466.78 L950.57,467.07 L950.64,467.37 L950.70,467.66 L950.77,467.96 L950.83,468.27 L950.90,468.57 L950.96,468.88 L951.03,469.19 L951.09,469.50 L951.16,469.81 L951.22,470.13 L951.29,470.45 L951.35,470.77 L951.42,471.09 L951.48,471.42 L951.55,471.75 L951.61,472.08 L951.68,472.41 L951.74,472.75 L951.81,473.09 L951.87,473.43 L951.94,473.77 L952.00,474.12 L952.07,474.47 L952.13,474.82 L952.20,475.17 L952.26,475.53 L952.33,475.89 L952.40,476.25 L952.46,476.62 L952.53,476.99 L952.59,477.36 L952.66,477.73 L952.72,478.11 L952.79,478.49 L952.85,478.87 L952.92,479.26 L952.98,479.65 L953.05,480.04 L953.11,480.43 L953.18,480.83 L953.24,481.23 L953.31,481.64 L953.37,482.04 L953.44,482.45 L953.50,482.87 L953.57,483.28 L953.63,483.71 L953.70,484.13 L953.76,484.56 L953.83,484.99 L953.89,485.42 L953.96,485.86 L954.02,486.30 L954.09,486.74 L954.16,487.19 L954.22,487.65 L954.29,488.10 L954.35,488.56 L954.42,489.02 L954.48,489.49 L954.55,489.96 L954.61,490.44 L954.68,490.92 L954.74,491.40 L954.81,491.89 L954.87,492.38 L954.94,492.87 L955.00,493.37 L955.07,493.88 L955.13,494.39 L955.20,494.90 L955.26,495.41 L955.33,495.94 L955.39,496.46 L955.46,496.99 L955.52,497.53 L955.59,498.07 L955.65,498.61 L955.72,499.16 L955.78,499.72 L955.85,500.28 L955.91,500.84 L955.98,501.42 L956.05,501.99 L956.11,502.57 L956.18,503.16 L956.24,503.75 L956.31,504.35 L956.37,504.95 L956.44,505.56 L956.50,506.17 L956.57,506.79 L956.63,507.42 L956.70,508.05 L956.76,508.69 L956.83,509.33 L956.89,509.99 L956.96,510.64 L957.02,511.31 L957.09,511.98 L957.15,512.66 L957.22,513.34 L957.28,514.03 L957.35,514.73 L957.41,515.44 L957.48,516.15 L957.54,516.87 L957.61,517.60 L957.67,518.34 L957.74,519.08 L957.80,519.84 L957.87,520.60 L957.94,521.37 L958.00,522.15 L958.07,522.93 L958.13,523.73 L958.20,524.53 L958.26,525.35 L958.33,526.17 L958.39,527.01 L958.46,527.85 L958.52,528.70 L958.59,529.57 L958.65,530.44 L958.72,531.33 L958.78,532.22 L958.85,533.13 L958.91,534.05 L958.98,534.98 L959.04,535.92 L959.11,536.88 L959.17,537.85 L959.24,538.83 L959.30,539.82 L959.37,540.83 L959.43,541.85 L959.50,542.89 L959.56,543.94 L959.63,545.00 L959.70,546.08 L959.76,547.18 L959.83,548.29 L959.89,549.42 L959.96,550.57 L960.02,551.74 L960.09,552.92 L960.15,554.12 L960.22,555.35 L960.28,556.59 L960.35,557.85 L960.41,559.14 L960.48,560.44 L960.54,561.77 L960.61,563.12 L960.67,564.50 L960.74,565.90 L960.80,567.33 L960.87,568.78 L960.93,570.27 L961.00,571.78 L961.06,573.32 L961.13,574.90 L961.19,576.50 L961.26,578.14 L961.32,579.82 L961.39,581.53 L961.45,583.28 L961.52,585.08 L961.59,586.91 L961.65,588.79 L961.72,590.71 L961.78,592.69 L961.85,594.71 L961.91,596.79 L961.98,598.92 L962.04,601.12 L962.11,603.37 L962.17,605.70 L962.24,608.09 L962.30,610.56 L962.37,613.11 L962.43,615.75 L962.50,617.12 L962.56,617.12 L962.63,617.12 L962.69,617.12 L962.76,617.12 L962.82,617.12 L962.89,617.12 L962.95,617.12 L963.02,617.12 L963.08,617.12 L963.15,617.12 L963.21,617.12 L963.28,617.12 L963.35,617.12 L963.41,617.12 L963.48,617.12 L963.54,617.12 L963.61,617.12 L963.67,617.12 L963.74,617.12 L963.80,617.12 L963.87,617.12 L963.93,617.12 L964.00,617.12 L964.06,617.12 L964.13,617.12 L964.19,617.12 L964.26,617.12 L964.32,617.12 L964.39,617.12 L964.45,617.12 L964.52,617.12 L964.58,617.12 L964.65,617.12 L964.71,617.12 L964.78,617.12 L964.84,617.12 L964.91,617.12 L964.97,617.12 L965.04,617.12 L965.10,617.12 L965.17,617.12 L965.24,617.12 L965.30,617.12 L965.37,617.12 L965.43,617.12 L965.50,617.12 L965.56,617.12 L965.63,617.12 L965.69,617.12 L965.76,617.12 L965.82,617.12 L965.89,617.12 L965.95,617.12 L966.02,617.12 L966.08,617.12 L966.15,617.12 L966.21,617.12 L966.28,617.12 L966.34,614.66 L966.41,612.18 L966.47,609.78 L966.54,607.45 L966.60,605.20 L966.67,603.01 L966.73,600.89 L966.80,598.82 L966.86,596.81 L966.93,594.86 L966.99,592.95 L967.06,591.10 L967.13,589.29 L967.19,587.52 L967.26,585.80 L967.32,584.11 L967.39,582.47 L967.45,580.86 L967.52,579.29 L967.58,577.75 L967.65,576.24 L967.71,574.77 L967.78,573.32 L967.84,571.91 L967.91,570.52 L967.97,569.16 L968.04,567.83 L968.10,566.52 L968.17,565.23 L968.23,563.97 L968.30,562.73 L968.36,561.52 L968.43,560.32 L968.49,559.15 L968.56,558.00 L968.62,556.86 L968.69,555.75 L968.75,554.65 L968.82,553.57 L968.89,552.51 L968.95,551.47 L969.02,550.44 L969.08,549.43 L969.15,548.43 L969.21,547.45 L969.28,546.48 L969.34,545.53 L969.41,544.59 L969.47,543.67 L969.54,542.76 L969.60,541.86 L969.67,540.98 L969.73,540.11 L969.80,539.25 L969.86,538.40 L969.93,537.57 L969.99,536.74 L970.06,535.93 L970.12,535.13 L970.19,534.34 L970.25,533.56 L970.32,532.79 L970.38,532.03 L970.45,531.28 L970.51,530.54 L970.58,529.81 L970.64,529.08 L970.71,528.37 L970.78,527.67 L970.84,526.98 L970.91,526.29 L970.97,525.61 L971.04,524.95 L971.10,524.28 L971.17,523.63 L971.23,522.99 L971.30,522.35 L971.36,521.72 L971.43,521.10 L971.49,520.49 L971.56,519.88 L971.62,519.29 L971.69,518.69 L971.75,518.11 L971.82,517.53 L971.88,516.96 L971.95,516.40 L972.01,515.84 L972.08,515.29 L972.14,514.74 L972.21,514.20 L972.27,513.67 L972.34,513.15 L972.40,512.63 L972.47,512.11 L972.54,511.61 L972.60,511.10 L972.67,510.61 L972.73,510.12 L972.80,509.63 L972.86,509.15 L972.93,508.68 L972.99,508.21 L973.06,507.75 L973.12,507.29 L973.19,506.84 L973.25,506.39 L973.32,505.95 L973.38,505.51 L973.45,505.08 L973.51,504.65 L973.58,504.23 L973.64,503.81 L973.71,503.40 L973.77,502.99 L973.84,502.59 L973.90,502.19 L973.97,501.80 L974.03,501.41 L974.10,501.02 L974.16,500.64 L974.23,500.26 L974.29,499.89 L974.36,499.53 L974.43,499.16 L974.49,498.80 L974.56,498.45 L974.62,498.10 L974.69,497.75 L974.75,497.41 L974.82,497.07 L974.88,496.74 L974.95,496.41 L975.01,496.08 L975.08,495.76 L975.14,495.44 L975.21,495.13 L975.27,494.82 L975.34,494.51 L975.40,494.21 L975.47,493.91 L975.53,493.61 L975.60,493.32 L975.66,493.03 L975.73,492.75 L975.79,492.47 L975.86,492.19 L975.92,491.92 L975.99,491.64 L976.05,491.38 L976.12,491.12 L976.19,490.86 L976.25,490.60 L976.32,490.35 L976.38,490.10 L976.45,489.85 L976.51,489.61 L976.58,489.37 L976.64,489.13 L976.71,488.90 L976.77,488.67 L976.84,488.45 L976.90,488.22 L976.97,488.00 L977.03,487.79 L977.10,487.57 L977.16,487.36 L977.23,487.16 L977.29,486.95 L977.36,486.75 L977.42,486.56 L977.49,486.36 L977.55,486.17 L977.62,485.98 L977.68,485.80 L977.75,485.62 L977.81,485.44 L977.88,485.26 L977.94,485.09 L978.01,484.92 L978.08,484.76 L978.14,484.59 L978.21,484.43 L978.27,484.27 L978.34,484.12 L978.40,483.97 L978.47,483.82 L978.53,483.67 L978.60,483.53 L978.66,483.39 L978.73,483.25 L978.79,483.12 L978.86,482.99 L978.92,482.86 L978.99,482.73 L979.05,482.61 L979.12,482.49 L979.18,482.38 L979.25,482.26 L979.31,482.15 L979.38,482.04 L979.44,481.94 L979.51,481.83 L979.57,481.73 L979.64,481.64 L979.70,481.54 L979.77,481.45 L979.83,481.36 L979.90,481.28 L979.97,481.19 L980.03,481.11 L980.10,481.04 L980.16,480.96 L980.23,480.89 L980.29,480.82 L980.36,480.75 L980.42,480.69 L980.49,480.63 L980.55,480.57 L980.62,480.52 L980.68,480.46 L980.75,480.41 L980.81,480.37 L980.88,480.32 L980.94,480.28 L981.01,480.24 L981.07,480.21 L981.14,480.17 L981.20,480.14 L981.27,480.11 L981.33,480.09 L981.40,480.07 L981.46,480.05 L981.53,480.03 L981.59,480.02 L981.66,480.00 L981.73,480.00 L981.79,479.99 L981.86,479.99 L981.92,479.99 L981.99,479.99 L982.05,480.00 L982.12,480.00 L982.18,480.01 L982.25,480.03 L982.31,480.04 L982.38,480.06 L982.44,480.08 L982.51,480.11 L982.57,480.14 L982.64,480.17 L982.70,480.20 L982.77,480.24 L982.83,480.28 L982.90,480.32 L982.96,480.36 L983.03,480.41 L983.09,480.46 L983.16,480.51 L983.22,480.57 L983.29,480.62 L983.35,480.69 L983.42,480.75 L983.48,480.82 L983.55,480.89 L983.62,480.96 L983.68,481.04 L983.75,481.11 L983.81,481.20 L983.88,481.28 L983.94,481.37 L984.01,481.46 L984.07,481.55 L984.14,481.65 L984.20,481.75 L984.27,481.85 L984.33,481.95 L984.40,482.06 L984.46,482.17 L984.53,482.29 L984.59,482.40 L984.66,482.52 L984.72,482.65 L984.79,482.77 L984.85,482.90 L984.92,483.04 L984.98,483.17 L985.05,483.31 L985.11,483.45 L985.18,483.60 L985.24,483.74 L985.31,483.90 L985.38,484.05 L985.44,484.21 L985.51,484.37 L985.57,484.53 L985.64,484.70 L985.70,484.87 L985.77,485.04 L985.83,485.22 L985.90,485.40 L985.96,485.58 L986.03,485.77 L986.09,485.96 L986.16,486.15 L986.22,486.35 L986.29,486.55 L986.35,486.76 L986.42,486.96 L986.48,487.17 L986.55,487.39 L986.61,487.61 L986.68,487.83 L986.74,488.05 L986.81,488.28 L986.87,488.51 L986.94,488.75 L987.00,488.99 L987.07,489.23 L987.13,489.48 L987.20,489.73 L987.27,489.98 L987.33,490.24 L987.40,490.50 L987.46,490.77 L987.53,491.04 L987.59,491.31 L987.66,491.59 L987.72,491.87 L987.79,492.15 L987.85,492.44 L987.92,492.73 L987.98,493.03 L988.05,493.33 L988.11,493.64 L988.18,493.95 L988.24,494.26 L988.31,494.58 L988.37,494.90 L988.44,495.23 L988.50,495.56 L988.57,495.89 L988.63,496.23 L988.70,496.58 L988.76,496.93 L988.83,497.28 L988.89,497.64 L988.96,498.00 L989.03,498.37 L989.09,498.74 L989.16,499.12 L989.22,499.50 L989.29,499.88 L989.35,500.27 L989.42,500.67 L989.48,501.07 L989.55,501.48 L989.61,501.89 L989.68,502.31 L989.74,502.73 L989.81,503.15 L989.87,503.59 L989.94,504.02 L990.00,504.47 L990.07,504.92 L990.13,505.37 L990.20,505.83 L990.26,506.30 L990.33,506.77 L990.39,507.25 L990.46,507.73 L990.52,508.22 L990.59,508.72 L990.65,509.22 L990.72,509.72 L990.78,510.24 L990.85,510.76 L990.92,511.29 L990.98,511.82 L991.05,512.36 L991.11,512.91 L991.18,513.46 L991.24,514.02 L991.31,514.59 L991.37,515.17 L991.44,515.75 L991.50,516.34 L991.57,516.94 L991.63,517.54 L991.70,518.16 L991.76,518.78 L991.83,519.41 L991.89,520.04 L991.96,520.69 L992.02,521.34 L992.09,522.00 L992.15,522.67 L992.22,523.35 L992.28,524.04 L992.35,524.74 L992.41,525.45 L992.48,526.16 L992.54,526.89 L992.61,527.62 L992.67,528.37 L992.74,529.12 L992.81,529.89 L992.87,530.67 L992.94,531.45 L993.00,532.25 L993.07,533.06 L993.13,533.88 L993.20,534.72 L993.26,535.56 L993.33,536.42 L993.39,537.29 L993.46,538.17 L993.52,539.06 L993.59,539.97 L993.65,540.89 L993.72,541.83 L993.78,542.78 L993.85,543.74 L993.91,544.72 L993.98,545.72 L994.04,546.73 L994.11,547.75 L994.17,548.80 L994.24,549.86 L994.30,550.93 L994.37,552.03 L994.43,553.14 L994.50,554.28 L994.57,555.43 L994.63,556.60 L994.70,557.79 L994.76,559.01 L994.83,560.24 L994.89,561.50 L994.96,562.78 L995.02,564.09 L995.09,565.42 L995.15,566.78 L995.22,568.16 L995.28,569.57 L995.35,571.01 L995.41,572.48 L995.48,573.98 L995.54,575.51 L995.61,577.07 L995.67,578.67 L995.74,580.31 L995.80,581.98 L995.87,583.69 L995.93,585.44 L996.00,587.24 L996.06,589.08 L996.13,590.96 L996.19,592.90 L996.26,594.88 L996.32,596.92 L996.39,599.02 L996.46,601.18 L996.52,603.40 L996.59,605.68 L996.65,608.04 L996.72,610.47 L996.78,612.98 L996.85,615.58 L996.91,617.12 L996.98,617.12 L997.04,617.12 L997.11,617.12 L997.17,617.12 L997.24,617.12 L997.30,617.12 L997.37,617.12 L997.43,617.12 L997.50,617.12 L997.56,617.12 L997.63,617.12 L997.69,617.12 L997.76,617.12 L997.82,617.12 L997.89,617.12 L997.95,617.12 L998.02,617.12 L998.08,617.12 L998.15,617.12 L998.22,617.12 L998.28,617.12 L998.35,617.12 L998.41,617.12 L998.48,617.12 L998.54,617.12 L998.61,617.12 L998.67,617.12 L998.74,617.12 L998.80,617.12 L998.87,617.12 L998.93,617.12 L999.00,617.12 L999.06,617.12 L999.13,617.12 L999.19,617.12 L999.26,617.12 L999.32,617.12 L999.39,617.12 L999.45,617.12 L999.52,617.12 L999.58,617.12 L999.65,617.12 L999.71,617.12 L999.78,617.12 L999.84,617.12 L999.91,617.12 L999.97,617.12 L1000.04,617.12 L1000.11,617.12 L1000.17,617.12 L1000.24,617.12 L1000.30,617.12 L1000.37,617.12 L1000.43,617.12 L1000.50,617.12 L1000.56,617.12 L1000.63,617.12 L1000.69,617.12 L1000.76,615.49 L1000.82,613.02 L1000.89,610.63 L1000.95,608.32 L1001.02,606.08 L1001.08,603.90 L1001.15,601.80 L1001.21,599.75 L1001.28,597.76 L1001.34,595.83 L1001.41,593.95 L1001.47,592.11 L1001.54,590.33 L1001.60,588.59 L1001.67,586.89 L1001.73,585.24 L1001.80,583.62 L1001.86,582.05 L1001.93,580.51 L1002.00,579.00 L1002.06,577.53 L1002.13,576.09 L1002.19,574.68 L1002.26,573.31 L1002.32,571.96 L1002.39,570.64 L1002.45,569.35 L1002.52,568.08 L1002.58,566.84 L1002.65,565.62 L1002.71,564.43 L1002.78,563.26 L1002.84,562.11 L1002.91,560.99 L1002.97,559.88 L1003.04,558.80 L1003.10,557.74 L1003.17,556.69 L1003.23,555.67 L1003.30,554.66 L1003.36,553.68 L1003.43,552.70 L1003.49,551.75 L1003.56,550.81 L1003.62,549.89 L1003.69,548.99 L1003.76,548.10 L1003.82,547.23 L1003.89,546.37 L1003.95,545.52 L1004.02,544.69 L1004.08,543.88 L1004.15,543.07 L1004.21,542.28 L1004.28,541.51 L1004.34,540.74 L1004.41,539.99 L1004.47,539.25 L1004.54,538.53 L1004.60,537.81 L1004.67,537.11 L1004.73,536.42 L1004.80,535.74 L1004.86,535.07 L1004.93,534.41 L1004.99,533.76 L1005.06,533.13 L1005.12,532.50 L1005.19,531.88 L1005.25,531.28 L1005.32,530.68 L1005.38,530.09 L1005.45,529.51 L1005.51,528.95 L1005.58,528.39 L1005.65,527.84 L1005.71,527.30 L1005.78,526.77 L1005.84,526.24 L1005.91,525.73 L1005.97,525.22 L1006.04,524.73 L1006.10,524.24 L1006.17,523.76 L1006.23,523.28 L1006.30,522.82 L1006.36,522.36 L1006.43,521.91 L1006.49,521.47 L1006.56,521.04 L1006.62,520.62 L1006.69,520.20 L1006.75,519.79 L1006.82,519.38 L1006.88,518.99 L1006.95,518.60 L1007.01,518.22 L1007.08,517.84 L1007.14,517.48 L1007.21,517.12 L1007.27,516.76 L1007.34,516.42 L1007.41,516.08 L1007.47,515.74 L1007.54,515.42 L1007.60,515.10 L1007.67,514.78 L1007.73,514.48 L1007.80,514.18 L1007.86,513.88 L1007.93,513.60 L1007.99,513.32 L1008.06,513.04 L1008.12,512.77 L1008.19,512.51 L1008.25,512.25 L1008.32,512.00 L1008.38,511.76 L1008.45,511.52 L1008.51,511.29 L1008.58,511.07 L1008.64,510.85 L1008.71,510.63 L1008.77,510.43 L1008.84,510.22 L1008.90,510.03 L1008.97,509.84 L1009.03,509.65 L1009.10,509.47 L1009.16,509.30 L1009.23,509.13 L1009.30,508.97 L1009.36,508.82 L1009.43,508.67 L1009.49,508.52 L1009.56,508.38 L1009.62,508.25 L1009.69,508.12 L1009.75,508.00 L1009.82,507.89 L1009.88,507.78 L1009.95,507.67 L1010.01,507.57 L1010.08,507.48 L1010.14,507.39 L1010.21,507.31 L1010.27,507.23 L1010.34,507.16 L1010.40,507.09 L1010.47,507.03 L1010.53,506.98 L1010.60,506.93 L1010.66,506.88 L1010.73,506.84 L1010.79,506.81 L1010.86,506.78 L1010.92,506.76 L1010.99,506.74 L1011.06,506.73 L1011.12,506.73 L1011.19,506.73 L1011.25,506.73 L1011.32,506.74 L1011.38,506.76 L1011.45,506.78 L1011.51,506.81 L1011.58,506.84 L1011.64,506.88 L1011.71,506.92 L1011.77,506.97 L1011.84,507.03 L1011.90,507.09 L1011.97,507.15 L1012.03,507.23 L1012.10,507.30 L1012.16,507.39 L1012.23,507.47 L1012.29,507.57 L1012.36,507.67 L1012.42,507.78 L1012.49,507.89 L1012.55,508.00 L1012.62,508.13 L1012.68,508.26 L1012.75,508.39 L1012.81,508.53 L1012.88,508.68 L1012.95,508.83 L1013.01,508.99 L1013.08,509.15 L1013.14,509.32 L1013.21,509.50 L1013.27,509.68 L1013.34,509.87 L1013.40,510.07 L1013.47,510.27 L1013.53,510.47 L1013.60,510.69 L1013.66,510.91 L1013.73,511.13 L1013.79,511.36 L1013.86,511.60 L1013.92,511.85 L1013.99,512.10 L1014.05,512.36 L1014.12,512.62 L1014.18,512.89 L1014.25,513.17 L1014.31,513.45 L1014.38,513.74 L1014.44,514.04 L1014.51,514.35 L1014.57,514.66 L1014.64,514.98 L1014.70,515.30 L1014.77,515.63 L1014.84,515.97 L1014.90,516.32 L1014.97,516.68 L1015.03,517.04 L1015.10,517.41 L1015.16,517.78 L1015.23,518.17 L1015.29,518.56 L1015.36,518.96 L1015.42,519.37 L1015.49,519.78 L1015.55,520.21 L1015.62,520.64 L1015.68,521.08 L1015.75,521.53 L1015.81,521.98 L1015.88,522.45 L1015.94,522.92 L1016.01,523.41 L1016.07,523.90 L1016.14,524.40 L1016.20,524.91 L1016.27,525.42 L1016.33,525.95 L1016.40,526.49 L1016.46,527.04 L1016.53,527.59 L1016.60,528.16 L1016.66,528.73 L1016.73,529.32 L1016.79,529.92 L1016.86,530.52 L1016.92,531.14 L1016.99,531.77 L1017.05,532.41 L1017.12,533.06 L1017.18,533.72 L1017.25,534.39 L1017.31,535.08 L1017.38,535.78 L1017.44,536.49 L1017.51,537.21 L1017.57,537.94 L1017.64,538.69 L1017.70,539.45 L1017.77,540.22 L1017.83,541.01 L1017.90,541.81 L1017.96,542.62 L1018.03,543.45 L1018.09,544.29 L1018.16,545.15 L1018.22,546.03 L1018.29,546.92 L1018.35,547.82 L1018.42,548.75 L1018.49,549.68 L1018.55,550.64 L1018.62,551.62 L1018.68,552.61 L1018.75,553.62 L1018.81,554.65 L1018.88,555.70 L1018.94,556.77 L1019.01,557.86 L1019.07,558.97 L1019.14,560.10 L1019.20,561.26 L1019.27,562.44 L1019.33,563.64 L1019.40,564.87 L1019.46,566.12 L1019.53,567.40 L1019.59,568.70 L1019.66,570.04 L1019.72,571.40 L1019.79,572.79 L1019.85,574.21 L1019.92,575.67 L1019.98,577.16 L1020.05,578.68 L1020.11,580.24 L1020.18,581.83 L1020.25,583.47 L1020.31,585.14 L1020.38,586.86 L1020.44,588.62 L1020.51,590.43 L1020.57,592.28 L1020.64,594.19 L1020.70,596.15 L1020.77,598.16 L1020.83,600.23 L1020.90,602.37 L1020.96,604.57 L1021.03,606.84 L1021.09,609.18 L1021.16,611.60 L1021.22,614.10 L1021.29,616.68 L1021.35,617.12 L1021.42,617.12 L1021.48,617.12 L1021.55,617.12 L1021.61,617.12 L1021.68,617.12 L1021.74,617.12 L1021.81,617.12 L1021.87,617.12 L1021.94,617.12 L1022.00,617.12 L1022.07,617.12 L1022.14,617.12 L1022.20,617.12 L1022.27,617.12 L1022.33,617.12 L1022.40,617.12 L1022.46,617.12 L1022.53,617.12 L1022.59,617.12 L1022.66,617.12 L1022.72,617.12 L1022.79,617.12 L1022.85,617.12 L1022.92,617.12 L1022.98,617.12 L1023.05,617.12 L1023.11,617.12 L1023.18,617.12 L1023.24,617.12 L1023.31,617.12 L1023.37,617.12 L1023.44,617.12 L1023.50,617.12 L1023.57,617.12 L1023.63,617.12 L1023.70,617.12 L1023.76,617.12 L1023.83,617.12 L1023.89,617.12 L1023.96,617.12 L1024.03,617.12 L1024.09,617.12 L1024.16,617.12 L1024.22,617.12 L1024.29,617.12 L1024.35,617.12 L1024.42,617.12 L1024.48,617.12 L1024.55,617.12 L1024.61,617.12 L1024.68,617.12 L1024.74,617.12 L1024.81,617.12 L1024.87,617.12 L1024.94,617.12 L1025.00,617.12 L1025.07,617.12 L1025.13,617.12 L1025.20,615.38 L1025.26,612.97 L1025.33,610.64 L1025.39,608.38 L1025.46,606.20 L1025.52,604.08 L1025.59,602.03 L1025.65,600.04 L1025.72,598.11 L1025.79,596.23 L1025.85,594.41 L1025.92,592.63 L1025.98,590.91 L1026.05,589.23 L1026.11,587.59 L1026.18,586.00 L1026.24,584.45 L1026.31,582.93 L1026.37,581.46 L1026.44,580.02 L1026.50,578.61 L1026.57,577.24 L1026.63,575.90 L1026.70,574.59 L1026.76,573.31 L1026.83,572.07 L1026.89,570.85 L1026.96,569.65 L1027.02,568.49 L1027.09,567.35 L1027.15,566.23 L1027.22,565.14 L1027.28,564.07 L1027.35,563.03 L1027.41,562.01 L1027.48,561.01 L1027.54,560.03 L1027.61,559.07 L1027.68,558.13 L1027.74,557.21 L1027.81,556.32 L1027.87,555.44 L1027.94,554.57 L1028.00,553.73 L1028.07,552.91 L1028.13,552.10 L1028.20,551.31 L1028.26,550.53 L1028.33,549.77 L1028.39,549.03 L1028.46,548.31 L1028.52,547.59 L1028.59,546.90 L1028.65,546.22 L1028.72,545.55 L1028.78,544.90 L1028.85,544.26 L1028.91,543.64 L1028.98,543.03 L1029.04,542.43 L1029.11,541.85 L1029.17,541.27 L1029.24,540.72 L1029.30,540.17 L1029.37,539.64 L1029.44,539.12 L1029.50,538.61 L1029.57,538.12 L1029.63,537.63 L1029.70,537.16 L1029.76,536.70 L1029.83,536.25 L1029.89,535.81 L1029.96,535.39 L1030.02,534.97 L1030.09,534.57 L1030.15,534.17 L1030.22,533.79 L1030.28,533.42 L1030.35,533.06 L1030.41,532.71 L1030.48,532.37 L1030.54,532.04 L1030.61,531.72 L1030.67,531.41 L1030.74,531.11 L1030.80,530.82 L1030.87,530.54 L1030.93,530.27 L1031.00,530.02 L1031.06,529.77 L1031.13,529.53 L1031.19,529.30 L1031.26,529.08 L1031.33,528.86 L1031.39,528.66 L1031.46,528.47 L1031.52,528.29 L1031.59,528.12 L1031.65,527.95 L1031.72,527.80 L1031.78,527.65 L1031.85,527.52 L1031.91,527.39 L1031.98,527.28 L1032.04,527.17 L1032.11,527.07 L1032.17,526.98 L1032.24,526.90 L1032.30,526.83 L1032.37,526.77 L1032.43,526.71 L1032.50,526.67 L1032.56,526.64 L1032.63,526.61 L1032.69,526.60 L1032.76,526.59 L1032.82,526.59 L1032.89,526.60 L1032.95,526.62 L1033.02,526.65 L1033.09,526.69 L1033.15,526.74 L1033.22,526.80 L1033.28,526.86 L1033.35,526.94 L1033.41,527.02 L1033.48,527.12 L1033.54,527.22 L1033.61,527.34 L1033.67,527.46 L1033.74,527.59 L1033.80,527.73 L1033.87,527.88 L1033.93,528.05 L1034.00,528.22 L1034.06,528.40 L1034.13,528.59 L1034.19,528.79 L1034.26,528.99 L1034.32,529.21 L1034.39,529.44 L1034.45,529.68 L1034.52,529.93 L1034.58,530.19 L1034.65,530.46 L1034.71,530.74 L1034.78,531.03 L1034.84,531.33 L1034.91,531.65 L1034.98,531.97 L1035.04,532.30 L1035.11,532.64 L1035.17,533.00 L1035.24,533.37 L1035.30,533.74 L1035.37,534.13 L1035.43,534.53 L1035.50,534.94 L1035.56,535.37 L1035.63,535.80 L1035.69,536.25 L1035.76,536.71 L1035.82,537.18 L1035.89,537.66 L1035.95,538.16 L1036.02,538.66 L1036.08,539.19 L1036.15,539.72 L1036.21,540.27 L1036.28,540.83 L1036.34,541.40 L1036.41,541.99 L1036.47,542.60 L1036.54,543.21 L1036.60,543.84 L1036.67,544.49 L1036.73,545.15 L1036.80,545.83 L1036.87,546.52 L1036.93,547.23 L1037.00,547.95 L1037.06,548.69 L1037.13,549.45 L1037.19,550.22 L1037.26,551.01 L1037.32,551.82 L1037.39,552.65 L1037.45,553.49 L1037.52,554.36 L1037.58,555.24 L1037.65,556.14 L1037.71,557.07 L1037.78,558.01 L1037.84,558.98 L1037.91,559.96 L1037.97,560.97 L1038.04,562.01 L1038.10,563.06 L1038.17,564.14 L1038.23,565.24 L1038.30,566.37 L1038.36,567.53 L1038.43,568.71 L1038.49,569.92 L1038.56,571.16 L1038.63,572.43 L1038.69,573.73 L1038.76,575.06 L1038.82,576.43 L1038.89,577.82 L1038.95,579.26 L1039.02,580.72 L1039.08,582.23 L1039.15,583.78 L1039.21,585.36 L1039.28,586.99 L1039.34,588.66 L1039.41,590.38 L1039.47,592.15 L1039.54,593.96 L1039.60,595.83 L1039.67,597.76 L1039.73,599.74 L1039.80,601.78 L1039.86,603.89 L1039.93,606.06 L1039.99,608.31 L1040.06,610.63 L1040.12,613.03 L1040.19,615.52 L1040.25,617.12 L1040.32,617.12 L1040.38,617.12 L1040.45,617.12 L1040.52,617.12 L1040.58,617.12 L1040.65,617.12 L1040.71,617.12 L1040.78,617.12 L1040.84,617.12 L1040.91,617.12 L1040.97,617.12 L1041.04,617.12 L1041.10,617.12 L1041.17,617.12 L1041.23,617.12 L1041.30,617.12 L1041.36,617.12 L1041.43,617.12 L1041.49,617.12 L1041.56,617.12 L1041.62,617.12 L1041.69,617.12 L1041.75,617.12 L1041.82,617.12 L1041.88,617.12 L1041.95,617.12 L1042.01,617.12 L1042.08,617.12 L1042.14,617.12 L1042.21,617.12 L1042.28,617.12 L1042.34,617.12 L1042.41,617.12 L1042.47,617.12 L1042.54,617.12 L1042.60,617.12 L1042.67,617.12 L1042.73,617.12 L1042.80,617.12 L1042.86,617.12 L1042.93,617.12 L1042.99,617.12 L1043.06,617.12 L1043.12,617.12 L1043.19,617.12 L1043.25,617.12 L1043.32,617.12 L1043.38,617.12 L1043.45,617.12 L1043.51,617.12 L1043.58,617.12 L1043.64,617.12 L1043.71,617.12 L1043.77,617.12 L1043.84,617.12 L1043.90,617.12 L1043.97,617.12 L1044.03,617.12 L1044.10,617.12 L1044.17,615.28 L1044.23,612.94 L1044.30,610.68 L1044.36,608.49 L1044.43,606.38 L1044.49,604.34 L1044.56,602.36 L1044.62,600.44 L1044.69,598.59 L1044.75,596.78 L1044.82,595.04 L1044.88,593.34 L1044.95,591.69 L1045.01,590.09 L1045.08,588.54 L1045.14,587.02 L1045.21,585.55 L1045.27,584.12 L1045.34,582.73 L1045.40,581.38 L1045.47,580.06 L1045.53,578.78 L1045.60,577.53 L1045.66,576.31 L1045.73,575.13 L1045.79,573.97 L1045.86,572.85 L1045.92,571.75 L1045.99,570.69 L1046.06,569.65 L1046.12,568.63 L1046.19,567.65 L1046.25,566.68 L1046.32,565.75 L1046.38,564.83 L1046.45,563.95 L1046.51,563.08 L1046.58,562.24 L1046.64,561.42 L1046.71,560.62 L1046.77,559.84 L1046.84,559.08 L1046.90,558.34 L1046.97,557.63 L1047.03,556.93 L1047.10,556.25 L1047.16,555.59 L1047.23,554.95 L1047.29,554.33 L1047.36,553.73 L1047.42,553.14 L1047.49,552.57 L1047.55,552.02 L1047.62,551.49 L1047.68,550.97 L1047.75,550.47 L1047.82,549.99 L1047.88,549.52 L1047.95,549.07 L1048.01,548.64 L1048.08,548.22 L1048.14,547.81 L1048.21,547.43 L1048.27,547.05 L1048.34,546.69 L1048.40,546.35 L1048.47,546.02 L1048.53,545.71 L1048.60,545.41 L1048.66,545.13 L1048.73,544.86 L1048.79,544.60 L1048.86,544.36 L1048.92,544.14 L1048.99,543.92 L1049.05,543.73 L1049.12,543.54 L1049.18,543.37 L1049.25,543.22 L1049.31,543.07 L1049.38,542.95 L1049.44,542.83 L1049.51,542.73 L1049.57,542.64 L1049.64,542.57 L1049.71,542.51 L1049.77,542.47 L1049.84,542.43 L1049.90,542.42 L1049.97,542.41 L1050.03,542.42 L1050.10,542.44 L1050.16,542.48 L1050.23,542.53 L1050.29,542.59 L1050.36,542.67 L1050.42,542.76 L1050.49,542.87 L1050.55,542.99 L1050.62,543.12 L1050.68,543.27 L1050.75,543.43 L1050.81,543.61 L1050.88,543.80 L1050.94,544.00 L1051.01,544.22 L1051.07,544.46 L1051.14,544.71 L1051.20,544.97 L1051.27,545.25 L1051.33,545.54 L1051.40,545.85 L1051.47,546.17 L1051.53,546.51 L1051.60,546.87 L1051.66,547.24 L1051.73,547.62 L1051.79,548.02 L1051.86,548.44 L1051.92,548.88 L1051.99,549.33 L1052.05,549.79 L1052.12,550.28 L1052.18,550.78 L1052.25,551.30 L1052.31,551.84 L1052.38,552.39 L1052.44,552.96 L1052.51,553.55 L1052.57,554.16 L1052.64,554.79 L1052.70,555.44 L1052.77,556.11 L1052.83,556.80 L1052.90,557.50 L1052.96,558.23 L1053.03,558.98 L1053.09,559.75 L1053.16,560.55 L1053.22,561.36 L1053.29,562.20 L1053.36,563.07 L1053.42,563.95 L1053.49,564.86 L1053.55,565.80 L1053.62,566.76 L1053.68,567.75 L1053.75,568.76 L1053.81,569.80 L1053.88,570.87 L1053.94,571.97 L1054.01,573.10 L1054.07,574.26 L1054.14,575.46 L1054.20,576.68 L1054.27,577.94 L1054.33,579.24 L1054.40,580.57 L1054.46,581.94 L1054.53,583.34 L1054.59,584.79 L1054.66,586.28 L1054.72,587.81 L1054.79,589.39 L1054.85,591.01 L1054.92,592.68 L1054.98,594.40 L1055.05,596.18 L1055.12,598.01 L1055.18,599.90 L1055.25,601.85 L1055.31,603.87 L1055.38,605.95 L1055.44,608.10 L1055.51,610.33 L1055.57,612.64 L1055.64,615.03 L1055.70,617.12 L1055.77,617.12 L1055.83,617.12 L1055.90,617.12 L1055.96,617.12 L1056.03,617.12 L1056.09,617.12 L1056.16,617.12 L1056.22,617.12 L1056.29,617.12 L1056.35,617.12 L1056.42,617.12 L1056.48,617.12 L1056.55,617.12 L1056.61,617.12 L1056.68,617.12 L1056.74,617.12 L1056.81,617.12 L1056.87,617.12 L1056.94,617.12 L1057.01,617.12 L1057.07,617.12 L1057.14,617.12 L1057.20,617.12 L1057.27,617.12 L1057.33,617.12 L1057.40,617.12 L1057.46,617.12 L1057.53,617.12 L1057.59,617.12 L1057.66,617.12 L1057.72,617.12 L1057.79,617.12 L1057.85,617.12 L1057.92,617.12 L1057.98,617.12 L1058.05,617.12 L1058.11,617.12 L1058.18,617.12 L1058.24,617.12 L1058.31,617.12 L1058.37,617.12 L1058.44,617.12 L1058.50,617.12 L1058.57,617.12 L1058.63,617.12 L1058.70,617.12 L1058.76,617.12 L1058.83,617.12 L1058.90,617.12 L1058.96,617.12 L1059.03,617.12 L1059.09,617.12 L1059.16,617.12 L1059.22,617.12 L1059.29,617.12 L1059.35,617.12 L1059.42,617.12 L1059.48,617.12 L1059.55,617.12 L1059.61,617.12 L1059.68,614.97 L1059.74,612.72 L1059.81,610.56 L1059.87,608.47 L1059.94,606.46 L1060.00,604.51 L1060.07,602.63 L1060.13,600.81 L1060.20,599.05 L1060.26,597.35 L1060.33,595.71 L1060.39,594.11 L1060.46,592.57 L1060.52,591.07 L1060.59,589.62 L1060.66,588.21 L1060.72,586.85 L1060.79,585.53 L1060.85,584.25 L1060.92,583.01 L1060.98,581.80 L1061.05,580.64 L1061.11,579.50 L1061.18,578.41 L1061.24,577.34 L1061.31,576.31 L1061.37,575.31 L1061.44,574.35 L1061.50,573.41 L1061.57,572.50 L1061.63,571.62 L1061.70,570.77 L1061.76,569.95 L1061.83,569.15 L1061.89,568.38 L1061.96,567.64 L1062.02,566.92 L1062.09,566.22 L1062.15,565.56 L1062.22,564.91 L1062.28,564.29 L1062.35,563.70 L1062.41,563.12 L1062.48,562.57 L1062.55,562.04 L1062.61,561.54 L1062.68,561.05 L1062.74,560.59 L1062.81,560.15 L1062.87,559.73 L1062.94,559.33 L1063.00,558.96 L1063.07,558.60 L1063.13,558.26 L1063.20,557.95 L1063.26,557.65 L1063.33,557.37 L1063.39,557.12 L1063.46,556.88 L1063.52,556.67 L1063.59,556.47 L1063.65,556.29 L1063.72,556.13 L1063.78,556.00 L1063.85,555.88 L1063.91,555.78 L1063.98,555.70 L1064.04,555.64 L1064.11,555.59 L1064.17,555.57 L1064.24,555.57 L1064.31,555.58 L1064.37,555.62 L1064.44,555.67 L1064.50,555.74 L1064.57,555.84 L1064.63,555.95 L1064.70,556.08 L1064.76,556.23 L1064.83,556.40 L1064.89,556.59 L1064.96,556.80 L1065.02,557.03 L1065.09,557.28 L1065.15,557.55 L1065.22,557.84 L1065.28,558.15 L1065.35,558.49 L1065.41,558.84 L1065.48,559.21 L1065.54,559.61 L1065.61,560.03 L1065.67,560.47 L1065.74,560.93 L1065.80,561.41 L1065.87,561.92 L1065.93,562.45 L1066.00,563.00 L1066.06,563.58 L1066.13,564.18 L1066.20,564.80 L1066.26,565.45 L1066.33,566.13 L1066.39,566.83 L1066.46,567.56 L1066.52,568.31 L1066.59,569.09 L1066.65,569.90 L1066.72,570.73 L1066.78,571.60 L1066.85,572.49 L1066.91,573.42 L1066.98,574.38 L1067.04,575.36 L1067.11,576.38 L1067.17,577.44 L1067.24,578.53 L1067.30,579.65 L1067.37,580.81 L1067.43,582.01 L1067.50,583.25 L1067.56,584.52 L1067.63,585.84 L1067.69,587.20 L1067.76,588.60 L1067.82,590.05 L1067.89,591.55 L1067.95,593.10 L1068.02,594.70 L1068.09,596.35 L1068.15,598.06 L1068.22,599.82 L1068.28,601.65 L1068.35,603.54 L1068.41,605.49 L1068.48,607.52 L1068.54,609.62 L1068.61,611.80 L1068.67,614.06 L1068.74,616.41 L1068.80,617.12 L1068.87,617.12 L1068.93,617.12 L1069.00,617.12 L1069.06,617.12 L1069.13,617.12 L1069.19,617.12 L1069.26,617.12 L1069.32,617.12 L1069.39,617.12 L1069.45,617.12 L1069.52,617.12 L1069.58,617.12 L1069.65,617.12 L1069.71,617.12 L1069.78,617.12 L1069.85,617.12 L1069.91,617.12 L1069.98,617.12 L1070.04,617.12 L1070.11,617.12 L1070.17,617.12 L1070.24,617.12 L1070.30,617.12 L1070.37,617.12 L1070.43,617.12 L1070.50,617.12 L1070.56,617.12 L1070.63,617.12 L1070.69,617.12 L1070.76,617.12 L1070.82,617.12 L1070.89,617.12 L1070.95,617.12 L1071.02,617.12 L1071.08,617.12 L1071.15,617.12 L1071.21,617.12 L1071.28,617.12 L1071.34,617.12 L1071.41,617.12 L1071.47,617.12 L1071.54,617.12 L1071.60,617.12 L1071.67,617.12 L1071.74,617.12 L1071.80,617.12 L1071.87,617.12 L1071.93,617.12 L1072.00,617.12 L1072.06,617.12 L1072.13,617.12 L1072.19,617.12 L1072.26,617.12 L1072.32,617.12 L1072.39,617.12 L1072.45,617.12 L1072.52,617.12 L1072.58,617.12 L1072.65,617.12 L1072.71,617.12 L1072.78,615.56 L1072.84,613.40 L1072.91,611.32 L1072.97,609.32 L1073.04,607.40 L1073.10,605.54 L1073.17,603.75 L1073.23,602.03 L1073.30,600.37 L1073.36,598.76 L1073.43,597.22 L1073.50,595.73 L1073.56,594.29 L1073.63,592.90 L1073.69,591.56 L1073.76,590.26 L1073.82,589.02 L1073.89,587.81 L1073.95,586.65 L1074.02,585.53 L1074.08,584.45 L1074.15,583.41 L1074.21,582.41 L1074.28,581.45 L1074.34,580.52 L1074.41,579.63 L1074.47,578.77 L1074.54,577.95 L1074.60,577.16 L1074.67,576.40 L1074.73,575.68 L1074.80,574.99 L1074.86,574.32 L1074.93,573.69 L1074.99,573.09 L1075.06,572.52 L1075.12,571.98 L1075.19,571.46 L1075.25,570.98 L1075.32,570.52 L1075.39,570.09 L1075.45,569.69 L1075.52,569.31 L1075.58,568.97 L1075.65,568.64 L1075.71,568.35 L1075.78,568.08 L1075.84,567.84 L1075.91,567.62 L1075.97,567.43 L1076.04,567.27 L1076.10,567.13 L1076.17,567.02 L1076.23,566.93 L1076.30,566.87 L1076.36,566.84 L1076.43,566.83 L1076.49,566.84 L1076.56,566.88 L1076.62,566.95 L1076.69,567.04 L1076.75,567.16 L1076.82,567.30 L1076.88,567.47 L1076.95,567.67 L1077.01,567.89 L1077.08,568.14 L1077.15,568.42 L1077.21,568.72 L1077.28,569.05 L1077.34,569.41 L1077.41,569.79 L1077.47,570.21 L1077.54,570.65 L1077.60,571.12 L1077.67,571.62 L1077.73,572.14 L1077.80,572.70 L1077.86,573.29 L1077.93,573.91 L1077.99,574.56 L1078.06,575.24 L1078.12,575.95 L1078.19,576.70 L1078.25,577.48 L1078.32,578.29 L1078.38,579.14 L1078.45,580.03 L1078.51,580.95 L1078.58,581.91 L1078.64,582.90 L1078.71,583.94 L1078.77,585.02 L1078.84,586.14 L1078.90,587.30 L1078.97,588.50 L1079.04,589.75 L1079.10,591.05 L1079.17,592.40 L1079.23,593.79 L1079.30,595.24 L1079.36,596.74 L1079.43,598.30 L1079.49,599.92 L1079.56,601.60 L1079.62,603.34 L1079.69,605.15 L1079.75,607.02 L1079.82,608.97 L1079.88,611.00 L1079.95,613.11 L1080.01,615.30 L1080.08,617.12 L1080.14,617.12 L1080.21,617.12 L1080.27,617.12 L1080.34,617.12 L1080.40,617.12 L1080.47,617.12 L1080.53,617.12 L1080.60,617.12 L1080.66,617.12 L1080.73,617.12 L1080.79,617.12 L1080.86,617.12 L1080.93,617.12 L1080.99,617.12 L1081.06,617.12 L1081.12,617.12 L1081.19,617.12 L1081.25,617.12 L1081.32,617.12 L1081.38,617.12 L1081.45,617.12 L1081.51,617.12 L1081.58,617.12 L1081.64,617.12 L1081.71,617.12 L1081.77,617.12 L1081.84,617.12 L1081.90,617.12 L1081.97,617.12 L1082.03,617.12 L1082.10,617.12 L1082.16,617.12 L1082.23,617.12 L1082.29,617.12 L1082.36,617.12 L1082.42,617.12 L1082.49,617.12 L1082.55,617.12 L1082.62,617.12 L1082.69,617.12 L1082.75,617.12 L1082.82,617.12 L1082.88,617.12 L1082.95,617.12 L1083.01,617.12 L1083.08,617.12 L1083.14,617.12 L1083.21,617.12 L1083.27,617.12 L1083.34,617.12 L1083.40,617.12 L1083.47,617.12 L1083.53,617.12 L1083.60,617.12 L1083.66,617.12 L1083.73,617.12 L1083.79,617.12 L1083.86,617.12 L1083.92,617.12 L1083.99,617.12 L1084.05,617.12 L1084.12,616.64 L1084.18,614.57 L1084.25,612.58 L1084.31,610.67 L1084.38,608.83 L1084.44,607.07 L1084.51,605.38 L1084.58,603.76 L1084.64,602.20 L1084.71,600.71 L1084.77,599.27 L1084.84,597.89 L1084.90,596.57 L1084.97,595.30 L1085.03,594.08 L1085.10,592.91 L1085.16,591.79 L1085.23,590.72 L1085.29,589.70 L1085.36,588.72 L1085.42,587.78 L1085.49,586.89 L1085.55,586.04 L1085.62,585.23 L1085.68,584.46 L1085.75,583.73 L1085.81,583.04 L1085.88,582.39 L1085.94,581.77 L1086.01,581.19 L1086.07,580.65 L1086.14,580.15 L1086.20,579.68 L1086.27,579.24 L1086.34,578.84 L1086.40,578.48 L1086.47,578.15 L1086.53,577.85 L1086.60,577.59 L1086.66,577.36 L1086.73,577.16 L1086.79,577.00 L1086.86,576.87 L1086.92,576.77 L1086.99,576.70 L1087.05,576.67 L1087.12,576.67 L1087.18,576.71 L1087.25,576.77 L1087.31,576.87 L1087.38,577.01 L1087.44,577.17 L1087.51,577.37 L1087.57,577.61 L1087.64,577.88 L1087.70,578.18 L1087.77,578.51 L1087.83,578.89 L1087.90,579.29 L1087.96,579.73 L1088.03,580.21 L1088.09,580.73 L1088.16,581.28 L1088.23,581.86 L1088.29,582.49 L1088.36,583.16 L1088.42,583.86 L1088.49,584.61 L1088.55,585.39 L1088.62,586.22 L1088.68,587.09 L1088.75,588.00 L1088.81,588.96 L1088.88,589.96 L1088.94,591.01 L1089.01,592.11 L1089.07,593.26 L1089.14,594.46 L1089.20,595.71 L1089.27,597.02 L1089.33,598.38 L1089.40,599.81 L1089.46,601.29 L1089.53,602.83 L1089.59,604.44 L1089.66,606.12 L1089.72,607.87 L1089.79,609.69 L1089.85,611.60 L1089.92,613.58 L1089.98,615.65 L1090.05,617.12 L1090.12,617.12 L1090.18,617.12 L1090.25,617.12 L1090.31,617.12 L1090.38,617.12 L1090.44,617.12 L1090.51,617.12 L1090.57,617.12 L1090.64,617.12 L1090.70,617.12 L1090.77,617.12 L1090.83,617.12 L1090.90,617.12 L1090.96,617.12 L1091.03,617.12 L1091.09,617.12 L1091.16,617.12 L1091.22,617.12 L1091.29,617.12 L1091.35,617.12 L1091.42,617.12 L1091.48,617.12 L1091.55,617.12 L1091.61,617.12 L1091.68,617.12 L1091.74,617.12 L1091.81,617.12 L1091.88,617.12 L1091.94,617.12 L1092.01,617.12 L1092.07,617.12 L1092.14,617.12 L1092.20,617.12 L1092.27,617.12 L1092.33,617.12 L1092.40,617.12 L1092.46,617.12 L1092.53,617.12 L1092.59,617.12 L1092.66,617.12 L1092.72,617.12 L1092.79,617.12 L1092.85,617.12 L1092.92,617.12 L1092.98,617.12 L1093.05,617.12 L1093.11,617.12 L1093.18,617.12 L1093.24,617.12 L1093.31,617.12 L1093.37,617.12 L1093.44,617.12 L1093.50,617.12 L1093.57,617.12 L1093.63,617.12 L1093.70,617.12 L1093.77,617.12 L1093.83,617.12 L1093.90,617.12 L1093.96,617.12 L1094.03,617.12 L1094.09,617.12 L1094.16,616.88 L1094.22,614.94 L1094.29,613.10 L1094.35,611.33 L1094.42,609.64 L1094.48,608.03 L1094.55,606.49 L1094.61,605.02 L1094.68,603.62 L1094.74,602.28 L1094.81,601.00 L1094.87,599.78 L1094.94,598.62 L1095.00,597.52 L1095.07,596.48 L1095.13,595.48 L1095.20,594.54 L1095.26,593.65 L1095.33,592.81 L1095.39,592.02 L1095.46,591.28 L1095.53,590.59 L1095.59,589.94 L1095.66,589.33 L1095.72,588.78 L1095.79,588.26 L1095.85,587.79 L1095.92,587.37 L1095.98,586.98 L1096.05,586.64 L1096.11,586.34 L1096.18,586.09 L1096.24,585.87 L1096.31,585.70 L1096.37,585.56 L1096.44,585.47 L1096.50,585.42 L1096.57,585.41 L1096.63,585.45 L1096.70,585.52 L1096.76,585.63 L1096.83,585.79 L1096.89,585.99 L1096.96,586.23 L1097.02,586.51 L1097.09,586.84 L1097.15,587.20 L1097.22,587.61 L1097.28,588.07 L1097.35,588.57 L1097.42,589.11 L1097.48,589.70 L1097.55,590.34 L1097.61,591.02 L1097.68,591.75 L1097.74,592.53 L1097.81,593.36 L1097.87,594.24 L1097.94,595.17 L1098.00,596.16 L1098.07,597.20 L1098.13,598.30 L1098.20,599.46 L1098.26,600.67 L1098.33,601.95 L1098.39,603.29 L1098.46,604.70 L1098.52,606.17 L1098.59,607.72 L1098.65,609.34 L1098.72,611.03 L1098.78,612.81 L1098.85,614.67 L1098.91,616.62 L1098.98,617.12 L1099.04,617.12 L1099.11,617.12 L1099.18,617.12 L1099.24,617.12 L1099.31,617.12 L1099.37,617.12 L1099.44,617.12 L1099.50,617.12 L1099.57,617.12 L1099.63,617.12 L1099.70,617.12 L1099.76,617.12 L1099.83,617.12 L1099.89,617.12 L1099.96,617.12 L1100.02,617.12 L1100.09,617.12 L1100.15,617.12 L1100.22,617.12 L1100.28,617.12 L1100.35,617.12 L1100.41,617.12 L1100.48,617.12 L1100.54,617.12 L1100.61,617.12 L1100.67,617.12 L1100.74,617.12 L1100.80,617.12 L1100.87,617.12 L1100.93,617.12 L1101.00,617.12" fill="none" stroke="#000" stroke-width="2.7" stroke-linejoin="round" clip-path="url(#rc)"/>
<rect x="710.0" y="310.0" width="391.0" height="280.6" fill="none" stroke="#000" stroke-width="1.7"/>
<path d="M847,299.6 L891.6,311.3 L885.3,333.5 L841,322 Z" fill="#fefba8" style="mix-blend-mode:multiply"/>
<rect x="842.2" y="304.0" width="41.6" height="21.0" rx="4" fill="#fdf9b2" stroke="#000" stroke-width="1.8"/>
<text x="846.80" y="317.70" font-family='"Liberation Sans", sans-serif' font-size="12.60" font-weight="bold" font-style="normal" fill="#000" stroke="#000" stroke-width="0.3" textLength="19.60" lengthAdjust="spacingAndGlyphs" >f = f</text>
<text x="866.00" y="319.70" font-family='"Liberation Sans", sans-serif' font-size="7.50" font-weight="bold" font-style="normal" fill="#000" stroke="#000" stroke-width="0.3" textLength="4.00" lengthAdjust="spacingAndGlyphs" >s</text>
<text x="870.00" y="317.70" font-family='"Liberation Sans", sans-serif' font-size="12.60" font-weight="bold" font-style="normal" fill="#000" stroke="#000" stroke-width="0.3" textLength="9.80" lengthAdjust="spacingAndGlyphs" >/2</text>
<path d="M901.6,338.1 L958.5,341.4 L957.8,365.5 L901,361.6 Z" fill="#fefba8" style="mix-blend-mode:multiply"/>
<rect x="901.6" y="341.9" width="50.5" height="19.5" rx="4" fill="#fdf9b2" stroke="#000" stroke-width="1.8"/>
<text x="905.50" y="355.30" font-family='"Liberation Sans", sans-serif' font-size="13.20" font-weight="bold" font-style="normal" fill="#000" stroke="#000" stroke-width="0.3" textLength="42.80" lengthAdjust="spacingAndGlyphs" >-3.92 dB</text>
<text x="912.40" y="419.90" font-family='"Liberation Sans", sans-serif' font-size="26.00" font-weight="bold" font-style="normal" fill="#000" stroke="#000" stroke-width="0.3" textLength="173.00" lengthAdjust="spacingAndGlyphs" >Sample-and-Hold</text>
<text x="696.40" y="325.30" font-family='"Liberation Sans", sans-serif' font-size="15.80" font-weight="bold" font-style="normal" fill="#000" stroke="#000" stroke-width="0.3" textLength="7.20" lengthAdjust="spacingAndGlyphs" >0</text>
<text x="688.20" y="370.50" font-family='"Liberation Sans", sans-serif' font-size="15.80" font-weight="bold" font-style="normal" fill="#000" stroke="#000" stroke-width="0.3" textLength="15.40" lengthAdjust="spacingAndGlyphs" >−5</text>
<text x="680.70" y="415.70" font-family='"Liberation Sans", sans-serif' font-size="15.80" font-weight="bold" font-style="normal" fill="#000" stroke="#000" stroke-width="0.3" textLength="22.70" lengthAdjust="spacingAndGlyphs" >−10</text>
<text x="680.70" y="460.90" font-family='"Liberation Sans", sans-serif' font-size="15.80" font-weight="bold" font-style="normal" fill="#000" stroke="#000" stroke-width="0.3" textLength="22.70" lengthAdjust="spacingAndGlyphs" >−15</text>
<text x="680.70" y="506.10" font-family='"Liberation Sans", sans-serif' font-size="15.80" font-weight="bold" font-style="normal" fill="#000" stroke="#000" stroke-width="0.3" textLength="22.70" lengthAdjust="spacingAndGlyphs" >−20</text>
<text x="680.70" y="551.30" font-family='"Liberation Sans", sans-serif' font-size="15.80" font-weight="bold" font-style="normal" fill="#000" stroke="#000" stroke-width="0.3" textLength="22.70" lengthAdjust="spacingAndGlyphs" >−25</text>
<text x="680.70" y="595.20" font-family='"Liberation Sans", sans-serif' font-size="15.80" font-weight="bold" font-style="normal" fill="#000" stroke="#000" stroke-width="0.3" textLength="22.70" lengthAdjust="spacingAndGlyphs" >−30</text>
<text x="691.00" y="609.50" font-family='"Liberation Sans", sans-serif' font-size="15.80" font-weight="bold" font-style="normal" fill="#000" stroke="#000" stroke-width="0.3" textLength="38.00" lengthAdjust="spacingAndGlyphs" >100 m</text>
<text x="903.00" y="609.00" font-family='"Liberation Sans", sans-serif' font-size="15.80" font-weight="bold" font-style="normal" fill="#000" stroke="#000" stroke-width="0.3" textLength="5.50" lengthAdjust="spacingAndGlyphs" >1</text>
<text x="1093.70" y="608.60" font-family='"Liberation Sans", sans-serif' font-size="15.80" font-weight="bold" font-style="normal" fill="#000" stroke="#000" stroke-width="0.3" textLength="14.80" lengthAdjust="spacingAndGlyphs" >10</text>
<text x="855.00" y="632.00" font-family='"Liberation Sans", sans-serif' font-size="15.80" font-weight="bold" font-style="normal" fill="#000" stroke="#000" stroke-width="0.3" textLength="101.80" lengthAdjust="spacingAndGlyphs" >Frequency (f/f<tspan font-size="10.5" dy="3">s</tspan><tspan dy="-3">)</tspan></text>
<g transform="translate(670.0,451.5) rotate(-90)">
<text x="-50.30" y="0.00" font-family='"Liberation Sans", sans-serif' font-size="15.80" font-weight="bold" font-style="normal" fill="#000" stroke="#000" stroke-width="0.3" textLength="100.60" lengthAdjust="spacingAndGlyphs" >Magnitude (dB)</text>
</g>
<text x="1119.70" y="621.80" font-family='"Liberation Sans", sans-serif' font-size="15.20" font-weight="normal" font-style="normal" fill="#000" stroke="#000" stroke-width="0" textLength="24.80" lengthAdjust="spacingAndGlyphs" >026</text>
<text x="1172.00" y="621.80" font-family='"Liberation Sans", sans-serif' font-size="15.20" font-weight="bold" font-style="normal" fill="#000" stroke="#000" stroke-width="0.1" textLength="16.00" lengthAdjust="spacingAndGlyphs" >27</text>
</svg>
</body></html>
